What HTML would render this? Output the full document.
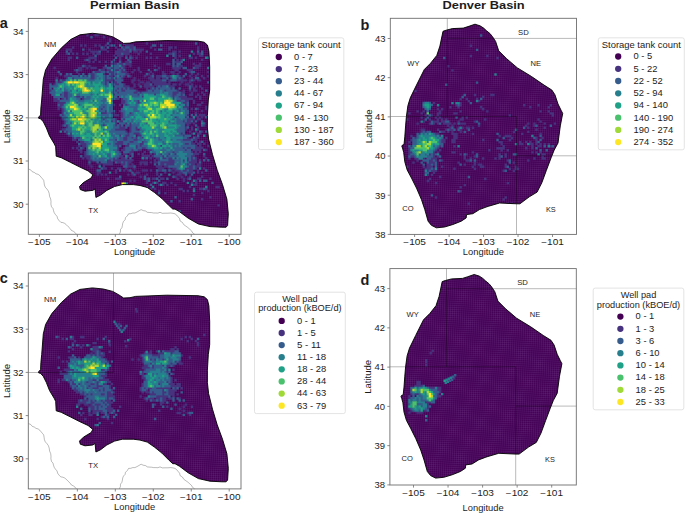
<!DOCTYPE html>
<html><head><meta charset="utf-8"><style>
html,body{margin:0;padding:0;background:#fff;width:685px;height:513px;overflow:hidden}
svg{display:block}
text{font-family:"Liberation Sans",sans-serif}
</style></head><body>
<svg width="685" height="513" viewBox="0 0 685 513">
<defs><pattern id="tex" patternUnits="userSpaceOnUse" width="2.05" height="2.05" patternTransform="rotate(2.5)"><path d="M0 0.2H2.05M0.2 0V2.05" stroke="#7a4a92" stroke-width="0.45" stroke-opacity="0.4" fill="none"/></pattern><filter id="soft" x="-5%" y="-5%" width="110%" height="110%"><feGaussianBlur stdDeviation="0.35"/></filter><clipPath id="clipa"><polygon points="41.7,100.0 43.3,79.3 45.6,69.9 51.8,59.0 61.2,48.1 70.6,39.5 80.0,34.8 92.4,33.3 103.3,34.4 112.7,36.8 118.9,40.3 123.6,43.4 130.0,43.1 135.6,41.8 166.8,40.6 198.0,41.1 204.2,42.2 207.4,45.0 208.9,51.2 209.7,66.8 209.7,90.0 208.3,100.0 207.4,115.6 207.4,128.0 208.6,139.0 212.5,154.6 217.2,170.2 222.5,184.6 226.9,199.2 228.3,213.8 227.6,225.5 226.1,227.2 221.8,227.2 210.0,226.6 198.4,224.0 188.2,218.2 179.4,211.6 175.0,209.1 172.8,209.1 169.2,205.8 161.9,198.5 154.6,192.6 147.3,187.5 140.0,185.5 133.3,184.6 122.4,184.6 114.6,186.5 106.8,190.4 100.6,195.1 95.9,197.4 95.1,188.9 92.8,190.4 85.0,191.2 80.3,189.6 79.5,186.5 83.4,182.6 91.2,177.9 92.8,174.8 88.1,170.9 79.9,167.1 70.6,162.4 61.2,157.7 56.2,156.2 55.7,146.8 54.2,143.7 49.5,135.9 46.4,128.0 43.3,121.8 40.6,118.8 38.6,118.2 38.6,117.2 40.6,115.0 40.9,108.0"/></clipPath><clipPath id="clipc"><polygon points="41.7,354.6 43.3,333.9 45.6,324.5 51.8,313.6 61.2,302.7 70.6,294.1 80.0,289.4 92.4,287.9 103.3,289.0 112.7,291.4 118.9,294.9 123.6,298.0 130.0,297.7 135.6,296.4 166.8,295.2 198.0,295.7 204.2,296.8 207.4,299.6 208.9,305.8 209.7,321.4 209.7,344.6 208.3,354.6 207.4,370.2 207.4,382.6 208.6,393.6 212.5,409.2 217.2,424.8 222.5,439.2 226.9,453.8 228.3,468.4 227.6,480.1 226.1,481.8 221.8,481.8 210.0,481.2 198.4,478.6 188.2,472.8 179.4,466.2 175.0,463.7 172.8,463.7 169.2,460.4 161.9,453.1 154.6,447.2 147.3,442.1 140.0,440.1 133.3,439.2 122.4,439.2 114.6,441.1 106.8,445.0 100.6,449.7 95.9,452.0 95.1,443.5 92.8,445.0 85.0,445.8 80.3,444.2 79.5,441.1 83.4,437.2 91.2,432.5 92.8,429.4 88.1,425.5 79.9,421.7 70.6,417.0 61.2,412.3 56.2,410.8 55.7,401.4 54.2,398.3 49.5,390.5 46.4,382.6 43.3,376.4 40.6,373.4 38.6,372.8 38.6,371.8 40.6,369.6 40.9,362.6"/></clipPath><clipPath id="clipb"><polygon points="443.0,31.3 446.2,30.2 452.4,28.6 463.3,28.1 468.0,26.6 475.0,24.2 480.0,25.8 483.6,28.1 486.2,30.5 490.0,33.6 492.5,36.7 495.6,41.4 498.7,50.8 506.5,58.6 517.4,67.9 531.5,76.5 544.0,85.1 551.8,90.0 554.9,94.7 558.0,104.0 561.1,110.3 562.7,113.4 560.3,125.9 558.0,143.0 554.2,150.0 551.1,157.8 546.4,170.3 541.8,182.8 537.1,192.1 529.3,196.8 519.9,203.8 516.8,203.8 499.6,203.0 488.7,206.2 486.0,207.1 479.4,209.6 472.8,213.7 466.5,214.6 466.2,217.9 461.2,221.2 452.9,224.5 444.6,227.0 436.4,227.8 431.4,225.3 428.1,221.2 424.8,209.6 421.5,199.7 416.5,188.1 411.5,178.1 407.2,170.0 404.8,161.8 403.7,152.4 402.5,148.0 401.8,146.2 402.5,145.0 404.0,144.6 404.8,136.8 405.6,125.9 406.4,116.5 407.9,105.6 410.3,97.8 416.5,85.1 424.3,69.5 430.6,63.2 436.8,55.4 439.9,46.1"/></clipPath><clipPath id="clipd"><polygon points="442.2,281.6 445.4,280.5 451.6,278.9 462.5,278.4 467.2,276.9 474.2,274.5 479.2,276.1 482.8,278.4 485.4,280.8 489.2,283.9 491.7,287.0 494.8,291.7 497.9,301.1 505.7,308.9 516.6,318.2 530.7,326.8 543.2,335.4 551.0,340.3 554.1,345.0 557.2,354.3 560.3,360.6 561.9,363.7 559.5,376.2 557.2,393.3 553.4,400.3 550.3,408.1 545.6,420.6 541.0,433.1 536.3,442.4 528.5,447.1 519.1,454.1 516.0,454.1 498.8,453.3 487.9,456.5 485.2,457.4 478.6,459.9 472.0,464.0 465.7,464.9 465.4,468.2 460.4,471.5 452.1,474.8 443.8,477.3 435.6,478.1 430.6,475.6 427.3,471.5 424.0,459.9 420.7,450.0 415.7,438.4 410.7,428.4 406.4,420.3 404.0,412.1 402.9,402.7 401.7,398.3 401.0,396.5 401.7,395.3 403.2,394.9 404.0,387.1 404.8,376.2 405.6,366.8 407.1,355.9 409.5,348.1 415.7,335.4 423.5,319.8 429.8,313.5 436.0,305.7 439.1,296.4"/></clipPath></defs>
<polygon points="41.7,100.0 43.3,79.3 45.6,69.9 51.8,59.0 61.2,48.1 70.6,39.5 80.0,34.8 92.4,33.3 103.3,34.4 112.7,36.8 118.9,40.3 123.6,43.4 130.0,43.1 135.6,41.8 166.8,40.6 198.0,41.1 204.2,42.2 207.4,45.0 208.9,51.2 209.7,66.8 209.7,90.0 208.3,100.0 207.4,115.6 207.4,128.0 208.6,139.0 212.5,154.6 217.2,170.2 222.5,184.6 226.9,199.2 228.3,213.8 227.6,225.5 226.1,227.2 221.8,227.2 210.0,226.6 198.4,224.0 188.2,218.2 179.4,211.6 175.0,209.1 172.8,209.1 169.2,205.8 161.9,198.5 154.6,192.6 147.3,187.5 140.0,185.5 133.3,184.6 122.4,184.6 114.6,186.5 106.8,190.4 100.6,195.1 95.9,197.4 95.1,188.9 92.8,190.4 85.0,191.2 80.3,189.6 79.5,186.5 83.4,182.6 91.2,177.9 92.8,174.8 88.1,170.9 79.9,167.1 70.6,162.4 61.2,157.7 56.2,156.2 55.7,146.8 54.2,143.7 49.5,135.9 46.4,128.0 43.3,121.8 40.6,118.8 38.6,118.2 38.6,117.2 40.6,115.0 40.9,108.0" fill="#450257"/>
<polygon points="41.7,100.0 43.3,79.3 45.6,69.9 51.8,59.0 61.2,48.1 70.6,39.5 80.0,34.8 92.4,33.3 103.3,34.4 112.7,36.8 118.9,40.3 123.6,43.4 130.0,43.1 135.6,41.8 166.8,40.6 198.0,41.1 204.2,42.2 207.4,45.0 208.9,51.2 209.7,66.8 209.7,90.0 208.3,100.0 207.4,115.6 207.4,128.0 208.6,139.0 212.5,154.6 217.2,170.2 222.5,184.6 226.9,199.2 228.3,213.8 227.6,225.5 226.1,227.2 221.8,227.2 210.0,226.6 198.4,224.0 188.2,218.2 179.4,211.6 175.0,209.1 172.8,209.1 169.2,205.8 161.9,198.5 154.6,192.6 147.3,187.5 140.0,185.5 133.3,184.6 122.4,184.6 114.6,186.5 106.8,190.4 100.6,195.1 95.9,197.4 95.1,188.9 92.8,190.4 85.0,191.2 80.3,189.6 79.5,186.5 83.4,182.6 91.2,177.9 92.8,174.8 88.1,170.9 79.9,167.1 70.6,162.4 61.2,157.7 56.2,156.2 55.7,146.8 54.2,143.7 49.5,135.9 46.4,128.0 43.3,121.8 40.6,118.8 38.6,118.2 38.6,117.2 40.6,115.0 40.9,108.0" fill="url(#tex)"/>
<g clip-path="url(#clipa)"><g filter="url(#soft)"><path fill="#46327e" d="M98.50 32.00h2.4v2.4h-2.4zM106.70 32.00h2.4v2.4h-2.4zM86.20 34.05h2.4v2.4h-2.4zM94.40 34.05h2.4v2.4h-2.4zM96.45 34.05h2.4v2.4h-2.4zM102.60 36.10h2.4v2.4h-2.4zM108.75 38.15h2.4v2.4h-2.4zM108.75 40.20h2.4v2.4h-2.4zM145.65 42.25h2.4v2.4h-2.4zM80.05 44.30h2.4v2.4h-2.4zM84.15 44.30h2.4v2.4h-2.4zM94.40 44.30h2.4v2.4h-2.4zM98.50 44.30h2.4v2.4h-2.4zM104.65 44.30h2.4v2.4h-2.4zM108.75 44.30h2.4v2.4h-2.4zM125.15 44.30h2.4v2.4h-2.4zM127.20 44.30h2.4v2.4h-2.4zM129.25 44.30h2.4v2.4h-2.4zM131.30 44.30h2.4v2.4h-2.4zM71.85 46.35h2.4v2.4h-2.4zM102.60 46.35h2.4v2.4h-2.4zM114.90 46.35h2.4v2.4h-2.4zM123.10 46.35h2.4v2.4h-2.4zM129.25 46.35h2.4v2.4h-2.4zM131.30 46.35h2.4v2.4h-2.4zM149.75 46.35h2.4v2.4h-2.4zM168.20 46.35h2.4v2.4h-2.4zM170.25 46.35h2.4v2.4h-2.4zM174.35 46.35h2.4v2.4h-2.4zM196.90 46.35h2.4v2.4h-2.4zM65.70 48.40h2.4v2.4h-2.4zM67.75 48.40h2.4v2.4h-2.4zM69.80 48.40h2.4v2.4h-2.4zM88.25 48.40h2.4v2.4h-2.4zM100.55 48.40h2.4v2.4h-2.4zM102.60 48.40h2.4v2.4h-2.4zM104.65 48.40h2.4v2.4h-2.4zM116.95 48.40h2.4v2.4h-2.4zM119.00 48.40h2.4v2.4h-2.4zM121.05 48.40h2.4v2.4h-2.4zM125.15 48.40h2.4v2.4h-2.4zM127.20 48.40h2.4v2.4h-2.4zM131.30 48.40h2.4v2.4h-2.4zM135.40 48.40h2.4v2.4h-2.4zM137.45 48.40h2.4v2.4h-2.4zM139.50 48.40h2.4v2.4h-2.4zM141.55 48.40h2.4v2.4h-2.4zM153.85 48.40h2.4v2.4h-2.4zM168.20 48.40h2.4v2.4h-2.4zM196.90 48.40h2.4v2.4h-2.4zM69.80 50.45h2.4v2.4h-2.4zM90.30 50.45h2.4v2.4h-2.4zM92.35 50.45h2.4v2.4h-2.4zM94.40 50.45h2.4v2.4h-2.4zM96.45 50.45h2.4v2.4h-2.4zM106.70 50.45h2.4v2.4h-2.4zM114.90 50.45h2.4v2.4h-2.4zM116.95 50.45h2.4v2.4h-2.4zM119.00 50.45h2.4v2.4h-2.4zM121.05 50.45h2.4v2.4h-2.4zM123.10 50.45h2.4v2.4h-2.4zM125.15 50.45h2.4v2.4h-2.4zM127.20 50.45h2.4v2.4h-2.4zM133.35 50.45h2.4v2.4h-2.4zM135.40 50.45h2.4v2.4h-2.4zM139.50 50.45h2.4v2.4h-2.4zM172.30 50.45h2.4v2.4h-2.4zM174.35 50.45h2.4v2.4h-2.4zM178.45 50.45h2.4v2.4h-2.4zM65.70 52.50h2.4v2.4h-2.4zM71.85 52.50h2.4v2.4h-2.4zM75.95 52.50h2.4v2.4h-2.4zM82.10 52.50h2.4v2.4h-2.4zM86.20 52.50h2.4v2.4h-2.4zM92.35 52.50h2.4v2.4h-2.4zM96.45 52.50h2.4v2.4h-2.4zM98.50 52.50h2.4v2.4h-2.4zM114.90 52.50h2.4v2.4h-2.4zM116.95 52.50h2.4v2.4h-2.4zM119.00 52.50h2.4v2.4h-2.4zM123.10 52.50h2.4v2.4h-2.4zM125.15 52.50h2.4v2.4h-2.4zM127.20 52.50h2.4v2.4h-2.4zM137.45 52.50h2.4v2.4h-2.4zM149.75 52.50h2.4v2.4h-2.4zM168.20 52.50h2.4v2.4h-2.4zM170.25 52.50h2.4v2.4h-2.4zM174.35 52.50h2.4v2.4h-2.4zM192.80 52.50h2.4v2.4h-2.4zM196.90 52.50h2.4v2.4h-2.4zM198.95 52.50h2.4v2.4h-2.4zM112.85 54.55h2.4v2.4h-2.4zM116.95 54.55h2.4v2.4h-2.4zM119.00 54.55h2.4v2.4h-2.4zM121.05 54.55h2.4v2.4h-2.4zM125.15 54.55h2.4v2.4h-2.4zM129.25 54.55h2.4v2.4h-2.4zM174.35 54.55h2.4v2.4h-2.4zM178.45 54.55h2.4v2.4h-2.4zM198.95 54.55h2.4v2.4h-2.4zM201.00 54.55h2.4v2.4h-2.4zM67.75 56.60h2.4v2.4h-2.4zM69.80 56.60h2.4v2.4h-2.4zM88.25 56.60h2.4v2.4h-2.4zM90.30 56.60h2.4v2.4h-2.4zM92.35 56.60h2.4v2.4h-2.4zM94.40 56.60h2.4v2.4h-2.4zM119.00 56.60h2.4v2.4h-2.4zM131.30 56.60h2.4v2.4h-2.4zM135.40 56.60h2.4v2.4h-2.4zM145.65 56.60h2.4v2.4h-2.4zM149.75 56.60h2.4v2.4h-2.4zM155.90 56.60h2.4v2.4h-2.4zM174.35 56.60h2.4v2.4h-2.4zM188.70 56.60h2.4v2.4h-2.4zM190.75 56.60h2.4v2.4h-2.4zM194.85 56.60h2.4v2.4h-2.4zM213.30 56.60h2.4v2.4h-2.4zM67.75 58.65h2.4v2.4h-2.4zM84.15 58.65h2.4v2.4h-2.4zM88.25 58.65h2.4v2.4h-2.4zM94.40 58.65h2.4v2.4h-2.4zM119.00 58.65h2.4v2.4h-2.4zM129.25 58.65h2.4v2.4h-2.4zM176.40 58.65h2.4v2.4h-2.4zM180.50 58.65h2.4v2.4h-2.4zM201.00 58.65h2.4v2.4h-2.4zM88.25 60.70h2.4v2.4h-2.4zM92.35 60.70h2.4v2.4h-2.4zM98.50 60.70h2.4v2.4h-2.4zM104.65 60.70h2.4v2.4h-2.4zM112.85 60.70h2.4v2.4h-2.4zM125.15 60.70h2.4v2.4h-2.4zM127.20 60.70h2.4v2.4h-2.4zM174.35 60.70h2.4v2.4h-2.4zM176.40 60.70h2.4v2.4h-2.4zM178.45 60.70h2.4v2.4h-2.4zM110.80 62.75h2.4v2.4h-2.4zM112.85 62.75h2.4v2.4h-2.4zM114.90 62.75h2.4v2.4h-2.4zM119.00 62.75h2.4v2.4h-2.4zM121.05 62.75h2.4v2.4h-2.4zM125.15 62.75h2.4v2.4h-2.4zM127.20 62.75h2.4v2.4h-2.4zM129.25 62.75h2.4v2.4h-2.4zM166.15 62.75h2.4v2.4h-2.4zM168.20 62.75h2.4v2.4h-2.4zM192.80 62.75h2.4v2.4h-2.4zM198.95 62.75h2.4v2.4h-2.4zM84.15 64.80h2.4v2.4h-2.4zM88.25 64.80h2.4v2.4h-2.4zM121.05 64.80h2.4v2.4h-2.4zM123.10 64.80h2.4v2.4h-2.4zM129.25 64.80h2.4v2.4h-2.4zM153.85 64.80h2.4v2.4h-2.4zM174.35 64.80h2.4v2.4h-2.4zM178.45 64.80h2.4v2.4h-2.4zM180.50 64.80h2.4v2.4h-2.4zM194.85 64.80h2.4v2.4h-2.4zM196.90 64.80h2.4v2.4h-2.4zM198.95 64.80h2.4v2.4h-2.4zM53.40 66.85h2.4v2.4h-2.4zM78.00 66.85h2.4v2.4h-2.4zM80.05 66.85h2.4v2.4h-2.4zM86.20 66.85h2.4v2.4h-2.4zM90.30 66.85h2.4v2.4h-2.4zM92.35 66.85h2.4v2.4h-2.4zM94.40 66.85h2.4v2.4h-2.4zM102.60 66.85h2.4v2.4h-2.4zM104.65 66.85h2.4v2.4h-2.4zM110.80 66.85h2.4v2.4h-2.4zM119.00 66.85h2.4v2.4h-2.4zM123.10 66.85h2.4v2.4h-2.4zM137.45 66.85h2.4v2.4h-2.4zM157.95 66.85h2.4v2.4h-2.4zM172.30 66.85h2.4v2.4h-2.4zM174.35 66.85h2.4v2.4h-2.4zM176.40 66.85h2.4v2.4h-2.4zM178.45 66.85h2.4v2.4h-2.4zM194.85 66.85h2.4v2.4h-2.4zM196.90 66.85h2.4v2.4h-2.4zM73.90 68.90h2.4v2.4h-2.4zM78.00 68.90h2.4v2.4h-2.4zM80.05 68.90h2.4v2.4h-2.4zM100.55 68.90h2.4v2.4h-2.4zM102.60 68.90h2.4v2.4h-2.4zM106.70 68.90h2.4v2.4h-2.4zM108.75 68.90h2.4v2.4h-2.4zM114.90 68.90h2.4v2.4h-2.4zM116.95 68.90h2.4v2.4h-2.4zM121.05 68.90h2.4v2.4h-2.4zM133.35 68.90h2.4v2.4h-2.4zM137.45 68.90h2.4v2.4h-2.4zM155.90 68.90h2.4v2.4h-2.4zM174.35 68.90h2.4v2.4h-2.4zM176.40 68.90h2.4v2.4h-2.4zM186.65 68.90h2.4v2.4h-2.4zM188.70 68.90h2.4v2.4h-2.4zM190.75 68.90h2.4v2.4h-2.4zM209.20 68.90h2.4v2.4h-2.4zM75.95 70.95h2.4v2.4h-2.4zM94.40 70.95h2.4v2.4h-2.4zM96.45 70.95h2.4v2.4h-2.4zM98.50 70.95h2.4v2.4h-2.4zM104.65 70.95h2.4v2.4h-2.4zM108.75 70.95h2.4v2.4h-2.4zM110.80 70.95h2.4v2.4h-2.4zM121.05 70.95h2.4v2.4h-2.4zM123.10 70.95h2.4v2.4h-2.4zM125.15 70.95h2.4v2.4h-2.4zM131.30 70.95h2.4v2.4h-2.4zM139.50 70.95h2.4v2.4h-2.4zM149.75 70.95h2.4v2.4h-2.4zM162.05 70.95h2.4v2.4h-2.4zM170.25 70.95h2.4v2.4h-2.4zM172.30 70.95h2.4v2.4h-2.4zM178.45 70.95h2.4v2.4h-2.4zM188.70 70.95h2.4v2.4h-2.4zM207.15 70.95h2.4v2.4h-2.4zM209.20 70.95h2.4v2.4h-2.4zM67.75 73.00h2.4v2.4h-2.4zM78.00 73.00h2.4v2.4h-2.4zM90.30 73.00h2.4v2.4h-2.4zM92.35 73.00h2.4v2.4h-2.4zM102.60 73.00h2.4v2.4h-2.4zM110.80 73.00h2.4v2.4h-2.4zM114.90 73.00h2.4v2.4h-2.4zM125.15 73.00h2.4v2.4h-2.4zM127.20 73.00h2.4v2.4h-2.4zM147.70 73.00h2.4v2.4h-2.4zM151.80 73.00h2.4v2.4h-2.4zM162.05 73.00h2.4v2.4h-2.4zM164.10 73.00h2.4v2.4h-2.4zM172.30 73.00h2.4v2.4h-2.4zM176.40 73.00h2.4v2.4h-2.4zM190.75 73.00h2.4v2.4h-2.4zM196.90 73.00h2.4v2.4h-2.4zM63.65 75.05h2.4v2.4h-2.4zM65.70 75.05h2.4v2.4h-2.4zM67.75 75.05h2.4v2.4h-2.4zM69.80 75.05h2.4v2.4h-2.4zM78.00 75.05h2.4v2.4h-2.4zM82.10 75.05h2.4v2.4h-2.4zM86.20 75.05h2.4v2.4h-2.4zM90.30 75.05h2.4v2.4h-2.4zM92.35 75.05h2.4v2.4h-2.4zM104.65 75.05h2.4v2.4h-2.4zM108.75 75.05h2.4v2.4h-2.4zM110.80 75.05h2.4v2.4h-2.4zM112.85 75.05h2.4v2.4h-2.4zM119.00 75.05h2.4v2.4h-2.4zM123.10 75.05h2.4v2.4h-2.4zM129.25 75.05h2.4v2.4h-2.4zM143.60 75.05h2.4v2.4h-2.4zM149.75 75.05h2.4v2.4h-2.4zM155.90 75.05h2.4v2.4h-2.4zM157.95 75.05h2.4v2.4h-2.4zM160.00 75.05h2.4v2.4h-2.4zM166.15 75.05h2.4v2.4h-2.4zM168.20 75.05h2.4v2.4h-2.4zM178.45 75.05h2.4v2.4h-2.4zM188.70 75.05h2.4v2.4h-2.4zM194.85 75.05h2.4v2.4h-2.4zM201.00 75.05h2.4v2.4h-2.4zM207.15 75.05h2.4v2.4h-2.4zM55.45 77.10h2.4v2.4h-2.4zM65.70 77.10h2.4v2.4h-2.4zM71.85 77.10h2.4v2.4h-2.4zM90.30 77.10h2.4v2.4h-2.4zM92.35 77.10h2.4v2.4h-2.4zM104.65 77.10h2.4v2.4h-2.4zM110.80 77.10h2.4v2.4h-2.4zM114.90 77.10h2.4v2.4h-2.4zM121.05 77.10h2.4v2.4h-2.4zM133.35 77.10h2.4v2.4h-2.4zM147.70 77.10h2.4v2.4h-2.4zM149.75 77.10h2.4v2.4h-2.4zM151.80 77.10h2.4v2.4h-2.4zM155.90 77.10h2.4v2.4h-2.4zM157.95 77.10h2.4v2.4h-2.4zM162.05 77.10h2.4v2.4h-2.4zM164.10 77.10h2.4v2.4h-2.4zM170.25 77.10h2.4v2.4h-2.4zM176.40 77.10h2.4v2.4h-2.4zM180.50 77.10h2.4v2.4h-2.4zM190.75 77.10h2.4v2.4h-2.4zM203.05 77.10h2.4v2.4h-2.4zM61.60 79.15h2.4v2.4h-2.4zM63.65 79.15h2.4v2.4h-2.4zM104.65 79.15h2.4v2.4h-2.4zM106.70 79.15h2.4v2.4h-2.4zM108.75 79.15h2.4v2.4h-2.4zM110.80 79.15h2.4v2.4h-2.4zM112.85 79.15h2.4v2.4h-2.4zM131.30 79.15h2.4v2.4h-2.4zM133.35 79.15h2.4v2.4h-2.4zM137.45 79.15h2.4v2.4h-2.4zM149.75 79.15h2.4v2.4h-2.4zM151.80 79.15h2.4v2.4h-2.4zM153.85 79.15h2.4v2.4h-2.4zM155.90 79.15h2.4v2.4h-2.4zM157.95 79.15h2.4v2.4h-2.4zM160.00 79.15h2.4v2.4h-2.4zM168.20 79.15h2.4v2.4h-2.4zM176.40 79.15h2.4v2.4h-2.4zM178.45 79.15h2.4v2.4h-2.4zM180.50 79.15h2.4v2.4h-2.4zM182.55 79.15h2.4v2.4h-2.4zM184.60 79.15h2.4v2.4h-2.4zM188.70 79.15h2.4v2.4h-2.4zM192.80 79.15h2.4v2.4h-2.4zM196.90 79.15h2.4v2.4h-2.4zM198.95 79.15h2.4v2.4h-2.4zM57.50 81.20h2.4v2.4h-2.4zM59.55 81.20h2.4v2.4h-2.4zM104.65 81.20h2.4v2.4h-2.4zM112.85 81.20h2.4v2.4h-2.4zM114.90 81.20h2.4v2.4h-2.4zM131.30 81.20h2.4v2.4h-2.4zM139.50 81.20h2.4v2.4h-2.4zM141.55 81.20h2.4v2.4h-2.4zM145.65 81.20h2.4v2.4h-2.4zM147.70 81.20h2.4v2.4h-2.4zM151.80 81.20h2.4v2.4h-2.4zM153.85 81.20h2.4v2.4h-2.4zM155.90 81.20h2.4v2.4h-2.4zM157.95 81.20h2.4v2.4h-2.4zM160.00 81.20h2.4v2.4h-2.4zM162.05 81.20h2.4v2.4h-2.4zM164.10 81.20h2.4v2.4h-2.4zM168.20 81.20h2.4v2.4h-2.4zM180.50 81.20h2.4v2.4h-2.4zM188.70 81.20h2.4v2.4h-2.4zM209.20 81.20h2.4v2.4h-2.4zM53.40 83.25h2.4v2.4h-2.4zM104.65 83.25h2.4v2.4h-2.4zM114.90 83.25h2.4v2.4h-2.4zM116.95 83.25h2.4v2.4h-2.4zM123.10 83.25h2.4v2.4h-2.4zM133.35 83.25h2.4v2.4h-2.4zM137.45 83.25h2.4v2.4h-2.4zM143.60 83.25h2.4v2.4h-2.4zM145.65 83.25h2.4v2.4h-2.4zM147.70 83.25h2.4v2.4h-2.4zM153.85 83.25h2.4v2.4h-2.4zM155.90 83.25h2.4v2.4h-2.4zM157.95 83.25h2.4v2.4h-2.4zM160.00 83.25h2.4v2.4h-2.4zM162.05 83.25h2.4v2.4h-2.4zM164.10 83.25h2.4v2.4h-2.4zM166.15 83.25h2.4v2.4h-2.4zM168.20 83.25h2.4v2.4h-2.4zM172.30 83.25h2.4v2.4h-2.4zM174.35 83.25h2.4v2.4h-2.4zM178.45 83.25h2.4v2.4h-2.4zM184.60 83.25h2.4v2.4h-2.4zM186.65 83.25h2.4v2.4h-2.4zM190.75 83.25h2.4v2.4h-2.4zM112.85 85.30h2.4v2.4h-2.4zM123.10 85.30h2.4v2.4h-2.4zM125.15 85.30h2.4v2.4h-2.4zM127.20 85.30h2.4v2.4h-2.4zM133.35 85.30h2.4v2.4h-2.4zM143.60 85.30h2.4v2.4h-2.4zM145.65 85.30h2.4v2.4h-2.4zM147.70 85.30h2.4v2.4h-2.4zM149.75 85.30h2.4v2.4h-2.4zM151.80 85.30h2.4v2.4h-2.4zM155.90 85.30h2.4v2.4h-2.4zM160.00 85.30h2.4v2.4h-2.4zM168.20 85.30h2.4v2.4h-2.4zM170.25 85.30h2.4v2.4h-2.4zM172.30 85.30h2.4v2.4h-2.4zM190.75 85.30h2.4v2.4h-2.4zM194.85 85.30h2.4v2.4h-2.4zM198.95 85.30h2.4v2.4h-2.4zM116.95 87.35h2.4v2.4h-2.4zM121.05 87.35h2.4v2.4h-2.4zM125.15 87.35h2.4v2.4h-2.4zM129.25 87.35h2.4v2.4h-2.4zM131.30 87.35h2.4v2.4h-2.4zM145.65 87.35h2.4v2.4h-2.4zM149.75 87.35h2.4v2.4h-2.4zM153.85 87.35h2.4v2.4h-2.4zM157.95 87.35h2.4v2.4h-2.4zM170.25 87.35h2.4v2.4h-2.4zM192.80 87.35h2.4v2.4h-2.4zM201.00 87.35h2.4v2.4h-2.4zM49.30 89.40h2.4v2.4h-2.4zM114.90 89.40h2.4v2.4h-2.4zM121.05 89.40h2.4v2.4h-2.4zM123.10 89.40h2.4v2.4h-2.4zM135.40 89.40h2.4v2.4h-2.4zM145.65 89.40h2.4v2.4h-2.4zM151.80 89.40h2.4v2.4h-2.4zM164.10 89.40h2.4v2.4h-2.4zM176.40 89.40h2.4v2.4h-2.4zM182.55 89.40h2.4v2.4h-2.4zM188.70 89.40h2.4v2.4h-2.4zM192.80 89.40h2.4v2.4h-2.4zM194.85 89.40h2.4v2.4h-2.4zM209.20 89.40h2.4v2.4h-2.4zM63.65 91.45h2.4v2.4h-2.4zM65.70 91.45h2.4v2.4h-2.4zM116.95 91.45h2.4v2.4h-2.4zM133.35 91.45h2.4v2.4h-2.4zM135.40 91.45h2.4v2.4h-2.4zM139.50 91.45h2.4v2.4h-2.4zM172.30 91.45h2.4v2.4h-2.4zM174.35 91.45h2.4v2.4h-2.4zM176.40 91.45h2.4v2.4h-2.4zM180.50 91.45h2.4v2.4h-2.4zM182.55 91.45h2.4v2.4h-2.4zM190.75 91.45h2.4v2.4h-2.4zM201.00 91.45h2.4v2.4h-2.4zM59.55 93.50h2.4v2.4h-2.4zM63.65 93.50h2.4v2.4h-2.4zM65.70 93.50h2.4v2.4h-2.4zM112.85 93.50h2.4v2.4h-2.4zM137.45 93.50h2.4v2.4h-2.4zM153.85 93.50h2.4v2.4h-2.4zM172.30 93.50h2.4v2.4h-2.4zM174.35 93.50h2.4v2.4h-2.4zM180.50 93.50h2.4v2.4h-2.4zM188.70 93.50h2.4v2.4h-2.4zM190.75 93.50h2.4v2.4h-2.4zM196.90 93.50h2.4v2.4h-2.4zM203.05 93.50h2.4v2.4h-2.4zM63.65 95.55h2.4v2.4h-2.4zM65.70 95.55h2.4v2.4h-2.4zM75.95 95.55h2.4v2.4h-2.4zM78.00 95.55h2.4v2.4h-2.4zM82.10 95.55h2.4v2.4h-2.4zM141.55 95.55h2.4v2.4h-2.4zM172.30 95.55h2.4v2.4h-2.4zM178.45 95.55h2.4v2.4h-2.4zM180.50 95.55h2.4v2.4h-2.4zM182.55 95.55h2.4v2.4h-2.4zM184.60 95.55h2.4v2.4h-2.4zM194.85 95.55h2.4v2.4h-2.4zM198.95 95.55h2.4v2.4h-2.4zM37.00 97.60h2.4v2.4h-2.4zM53.40 97.60h2.4v2.4h-2.4zM55.45 97.60h2.4v2.4h-2.4zM61.60 97.60h2.4v2.4h-2.4zM65.70 97.60h2.4v2.4h-2.4zM82.10 97.60h2.4v2.4h-2.4zM114.90 97.60h2.4v2.4h-2.4zM116.95 97.60h2.4v2.4h-2.4zM121.05 97.60h2.4v2.4h-2.4zM172.30 97.60h2.4v2.4h-2.4zM180.50 97.60h2.4v2.4h-2.4zM182.55 97.60h2.4v2.4h-2.4zM184.60 97.60h2.4v2.4h-2.4zM186.65 97.60h2.4v2.4h-2.4zM188.70 97.60h2.4v2.4h-2.4zM190.75 97.60h2.4v2.4h-2.4zM198.95 97.60h2.4v2.4h-2.4zM209.20 97.60h2.4v2.4h-2.4zM53.40 99.65h2.4v2.4h-2.4zM55.45 99.65h2.4v2.4h-2.4zM57.50 99.65h2.4v2.4h-2.4zM121.05 99.65h2.4v2.4h-2.4zM123.10 99.65h2.4v2.4h-2.4zM137.45 99.65h2.4v2.4h-2.4zM176.40 99.65h2.4v2.4h-2.4zM178.45 99.65h2.4v2.4h-2.4zM184.60 99.65h2.4v2.4h-2.4zM186.65 99.65h2.4v2.4h-2.4zM192.80 99.65h2.4v2.4h-2.4zM57.50 101.70h2.4v2.4h-2.4zM59.55 101.70h2.4v2.4h-2.4zM61.60 101.70h2.4v2.4h-2.4zM63.65 101.70h2.4v2.4h-2.4zM121.05 101.70h2.4v2.4h-2.4zM123.10 101.70h2.4v2.4h-2.4zM137.45 101.70h2.4v2.4h-2.4zM182.55 101.70h2.4v2.4h-2.4zM184.60 101.70h2.4v2.4h-2.4zM192.80 101.70h2.4v2.4h-2.4zM201.00 101.70h2.4v2.4h-2.4zM59.55 103.75h2.4v2.4h-2.4zM61.60 103.75h2.4v2.4h-2.4zM112.85 103.75h2.4v2.4h-2.4zM119.00 103.75h2.4v2.4h-2.4zM125.15 103.75h2.4v2.4h-2.4zM184.60 103.75h2.4v2.4h-2.4zM196.90 103.75h2.4v2.4h-2.4zM198.95 103.75h2.4v2.4h-2.4zM57.50 105.80h2.4v2.4h-2.4zM59.55 105.80h2.4v2.4h-2.4zM102.60 105.80h2.4v2.4h-2.4zM182.55 105.80h2.4v2.4h-2.4zM184.60 105.80h2.4v2.4h-2.4zM186.65 105.80h2.4v2.4h-2.4zM205.10 105.80h2.4v2.4h-2.4zM57.50 107.85h2.4v2.4h-2.4zM61.60 107.85h2.4v2.4h-2.4zM100.55 107.85h2.4v2.4h-2.4zM186.65 107.85h2.4v2.4h-2.4zM190.75 107.85h2.4v2.4h-2.4zM196.90 107.85h2.4v2.4h-2.4zM205.10 107.85h2.4v2.4h-2.4zM61.60 109.90h2.4v2.4h-2.4zM104.65 109.90h2.4v2.4h-2.4zM119.00 109.90h2.4v2.4h-2.4zM201.00 109.90h2.4v2.4h-2.4zM61.60 111.95h2.4v2.4h-2.4zM100.55 111.95h2.4v2.4h-2.4zM102.60 111.95h2.4v2.4h-2.4zM104.65 111.95h2.4v2.4h-2.4zM110.80 111.95h2.4v2.4h-2.4zM112.85 111.95h2.4v2.4h-2.4zM121.05 111.95h2.4v2.4h-2.4zM129.25 111.95h2.4v2.4h-2.4zM194.85 111.95h2.4v2.4h-2.4zM61.60 114.00h2.4v2.4h-2.4zM112.85 114.00h2.4v2.4h-2.4zM114.90 114.00h2.4v2.4h-2.4zM116.95 114.00h2.4v2.4h-2.4zM121.05 114.00h2.4v2.4h-2.4zM186.65 114.00h2.4v2.4h-2.4zM198.95 114.00h2.4v2.4h-2.4zM201.00 114.00h2.4v2.4h-2.4zM203.05 114.00h2.4v2.4h-2.4zM121.05 116.05h2.4v2.4h-2.4zM174.35 116.05h2.4v2.4h-2.4zM184.60 116.05h2.4v2.4h-2.4zM196.90 116.05h2.4v2.4h-2.4zM201.00 116.05h2.4v2.4h-2.4zM61.60 118.10h2.4v2.4h-2.4zM102.60 118.10h2.4v2.4h-2.4zM114.90 118.10h2.4v2.4h-2.4zM123.10 118.10h2.4v2.4h-2.4zM186.65 118.10h2.4v2.4h-2.4zM188.70 118.10h2.4v2.4h-2.4zM190.75 118.10h2.4v2.4h-2.4zM192.80 118.10h2.4v2.4h-2.4zM196.90 118.10h2.4v2.4h-2.4zM198.95 118.10h2.4v2.4h-2.4zM207.15 118.10h2.4v2.4h-2.4zM63.65 120.15h2.4v2.4h-2.4zM110.80 120.15h2.4v2.4h-2.4zM114.90 120.15h2.4v2.4h-2.4zM119.00 120.15h2.4v2.4h-2.4zM121.05 120.15h2.4v2.4h-2.4zM182.55 120.15h2.4v2.4h-2.4zM186.65 120.15h2.4v2.4h-2.4zM188.70 120.15h2.4v2.4h-2.4zM63.65 122.20h2.4v2.4h-2.4zM114.90 122.20h2.4v2.4h-2.4zM125.15 122.20h2.4v2.4h-2.4zM129.25 122.20h2.4v2.4h-2.4zM184.60 122.20h2.4v2.4h-2.4zM186.65 122.20h2.4v2.4h-2.4zM188.70 122.20h2.4v2.4h-2.4zM192.80 122.20h2.4v2.4h-2.4zM61.60 124.25h2.4v2.4h-2.4zM65.70 124.25h2.4v2.4h-2.4zM102.60 124.25h2.4v2.4h-2.4zM114.90 124.25h2.4v2.4h-2.4zM119.00 124.25h2.4v2.4h-2.4zM129.25 124.25h2.4v2.4h-2.4zM186.65 124.25h2.4v2.4h-2.4zM203.05 124.25h2.4v2.4h-2.4zM65.70 126.30h2.4v2.4h-2.4zM119.00 126.30h2.4v2.4h-2.4zM121.05 126.30h2.4v2.4h-2.4zM123.10 126.30h2.4v2.4h-2.4zM129.25 126.30h2.4v2.4h-2.4zM135.40 126.30h2.4v2.4h-2.4zM184.60 126.30h2.4v2.4h-2.4zM190.75 126.30h2.4v2.4h-2.4zM196.90 126.30h2.4v2.4h-2.4zM61.60 128.35h2.4v2.4h-2.4zM63.65 128.35h2.4v2.4h-2.4zM114.90 128.35h2.4v2.4h-2.4zM116.95 128.35h2.4v2.4h-2.4zM119.00 128.35h2.4v2.4h-2.4zM121.05 128.35h2.4v2.4h-2.4zM123.10 128.35h2.4v2.4h-2.4zM129.25 128.35h2.4v2.4h-2.4zM135.40 128.35h2.4v2.4h-2.4zM184.60 128.35h2.4v2.4h-2.4zM190.75 128.35h2.4v2.4h-2.4zM196.90 128.35h2.4v2.4h-2.4zM65.70 130.40h2.4v2.4h-2.4zM125.15 130.40h2.4v2.4h-2.4zM129.25 130.40h2.4v2.4h-2.4zM188.70 130.40h2.4v2.4h-2.4zM194.85 130.40h2.4v2.4h-2.4zM201.00 130.40h2.4v2.4h-2.4zM65.70 132.45h2.4v2.4h-2.4zM69.80 132.45h2.4v2.4h-2.4zM127.20 132.45h2.4v2.4h-2.4zM133.35 132.45h2.4v2.4h-2.4zM135.40 132.45h2.4v2.4h-2.4zM137.45 132.45h2.4v2.4h-2.4zM180.50 132.45h2.4v2.4h-2.4zM190.75 132.45h2.4v2.4h-2.4zM196.90 132.45h2.4v2.4h-2.4zM198.95 132.45h2.4v2.4h-2.4zM67.75 134.50h2.4v2.4h-2.4zM69.80 134.50h2.4v2.4h-2.4zM119.00 134.50h2.4v2.4h-2.4zM125.15 134.50h2.4v2.4h-2.4zM127.20 134.50h2.4v2.4h-2.4zM137.45 134.50h2.4v2.4h-2.4zM139.50 134.50h2.4v2.4h-2.4zM182.55 134.50h2.4v2.4h-2.4zM71.85 136.55h2.4v2.4h-2.4zM75.95 136.55h2.4v2.4h-2.4zM78.00 136.55h2.4v2.4h-2.4zM123.10 136.55h2.4v2.4h-2.4zM125.15 136.55h2.4v2.4h-2.4zM131.30 136.55h2.4v2.4h-2.4zM135.40 136.55h2.4v2.4h-2.4zM141.55 136.55h2.4v2.4h-2.4zM186.65 136.55h2.4v2.4h-2.4zM194.85 136.55h2.4v2.4h-2.4zM196.90 136.55h2.4v2.4h-2.4zM209.20 136.55h2.4v2.4h-2.4zM71.85 138.60h2.4v2.4h-2.4zM73.90 138.60h2.4v2.4h-2.4zM114.90 138.60h2.4v2.4h-2.4zM123.10 138.60h2.4v2.4h-2.4zM125.15 138.60h2.4v2.4h-2.4zM133.35 138.60h2.4v2.4h-2.4zM135.40 138.60h2.4v2.4h-2.4zM182.55 138.60h2.4v2.4h-2.4zM184.60 138.60h2.4v2.4h-2.4zM186.65 138.60h2.4v2.4h-2.4zM188.70 138.60h2.4v2.4h-2.4zM192.80 138.60h2.4v2.4h-2.4zM194.85 138.60h2.4v2.4h-2.4zM75.95 140.65h2.4v2.4h-2.4zM80.05 140.65h2.4v2.4h-2.4zM82.10 140.65h2.4v2.4h-2.4zM116.95 140.65h2.4v2.4h-2.4zM119.00 140.65h2.4v2.4h-2.4zM121.05 140.65h2.4v2.4h-2.4zM129.25 140.65h2.4v2.4h-2.4zM131.30 140.65h2.4v2.4h-2.4zM141.55 140.65h2.4v2.4h-2.4zM190.75 140.65h2.4v2.4h-2.4zM194.85 140.65h2.4v2.4h-2.4zM198.95 140.65h2.4v2.4h-2.4zM80.05 142.70h2.4v2.4h-2.4zM82.10 142.70h2.4v2.4h-2.4zM84.15 142.70h2.4v2.4h-2.4zM114.90 142.70h2.4v2.4h-2.4zM116.95 142.70h2.4v2.4h-2.4zM119.00 142.70h2.4v2.4h-2.4zM121.05 142.70h2.4v2.4h-2.4zM127.20 142.70h2.4v2.4h-2.4zM139.50 142.70h2.4v2.4h-2.4zM141.55 142.70h2.4v2.4h-2.4zM184.60 142.70h2.4v2.4h-2.4zM186.65 142.70h2.4v2.4h-2.4zM190.75 142.70h2.4v2.4h-2.4zM192.80 142.70h2.4v2.4h-2.4zM196.90 142.70h2.4v2.4h-2.4zM198.95 142.70h2.4v2.4h-2.4zM203.05 142.70h2.4v2.4h-2.4zM211.25 142.70h2.4v2.4h-2.4zM78.00 144.75h2.4v2.4h-2.4zM82.10 144.75h2.4v2.4h-2.4zM84.15 144.75h2.4v2.4h-2.4zM116.95 144.75h2.4v2.4h-2.4zM125.15 144.75h2.4v2.4h-2.4zM127.20 144.75h2.4v2.4h-2.4zM135.40 144.75h2.4v2.4h-2.4zM139.50 144.75h2.4v2.4h-2.4zM160.00 144.75h2.4v2.4h-2.4zM194.85 144.75h2.4v2.4h-2.4zM198.95 144.75h2.4v2.4h-2.4zM207.15 144.75h2.4v2.4h-2.4zM71.85 146.80h2.4v2.4h-2.4zM75.95 146.80h2.4v2.4h-2.4zM82.10 146.80h2.4v2.4h-2.4zM116.95 146.80h2.4v2.4h-2.4zM123.10 146.80h2.4v2.4h-2.4zM135.40 146.80h2.4v2.4h-2.4zM141.55 146.80h2.4v2.4h-2.4zM143.60 146.80h2.4v2.4h-2.4zM182.55 146.80h2.4v2.4h-2.4zM186.65 146.80h2.4v2.4h-2.4zM188.70 146.80h2.4v2.4h-2.4zM194.85 146.80h2.4v2.4h-2.4zM196.90 146.80h2.4v2.4h-2.4zM198.95 146.80h2.4v2.4h-2.4zM201.00 146.80h2.4v2.4h-2.4zM78.00 148.85h2.4v2.4h-2.4zM80.05 148.85h2.4v2.4h-2.4zM116.95 148.85h2.4v2.4h-2.4zM121.05 148.85h2.4v2.4h-2.4zM123.10 148.85h2.4v2.4h-2.4zM131.30 148.85h2.4v2.4h-2.4zM137.45 148.85h2.4v2.4h-2.4zM139.50 148.85h2.4v2.4h-2.4zM147.70 148.85h2.4v2.4h-2.4zM149.75 148.85h2.4v2.4h-2.4zM184.60 148.85h2.4v2.4h-2.4zM192.80 148.85h2.4v2.4h-2.4zM194.85 148.85h2.4v2.4h-2.4zM196.90 148.85h2.4v2.4h-2.4zM198.95 148.85h2.4v2.4h-2.4zM205.10 148.85h2.4v2.4h-2.4zM80.05 150.90h2.4v2.4h-2.4zM84.15 150.90h2.4v2.4h-2.4zM119.00 150.90h2.4v2.4h-2.4zM129.25 150.90h2.4v2.4h-2.4zM131.30 150.90h2.4v2.4h-2.4zM143.60 150.90h2.4v2.4h-2.4zM172.30 150.90h2.4v2.4h-2.4zM190.75 150.90h2.4v2.4h-2.4zM194.85 150.90h2.4v2.4h-2.4zM198.95 150.90h2.4v2.4h-2.4zM84.15 152.95h2.4v2.4h-2.4zM123.10 152.95h2.4v2.4h-2.4zM125.15 152.95h2.4v2.4h-2.4zM129.25 152.95h2.4v2.4h-2.4zM137.45 152.95h2.4v2.4h-2.4zM141.55 152.95h2.4v2.4h-2.4zM149.75 152.95h2.4v2.4h-2.4zM153.85 152.95h2.4v2.4h-2.4zM160.00 152.95h2.4v2.4h-2.4zM168.20 152.95h2.4v2.4h-2.4zM174.35 152.95h2.4v2.4h-2.4zM192.80 152.95h2.4v2.4h-2.4zM194.85 152.95h2.4v2.4h-2.4zM196.90 152.95h2.4v2.4h-2.4zM84.15 155.00h2.4v2.4h-2.4zM86.20 155.00h2.4v2.4h-2.4zM88.25 155.00h2.4v2.4h-2.4zM119.00 155.00h2.4v2.4h-2.4zM121.05 155.00h2.4v2.4h-2.4zM127.20 155.00h2.4v2.4h-2.4zM141.55 155.00h2.4v2.4h-2.4zM143.60 155.00h2.4v2.4h-2.4zM145.65 155.00h2.4v2.4h-2.4zM147.70 155.00h2.4v2.4h-2.4zM151.80 155.00h2.4v2.4h-2.4zM162.05 155.00h2.4v2.4h-2.4zM166.15 155.00h2.4v2.4h-2.4zM190.75 155.00h2.4v2.4h-2.4zM192.80 155.00h2.4v2.4h-2.4zM203.05 155.00h2.4v2.4h-2.4zM82.10 157.05h2.4v2.4h-2.4zM86.20 157.05h2.4v2.4h-2.4zM88.25 157.05h2.4v2.4h-2.4zM112.85 157.05h2.4v2.4h-2.4zM116.95 157.05h2.4v2.4h-2.4zM121.05 157.05h2.4v2.4h-2.4zM123.10 157.05h2.4v2.4h-2.4zM143.60 157.05h2.4v2.4h-2.4zM149.75 157.05h2.4v2.4h-2.4zM155.90 157.05h2.4v2.4h-2.4zM157.95 157.05h2.4v2.4h-2.4zM162.05 157.05h2.4v2.4h-2.4zM164.10 157.05h2.4v2.4h-2.4zM168.20 157.05h2.4v2.4h-2.4zM170.25 157.05h2.4v2.4h-2.4zM174.35 157.05h2.4v2.4h-2.4zM186.65 157.05h2.4v2.4h-2.4zM190.75 157.05h2.4v2.4h-2.4zM194.85 157.05h2.4v2.4h-2.4zM205.10 157.05h2.4v2.4h-2.4zM88.25 159.10h2.4v2.4h-2.4zM90.30 159.10h2.4v2.4h-2.4zM106.70 159.10h2.4v2.4h-2.4zM108.75 159.10h2.4v2.4h-2.4zM112.85 159.10h2.4v2.4h-2.4zM114.90 159.10h2.4v2.4h-2.4zM116.95 159.10h2.4v2.4h-2.4zM119.00 159.10h2.4v2.4h-2.4zM121.05 159.10h2.4v2.4h-2.4zM123.10 159.10h2.4v2.4h-2.4zM125.15 159.10h2.4v2.4h-2.4zM127.20 159.10h2.4v2.4h-2.4zM129.25 159.10h2.4v2.4h-2.4zM131.30 159.10h2.4v2.4h-2.4zM153.85 159.10h2.4v2.4h-2.4zM157.95 159.10h2.4v2.4h-2.4zM168.20 159.10h2.4v2.4h-2.4zM170.25 159.10h2.4v2.4h-2.4zM172.30 159.10h2.4v2.4h-2.4zM182.55 159.10h2.4v2.4h-2.4zM186.65 159.10h2.4v2.4h-2.4zM190.75 159.10h2.4v2.4h-2.4zM192.80 159.10h2.4v2.4h-2.4zM194.85 159.10h2.4v2.4h-2.4zM198.95 159.10h2.4v2.4h-2.4zM106.70 161.15h2.4v2.4h-2.4zM108.75 161.15h2.4v2.4h-2.4zM110.80 161.15h2.4v2.4h-2.4zM116.95 161.15h2.4v2.4h-2.4zM119.00 161.15h2.4v2.4h-2.4zM123.10 161.15h2.4v2.4h-2.4zM127.20 161.15h2.4v2.4h-2.4zM129.25 161.15h2.4v2.4h-2.4zM139.50 161.15h2.4v2.4h-2.4zM141.55 161.15h2.4v2.4h-2.4zM143.60 161.15h2.4v2.4h-2.4zM145.65 161.15h2.4v2.4h-2.4zM149.75 161.15h2.4v2.4h-2.4zM153.85 161.15h2.4v2.4h-2.4zM155.90 161.15h2.4v2.4h-2.4zM160.00 161.15h2.4v2.4h-2.4zM162.05 161.15h2.4v2.4h-2.4zM164.10 161.15h2.4v2.4h-2.4zM166.15 161.15h2.4v2.4h-2.4zM168.20 161.15h2.4v2.4h-2.4zM170.25 161.15h2.4v2.4h-2.4zM172.30 161.15h2.4v2.4h-2.4zM188.70 161.15h2.4v2.4h-2.4zM190.75 161.15h2.4v2.4h-2.4zM192.80 161.15h2.4v2.4h-2.4zM194.85 161.15h2.4v2.4h-2.4zM88.25 163.20h2.4v2.4h-2.4zM98.50 163.20h2.4v2.4h-2.4zM102.60 163.20h2.4v2.4h-2.4zM104.65 163.20h2.4v2.4h-2.4zM106.70 163.20h2.4v2.4h-2.4zM108.75 163.20h2.4v2.4h-2.4zM110.80 163.20h2.4v2.4h-2.4zM121.05 163.20h2.4v2.4h-2.4zM123.10 163.20h2.4v2.4h-2.4zM127.20 163.20h2.4v2.4h-2.4zM131.30 163.20h2.4v2.4h-2.4zM139.50 163.20h2.4v2.4h-2.4zM143.60 163.20h2.4v2.4h-2.4zM145.65 163.20h2.4v2.4h-2.4zM160.00 163.20h2.4v2.4h-2.4zM162.05 163.20h2.4v2.4h-2.4zM166.15 163.20h2.4v2.4h-2.4zM168.20 163.20h2.4v2.4h-2.4zM170.25 163.20h2.4v2.4h-2.4zM172.30 163.20h2.4v2.4h-2.4zM186.65 163.20h2.4v2.4h-2.4zM190.75 163.20h2.4v2.4h-2.4zM192.80 163.20h2.4v2.4h-2.4zM196.90 163.20h2.4v2.4h-2.4zM198.95 163.20h2.4v2.4h-2.4zM90.30 165.25h2.4v2.4h-2.4zM102.60 165.25h2.4v2.4h-2.4zM127.20 165.25h2.4v2.4h-2.4zM129.25 165.25h2.4v2.4h-2.4zM131.30 165.25h2.4v2.4h-2.4zM155.90 165.25h2.4v2.4h-2.4zM157.95 165.25h2.4v2.4h-2.4zM160.00 165.25h2.4v2.4h-2.4zM164.10 165.25h2.4v2.4h-2.4zM166.15 165.25h2.4v2.4h-2.4zM188.70 165.25h2.4v2.4h-2.4zM190.75 165.25h2.4v2.4h-2.4zM194.85 165.25h2.4v2.4h-2.4zM196.90 165.25h2.4v2.4h-2.4zM198.95 165.25h2.4v2.4h-2.4zM102.60 167.30h2.4v2.4h-2.4zM104.65 167.30h2.4v2.4h-2.4zM110.80 167.30h2.4v2.4h-2.4zM116.95 167.30h2.4v2.4h-2.4zM119.00 167.30h2.4v2.4h-2.4zM125.15 167.30h2.4v2.4h-2.4zM133.35 167.30h2.4v2.4h-2.4zM157.95 167.30h2.4v2.4h-2.4zM160.00 167.30h2.4v2.4h-2.4zM162.05 167.30h2.4v2.4h-2.4zM168.20 167.30h2.4v2.4h-2.4zM172.30 167.30h2.4v2.4h-2.4zM174.35 167.30h2.4v2.4h-2.4zM184.60 167.30h2.4v2.4h-2.4zM186.65 167.30h2.4v2.4h-2.4zM188.70 167.30h2.4v2.4h-2.4zM190.75 167.30h2.4v2.4h-2.4zM194.85 167.30h2.4v2.4h-2.4zM203.05 167.30h2.4v2.4h-2.4zM114.90 169.35h2.4v2.4h-2.4zM123.10 169.35h2.4v2.4h-2.4zM127.20 169.35h2.4v2.4h-2.4zM141.55 169.35h2.4v2.4h-2.4zM143.60 169.35h2.4v2.4h-2.4zM145.65 169.35h2.4v2.4h-2.4zM149.75 169.35h2.4v2.4h-2.4zM157.95 169.35h2.4v2.4h-2.4zM160.00 169.35h2.4v2.4h-2.4zM170.25 169.35h2.4v2.4h-2.4zM174.35 169.35h2.4v2.4h-2.4zM176.40 169.35h2.4v2.4h-2.4zM178.45 169.35h2.4v2.4h-2.4zM182.55 169.35h2.4v2.4h-2.4zM184.60 169.35h2.4v2.4h-2.4zM188.70 169.35h2.4v2.4h-2.4zM190.75 169.35h2.4v2.4h-2.4zM196.90 169.35h2.4v2.4h-2.4zM96.45 171.40h2.4v2.4h-2.4zM98.50 171.40h2.4v2.4h-2.4zM114.90 171.40h2.4v2.4h-2.4zM135.40 171.40h2.4v2.4h-2.4zM137.45 171.40h2.4v2.4h-2.4zM155.90 171.40h2.4v2.4h-2.4zM164.10 171.40h2.4v2.4h-2.4zM172.30 171.40h2.4v2.4h-2.4zM178.45 171.40h2.4v2.4h-2.4zM180.50 171.40h2.4v2.4h-2.4zM186.65 171.40h2.4v2.4h-2.4zM188.70 171.40h2.4v2.4h-2.4zM190.75 171.40h2.4v2.4h-2.4zM196.90 171.40h2.4v2.4h-2.4zM201.00 171.40h2.4v2.4h-2.4zM96.45 173.45h2.4v2.4h-2.4zM100.55 173.45h2.4v2.4h-2.4zM104.65 173.45h2.4v2.4h-2.4zM127.20 173.45h2.4v2.4h-2.4zM131.30 173.45h2.4v2.4h-2.4zM145.65 173.45h2.4v2.4h-2.4zM155.90 173.45h2.4v2.4h-2.4zM176.40 173.45h2.4v2.4h-2.4zM178.45 173.45h2.4v2.4h-2.4zM139.50 175.50h2.4v2.4h-2.4zM157.95 175.50h2.4v2.4h-2.4zM174.35 175.50h2.4v2.4h-2.4zM180.50 175.50h2.4v2.4h-2.4zM188.70 175.50h2.4v2.4h-2.4zM201.00 175.50h2.4v2.4h-2.4zM106.70 177.55h2.4v2.4h-2.4zM114.90 177.55h2.4v2.4h-2.4zM116.95 177.55h2.4v2.4h-2.4zM119.00 177.55h2.4v2.4h-2.4zM145.65 177.55h2.4v2.4h-2.4zM151.80 177.55h2.4v2.4h-2.4zM153.85 177.55h2.4v2.4h-2.4zM160.00 177.55h2.4v2.4h-2.4zM162.05 177.55h2.4v2.4h-2.4zM176.40 177.55h2.4v2.4h-2.4zM182.55 177.55h2.4v2.4h-2.4zM186.65 177.55h2.4v2.4h-2.4zM196.90 177.55h2.4v2.4h-2.4zM198.95 177.55h2.4v2.4h-2.4zM209.20 177.55h2.4v2.4h-2.4zM129.25 179.60h2.4v2.4h-2.4zM133.35 179.60h2.4v2.4h-2.4zM145.65 179.60h2.4v2.4h-2.4zM182.55 179.60h2.4v2.4h-2.4zM194.85 179.60h2.4v2.4h-2.4zM116.95 181.65h2.4v2.4h-2.4zM123.10 181.65h2.4v2.4h-2.4zM145.65 181.65h2.4v2.4h-2.4zM151.80 181.65h2.4v2.4h-2.4zM155.90 181.65h2.4v2.4h-2.4zM162.05 181.65h2.4v2.4h-2.4zM164.10 181.65h2.4v2.4h-2.4zM170.25 181.65h2.4v2.4h-2.4zM190.75 181.65h2.4v2.4h-2.4zM194.85 181.65h2.4v2.4h-2.4zM157.95 183.70h2.4v2.4h-2.4zM162.05 183.70h2.4v2.4h-2.4zM166.15 183.70h2.4v2.4h-2.4zM174.35 183.70h2.4v2.4h-2.4zM192.80 183.70h2.4v2.4h-2.4zM194.85 183.70h2.4v2.4h-2.4zM125.15 185.75h2.4v2.4h-2.4zM145.65 185.75h2.4v2.4h-2.4zM188.70 185.75h2.4v2.4h-2.4zM215.35 185.75h2.4v2.4h-2.4zM217.40 185.75h2.4v2.4h-2.4zM145.65 187.80h2.4v2.4h-2.4zM149.75 187.80h2.4v2.4h-2.4zM153.85 187.80h2.4v2.4h-2.4zM178.45 187.80h2.4v2.4h-2.4zM180.50 187.80h2.4v2.4h-2.4zM198.95 187.80h2.4v2.4h-2.4zM201.00 187.80h2.4v2.4h-2.4zM205.10 187.80h2.4v2.4h-2.4zM143.60 189.85h2.4v2.4h-2.4zM157.95 189.85h2.4v2.4h-2.4zM182.55 189.85h2.4v2.4h-2.4zM186.65 189.85h2.4v2.4h-2.4zM207.15 189.85h2.4v2.4h-2.4zM143.60 191.90h2.4v2.4h-2.4zM164.10 191.90h2.4v2.4h-2.4zM201.00 191.90h2.4v2.4h-2.4zM155.90 193.95h2.4v2.4h-2.4zM192.80 193.95h2.4v2.4h-2.4zM209.20 196.00h2.4v2.4h-2.4zM201.00 198.05h2.4v2.4h-2.4zM178.45 200.10h2.4v2.4h-2.4zM217.40 204.20h2.4v2.4h-2.4z"/><path fill="#365c8d" d="M90.30 36.10h2.4v2.4h-2.4zM106.70 42.25h2.4v2.4h-2.4zM123.10 42.25h2.4v2.4h-2.4zM194.85 42.25h2.4v2.4h-2.4zM110.80 44.30h2.4v2.4h-2.4zM112.85 44.30h2.4v2.4h-2.4zM151.80 44.30h2.4v2.4h-2.4zM153.85 44.30h2.4v2.4h-2.4zM160.00 44.30h2.4v2.4h-2.4zM100.55 46.35h2.4v2.4h-2.4zM106.70 46.35h2.4v2.4h-2.4zM121.05 46.35h2.4v2.4h-2.4zM125.15 46.35h2.4v2.4h-2.4zM127.20 46.35h2.4v2.4h-2.4zM133.35 46.35h2.4v2.4h-2.4zM82.10 48.40h2.4v2.4h-2.4zM123.10 48.40h2.4v2.4h-2.4zM129.25 48.40h2.4v2.4h-2.4zM133.35 48.40h2.4v2.4h-2.4zM157.95 48.40h2.4v2.4h-2.4zM160.00 48.40h2.4v2.4h-2.4zM65.70 50.45h2.4v2.4h-2.4zM98.50 50.45h2.4v2.4h-2.4zM129.25 50.45h2.4v2.4h-2.4zM145.65 50.45h2.4v2.4h-2.4zM196.90 50.45h2.4v2.4h-2.4zM201.00 50.45h2.4v2.4h-2.4zM67.75 52.50h2.4v2.4h-2.4zM121.05 52.50h2.4v2.4h-2.4zM172.30 52.50h2.4v2.4h-2.4zM201.00 52.50h2.4v2.4h-2.4zM94.40 54.55h2.4v2.4h-2.4zM172.30 54.55h2.4v2.4h-2.4zM75.95 56.60h2.4v2.4h-2.4zM114.90 56.60h2.4v2.4h-2.4zM125.15 56.60h2.4v2.4h-2.4zM129.25 56.60h2.4v2.4h-2.4zM207.15 56.60h2.4v2.4h-2.4zM86.20 58.65h2.4v2.4h-2.4zM112.85 58.65h2.4v2.4h-2.4zM127.20 58.65h2.4v2.4h-2.4zM172.30 58.65h2.4v2.4h-2.4zM110.80 60.70h2.4v2.4h-2.4zM119.00 60.70h2.4v2.4h-2.4zM129.25 60.70h2.4v2.4h-2.4zM172.30 60.70h2.4v2.4h-2.4zM180.50 60.70h2.4v2.4h-2.4zM116.95 62.75h2.4v2.4h-2.4zM123.10 62.75h2.4v2.4h-2.4zM172.30 62.75h2.4v2.4h-2.4zM176.40 62.75h2.4v2.4h-2.4zM178.45 62.75h2.4v2.4h-2.4zM82.10 64.80h2.4v2.4h-2.4zM104.65 64.80h2.4v2.4h-2.4zM112.85 64.80h2.4v2.4h-2.4zM114.90 64.80h2.4v2.4h-2.4zM116.95 64.80h2.4v2.4h-2.4zM172.30 64.80h2.4v2.4h-2.4zM176.40 64.80h2.4v2.4h-2.4zM106.70 66.85h2.4v2.4h-2.4zM108.75 66.85h2.4v2.4h-2.4zM112.85 66.85h2.4v2.4h-2.4zM114.90 66.85h2.4v2.4h-2.4zM116.95 66.85h2.4v2.4h-2.4zM121.05 66.85h2.4v2.4h-2.4zM182.55 66.85h2.4v2.4h-2.4zM184.60 66.85h2.4v2.4h-2.4zM192.80 66.85h2.4v2.4h-2.4zM75.95 68.90h2.4v2.4h-2.4zM98.50 68.90h2.4v2.4h-2.4zM112.85 68.90h2.4v2.4h-2.4zM119.00 68.90h2.4v2.4h-2.4zM123.10 68.90h2.4v2.4h-2.4zM147.70 68.90h2.4v2.4h-2.4zM153.85 68.90h2.4v2.4h-2.4zM57.50 70.95h2.4v2.4h-2.4zM92.35 70.95h2.4v2.4h-2.4zM100.55 70.95h2.4v2.4h-2.4zM102.60 70.95h2.4v2.4h-2.4zM106.70 70.95h2.4v2.4h-2.4zM112.85 70.95h2.4v2.4h-2.4zM114.90 70.95h2.4v2.4h-2.4zM119.00 70.95h2.4v2.4h-2.4zM190.75 70.95h2.4v2.4h-2.4zM192.80 70.95h2.4v2.4h-2.4zM59.55 73.00h2.4v2.4h-2.4zM65.70 73.00h2.4v2.4h-2.4zM69.80 73.00h2.4v2.4h-2.4zM82.10 73.00h2.4v2.4h-2.4zM88.25 73.00h2.4v2.4h-2.4zM94.40 73.00h2.4v2.4h-2.4zM108.75 73.00h2.4v2.4h-2.4zM112.85 73.00h2.4v2.4h-2.4zM116.95 73.00h2.4v2.4h-2.4zM119.00 73.00h2.4v2.4h-2.4zM121.05 73.00h2.4v2.4h-2.4zM123.10 73.00h2.4v2.4h-2.4zM145.65 73.00h2.4v2.4h-2.4zM184.60 73.00h2.4v2.4h-2.4zM71.85 75.05h2.4v2.4h-2.4zM73.90 75.05h2.4v2.4h-2.4zM75.95 75.05h2.4v2.4h-2.4zM84.15 75.05h2.4v2.4h-2.4zM94.40 75.05h2.4v2.4h-2.4zM96.45 75.05h2.4v2.4h-2.4zM102.60 75.05h2.4v2.4h-2.4zM106.70 75.05h2.4v2.4h-2.4zM114.90 75.05h2.4v2.4h-2.4zM121.05 75.05h2.4v2.4h-2.4zM127.20 75.05h2.4v2.4h-2.4zM151.80 75.05h2.4v2.4h-2.4zM162.05 75.05h2.4v2.4h-2.4zM164.10 75.05h2.4v2.4h-2.4zM170.25 75.05h2.4v2.4h-2.4zM176.40 75.05h2.4v2.4h-2.4zM182.55 75.05h2.4v2.4h-2.4zM73.90 77.10h2.4v2.4h-2.4zM75.95 77.10h2.4v2.4h-2.4zM78.00 77.10h2.4v2.4h-2.4zM80.05 77.10h2.4v2.4h-2.4zM82.10 77.10h2.4v2.4h-2.4zM84.15 77.10h2.4v2.4h-2.4zM86.20 77.10h2.4v2.4h-2.4zM88.25 77.10h2.4v2.4h-2.4zM94.40 77.10h2.4v2.4h-2.4zM98.50 77.10h2.4v2.4h-2.4zM102.60 77.10h2.4v2.4h-2.4zM106.70 77.10h2.4v2.4h-2.4zM108.75 77.10h2.4v2.4h-2.4zM116.95 77.10h2.4v2.4h-2.4zM119.00 77.10h2.4v2.4h-2.4zM166.15 77.10h2.4v2.4h-2.4zM178.45 77.10h2.4v2.4h-2.4zM194.85 77.10h2.4v2.4h-2.4zM196.90 77.10h2.4v2.4h-2.4zM59.55 79.15h2.4v2.4h-2.4zM88.25 79.15h2.4v2.4h-2.4zM90.30 79.15h2.4v2.4h-2.4zM92.35 79.15h2.4v2.4h-2.4zM102.60 79.15h2.4v2.4h-2.4zM114.90 79.15h2.4v2.4h-2.4zM116.95 79.15h2.4v2.4h-2.4zM119.00 79.15h2.4v2.4h-2.4zM121.05 79.15h2.4v2.4h-2.4zM162.05 79.15h2.4v2.4h-2.4zM164.10 79.15h2.4v2.4h-2.4zM170.25 79.15h2.4v2.4h-2.4zM172.30 79.15h2.4v2.4h-2.4zM174.35 79.15h2.4v2.4h-2.4zM190.75 79.15h2.4v2.4h-2.4zM55.45 81.20h2.4v2.4h-2.4zM61.60 81.20h2.4v2.4h-2.4zM90.30 81.20h2.4v2.4h-2.4zM100.55 81.20h2.4v2.4h-2.4zM102.60 81.20h2.4v2.4h-2.4zM106.70 81.20h2.4v2.4h-2.4zM110.80 81.20h2.4v2.4h-2.4zM116.95 81.20h2.4v2.4h-2.4zM119.00 81.20h2.4v2.4h-2.4zM207.15 81.20h2.4v2.4h-2.4zM49.30 83.25h2.4v2.4h-2.4zM55.45 83.25h2.4v2.4h-2.4zM102.60 83.25h2.4v2.4h-2.4zM106.70 83.25h2.4v2.4h-2.4zM110.80 83.25h2.4v2.4h-2.4zM112.85 83.25h2.4v2.4h-2.4zM119.00 83.25h2.4v2.4h-2.4zM121.05 83.25h2.4v2.4h-2.4zM149.75 83.25h2.4v2.4h-2.4zM49.30 85.30h2.4v2.4h-2.4zM51.35 85.30h2.4v2.4h-2.4zM53.40 85.30h2.4v2.4h-2.4zM55.45 85.30h2.4v2.4h-2.4zM104.65 85.30h2.4v2.4h-2.4zM106.70 85.30h2.4v2.4h-2.4zM114.90 85.30h2.4v2.4h-2.4zM116.95 85.30h2.4v2.4h-2.4zM119.00 85.30h2.4v2.4h-2.4zM121.05 85.30h2.4v2.4h-2.4zM139.50 85.30h2.4v2.4h-2.4zM157.95 85.30h2.4v2.4h-2.4zM162.05 85.30h2.4v2.4h-2.4zM164.10 85.30h2.4v2.4h-2.4zM188.70 85.30h2.4v2.4h-2.4zM49.30 87.35h2.4v2.4h-2.4zM59.55 87.35h2.4v2.4h-2.4zM63.65 87.35h2.4v2.4h-2.4zM112.85 87.35h2.4v2.4h-2.4zM114.90 87.35h2.4v2.4h-2.4zM119.00 87.35h2.4v2.4h-2.4zM123.10 87.35h2.4v2.4h-2.4zM127.20 87.35h2.4v2.4h-2.4zM151.80 87.35h2.4v2.4h-2.4zM155.90 87.35h2.4v2.4h-2.4zM160.00 87.35h2.4v2.4h-2.4zM162.05 87.35h2.4v2.4h-2.4zM164.10 87.35h2.4v2.4h-2.4zM166.15 87.35h2.4v2.4h-2.4zM168.20 87.35h2.4v2.4h-2.4zM172.30 87.35h2.4v2.4h-2.4zM178.45 87.35h2.4v2.4h-2.4zM188.70 87.35h2.4v2.4h-2.4zM51.35 89.40h2.4v2.4h-2.4zM53.40 89.40h2.4v2.4h-2.4zM63.65 89.40h2.4v2.4h-2.4zM65.70 89.40h2.4v2.4h-2.4zM69.80 89.40h2.4v2.4h-2.4zM75.95 89.40h2.4v2.4h-2.4zM112.85 89.40h2.4v2.4h-2.4zM116.95 89.40h2.4v2.4h-2.4zM119.00 89.40h2.4v2.4h-2.4zM125.15 89.40h2.4v2.4h-2.4zM127.20 89.40h2.4v2.4h-2.4zM129.25 89.40h2.4v2.4h-2.4zM131.30 89.40h2.4v2.4h-2.4zM133.35 89.40h2.4v2.4h-2.4zM147.70 89.40h2.4v2.4h-2.4zM149.75 89.40h2.4v2.4h-2.4zM153.85 89.40h2.4v2.4h-2.4zM155.90 89.40h2.4v2.4h-2.4zM157.95 89.40h2.4v2.4h-2.4zM162.05 89.40h2.4v2.4h-2.4zM166.15 89.40h2.4v2.4h-2.4zM168.20 89.40h2.4v2.4h-2.4zM170.25 89.40h2.4v2.4h-2.4zM172.30 89.40h2.4v2.4h-2.4zM174.35 89.40h2.4v2.4h-2.4zM205.10 89.40h2.4v2.4h-2.4zM49.30 91.45h2.4v2.4h-2.4zM51.35 91.45h2.4v2.4h-2.4zM53.40 91.45h2.4v2.4h-2.4zM61.60 91.45h2.4v2.4h-2.4zM67.75 91.45h2.4v2.4h-2.4zM110.80 91.45h2.4v2.4h-2.4zM112.85 91.45h2.4v2.4h-2.4zM114.90 91.45h2.4v2.4h-2.4zM119.00 91.45h2.4v2.4h-2.4zM121.05 91.45h2.4v2.4h-2.4zM123.10 91.45h2.4v2.4h-2.4zM125.15 91.45h2.4v2.4h-2.4zM127.20 91.45h2.4v2.4h-2.4zM129.25 91.45h2.4v2.4h-2.4zM131.30 91.45h2.4v2.4h-2.4zM137.45 91.45h2.4v2.4h-2.4zM141.55 91.45h2.4v2.4h-2.4zM143.60 91.45h2.4v2.4h-2.4zM145.65 91.45h2.4v2.4h-2.4zM147.70 91.45h2.4v2.4h-2.4zM149.75 91.45h2.4v2.4h-2.4zM151.80 91.45h2.4v2.4h-2.4zM153.85 91.45h2.4v2.4h-2.4zM155.90 91.45h2.4v2.4h-2.4zM157.95 91.45h2.4v2.4h-2.4zM162.05 91.45h2.4v2.4h-2.4zM168.20 91.45h2.4v2.4h-2.4zM170.25 91.45h2.4v2.4h-2.4zM178.45 91.45h2.4v2.4h-2.4zM51.35 93.50h2.4v2.4h-2.4zM53.40 93.50h2.4v2.4h-2.4zM61.60 93.50h2.4v2.4h-2.4zM67.75 93.50h2.4v2.4h-2.4zM69.80 93.50h2.4v2.4h-2.4zM75.95 93.50h2.4v2.4h-2.4zM78.00 93.50h2.4v2.4h-2.4zM90.30 93.50h2.4v2.4h-2.4zM96.45 93.50h2.4v2.4h-2.4zM114.90 93.50h2.4v2.4h-2.4zM116.95 93.50h2.4v2.4h-2.4zM119.00 93.50h2.4v2.4h-2.4zM121.05 93.50h2.4v2.4h-2.4zM123.10 93.50h2.4v2.4h-2.4zM125.15 93.50h2.4v2.4h-2.4zM129.25 93.50h2.4v2.4h-2.4zM131.30 93.50h2.4v2.4h-2.4zM133.35 93.50h2.4v2.4h-2.4zM135.40 93.50h2.4v2.4h-2.4zM141.55 93.50h2.4v2.4h-2.4zM168.20 93.50h2.4v2.4h-2.4zM170.25 93.50h2.4v2.4h-2.4zM176.40 93.50h2.4v2.4h-2.4zM178.45 93.50h2.4v2.4h-2.4zM182.55 93.50h2.4v2.4h-2.4zM39.05 95.55h2.4v2.4h-2.4zM53.40 95.55h2.4v2.4h-2.4zM55.45 95.55h2.4v2.4h-2.4zM57.50 95.55h2.4v2.4h-2.4zM59.55 95.55h2.4v2.4h-2.4zM61.60 95.55h2.4v2.4h-2.4zM67.75 95.55h2.4v2.4h-2.4zM69.80 95.55h2.4v2.4h-2.4zM73.90 95.55h2.4v2.4h-2.4zM80.05 95.55h2.4v2.4h-2.4zM86.20 95.55h2.4v2.4h-2.4zM88.25 95.55h2.4v2.4h-2.4zM112.85 95.55h2.4v2.4h-2.4zM114.90 95.55h2.4v2.4h-2.4zM119.00 95.55h2.4v2.4h-2.4zM123.10 95.55h2.4v2.4h-2.4zM131.30 95.55h2.4v2.4h-2.4zM133.35 95.55h2.4v2.4h-2.4zM135.40 95.55h2.4v2.4h-2.4zM137.45 95.55h2.4v2.4h-2.4zM170.25 95.55h2.4v2.4h-2.4zM174.35 95.55h2.4v2.4h-2.4zM176.40 95.55h2.4v2.4h-2.4zM57.50 97.60h2.4v2.4h-2.4zM63.65 97.60h2.4v2.4h-2.4zM67.75 97.60h2.4v2.4h-2.4zM75.95 97.60h2.4v2.4h-2.4zM78.00 97.60h2.4v2.4h-2.4zM84.15 97.60h2.4v2.4h-2.4zM86.20 97.60h2.4v2.4h-2.4zM88.25 97.60h2.4v2.4h-2.4zM102.60 97.60h2.4v2.4h-2.4zM104.65 97.60h2.4v2.4h-2.4zM112.85 97.60h2.4v2.4h-2.4zM123.10 97.60h2.4v2.4h-2.4zM125.15 97.60h2.4v2.4h-2.4zM176.40 97.60h2.4v2.4h-2.4zM178.45 97.60h2.4v2.4h-2.4zM59.55 99.65h2.4v2.4h-2.4zM61.60 99.65h2.4v2.4h-2.4zM63.65 99.65h2.4v2.4h-2.4zM65.70 99.65h2.4v2.4h-2.4zM67.75 99.65h2.4v2.4h-2.4zM78.00 99.65h2.4v2.4h-2.4zM80.05 99.65h2.4v2.4h-2.4zM82.10 99.65h2.4v2.4h-2.4zM92.35 99.65h2.4v2.4h-2.4zM100.55 99.65h2.4v2.4h-2.4zM102.60 99.65h2.4v2.4h-2.4zM104.65 99.65h2.4v2.4h-2.4zM110.80 99.65h2.4v2.4h-2.4zM125.15 99.65h2.4v2.4h-2.4zM129.25 99.65h2.4v2.4h-2.4zM133.35 99.65h2.4v2.4h-2.4zM135.40 99.65h2.4v2.4h-2.4zM141.55 99.65h2.4v2.4h-2.4zM180.50 99.65h2.4v2.4h-2.4zM182.55 99.65h2.4v2.4h-2.4zM75.95 101.70h2.4v2.4h-2.4zM102.60 101.70h2.4v2.4h-2.4zM125.15 101.70h2.4v2.4h-2.4zM135.40 101.70h2.4v2.4h-2.4zM139.50 101.70h2.4v2.4h-2.4zM180.50 101.70h2.4v2.4h-2.4zM186.65 101.70h2.4v2.4h-2.4zM57.50 103.75h2.4v2.4h-2.4zM78.00 103.75h2.4v2.4h-2.4zM100.55 103.75h2.4v2.4h-2.4zM102.60 103.75h2.4v2.4h-2.4zM104.65 103.75h2.4v2.4h-2.4zM110.80 103.75h2.4v2.4h-2.4zM123.10 103.75h2.4v2.4h-2.4zM127.20 103.75h2.4v2.4h-2.4zM135.40 103.75h2.4v2.4h-2.4zM178.45 103.75h2.4v2.4h-2.4zM186.65 103.75h2.4v2.4h-2.4zM61.60 105.80h2.4v2.4h-2.4zM82.10 105.80h2.4v2.4h-2.4zM98.50 105.80h2.4v2.4h-2.4zM100.55 105.80h2.4v2.4h-2.4zM104.65 105.80h2.4v2.4h-2.4zM108.75 105.80h2.4v2.4h-2.4zM110.80 105.80h2.4v2.4h-2.4zM129.25 105.80h2.4v2.4h-2.4zM131.30 105.80h2.4v2.4h-2.4zM133.35 105.80h2.4v2.4h-2.4zM135.40 105.80h2.4v2.4h-2.4zM176.40 105.80h2.4v2.4h-2.4zM63.65 107.85h2.4v2.4h-2.4zM98.50 107.85h2.4v2.4h-2.4zM102.60 107.85h2.4v2.4h-2.4zM104.65 107.85h2.4v2.4h-2.4zM108.75 107.85h2.4v2.4h-2.4zM110.80 107.85h2.4v2.4h-2.4zM121.05 107.85h2.4v2.4h-2.4zM133.35 107.85h2.4v2.4h-2.4zM135.40 107.85h2.4v2.4h-2.4zM178.45 107.85h2.4v2.4h-2.4zM182.55 107.85h2.4v2.4h-2.4zM184.60 107.85h2.4v2.4h-2.4zM194.85 107.85h2.4v2.4h-2.4zM63.65 109.90h2.4v2.4h-2.4zM69.80 109.90h2.4v2.4h-2.4zM98.50 109.90h2.4v2.4h-2.4zM100.55 109.90h2.4v2.4h-2.4zM102.60 109.90h2.4v2.4h-2.4zM108.75 109.90h2.4v2.4h-2.4zM110.80 109.90h2.4v2.4h-2.4zM112.85 109.90h2.4v2.4h-2.4zM121.05 109.90h2.4v2.4h-2.4zM123.10 109.90h2.4v2.4h-2.4zM133.35 109.90h2.4v2.4h-2.4zM135.40 109.90h2.4v2.4h-2.4zM137.45 109.90h2.4v2.4h-2.4zM160.00 109.90h2.4v2.4h-2.4zM172.30 109.90h2.4v2.4h-2.4zM178.45 109.90h2.4v2.4h-2.4zM184.60 109.90h2.4v2.4h-2.4zM186.65 109.90h2.4v2.4h-2.4zM65.70 111.95h2.4v2.4h-2.4zM106.70 111.95h2.4v2.4h-2.4zM108.75 111.95h2.4v2.4h-2.4zM123.10 111.95h2.4v2.4h-2.4zM131.30 111.95h2.4v2.4h-2.4zM172.30 111.95h2.4v2.4h-2.4zM176.40 111.95h2.4v2.4h-2.4zM184.60 111.95h2.4v2.4h-2.4zM186.65 111.95h2.4v2.4h-2.4zM59.55 114.00h2.4v2.4h-2.4zM63.65 114.00h2.4v2.4h-2.4zM100.55 114.00h2.4v2.4h-2.4zM102.60 114.00h2.4v2.4h-2.4zM104.65 114.00h2.4v2.4h-2.4zM106.70 114.00h2.4v2.4h-2.4zM110.80 114.00h2.4v2.4h-2.4zM123.10 114.00h2.4v2.4h-2.4zM127.20 114.00h2.4v2.4h-2.4zM129.25 114.00h2.4v2.4h-2.4zM131.30 114.00h2.4v2.4h-2.4zM170.25 114.00h2.4v2.4h-2.4zM184.60 114.00h2.4v2.4h-2.4zM190.75 114.00h2.4v2.4h-2.4zM194.85 114.00h2.4v2.4h-2.4zM61.60 116.05h2.4v2.4h-2.4zM63.65 116.05h2.4v2.4h-2.4zM65.70 116.05h2.4v2.4h-2.4zM100.55 116.05h2.4v2.4h-2.4zM104.65 116.05h2.4v2.4h-2.4zM106.70 116.05h2.4v2.4h-2.4zM110.80 116.05h2.4v2.4h-2.4zM123.10 116.05h2.4v2.4h-2.4zM125.15 116.05h2.4v2.4h-2.4zM127.20 116.05h2.4v2.4h-2.4zM133.35 116.05h2.4v2.4h-2.4zM143.60 116.05h2.4v2.4h-2.4zM176.40 116.05h2.4v2.4h-2.4zM186.65 116.05h2.4v2.4h-2.4zM205.10 116.05h2.4v2.4h-2.4zM63.65 118.10h2.4v2.4h-2.4zM100.55 118.10h2.4v2.4h-2.4zM104.65 118.10h2.4v2.4h-2.4zM110.80 118.10h2.4v2.4h-2.4zM112.85 118.10h2.4v2.4h-2.4zM121.05 118.10h2.4v2.4h-2.4zM131.30 118.10h2.4v2.4h-2.4zM172.30 118.10h2.4v2.4h-2.4zM176.40 118.10h2.4v2.4h-2.4zM178.45 118.10h2.4v2.4h-2.4zM182.55 118.10h2.4v2.4h-2.4zM184.60 118.10h2.4v2.4h-2.4zM65.70 120.15h2.4v2.4h-2.4zM100.55 120.15h2.4v2.4h-2.4zM104.65 120.15h2.4v2.4h-2.4zM106.70 120.15h2.4v2.4h-2.4zM112.85 120.15h2.4v2.4h-2.4zM127.20 120.15h2.4v2.4h-2.4zM131.30 120.15h2.4v2.4h-2.4zM168.20 120.15h2.4v2.4h-2.4zM176.40 120.15h2.4v2.4h-2.4zM178.45 120.15h2.4v2.4h-2.4zM180.50 120.15h2.4v2.4h-2.4zM184.60 120.15h2.4v2.4h-2.4zM190.75 120.15h2.4v2.4h-2.4zM194.85 120.15h2.4v2.4h-2.4zM201.00 120.15h2.4v2.4h-2.4zM69.80 122.20h2.4v2.4h-2.4zM102.60 122.20h2.4v2.4h-2.4zM119.00 122.20h2.4v2.4h-2.4zM121.05 122.20h2.4v2.4h-2.4zM123.10 122.20h2.4v2.4h-2.4zM133.35 122.20h2.4v2.4h-2.4zM137.45 122.20h2.4v2.4h-2.4zM145.65 122.20h2.4v2.4h-2.4zM172.30 122.20h2.4v2.4h-2.4zM176.40 122.20h2.4v2.4h-2.4zM178.45 122.20h2.4v2.4h-2.4zM180.50 122.20h2.4v2.4h-2.4zM182.55 122.20h2.4v2.4h-2.4zM203.05 122.20h2.4v2.4h-2.4zM63.65 124.25h2.4v2.4h-2.4zM67.75 124.25h2.4v2.4h-2.4zM100.55 124.25h2.4v2.4h-2.4zM104.65 124.25h2.4v2.4h-2.4zM112.85 124.25h2.4v2.4h-2.4zM116.95 124.25h2.4v2.4h-2.4zM121.05 124.25h2.4v2.4h-2.4zM125.15 124.25h2.4v2.4h-2.4zM127.20 124.25h2.4v2.4h-2.4zM131.30 124.25h2.4v2.4h-2.4zM133.35 124.25h2.4v2.4h-2.4zM135.40 124.25h2.4v2.4h-2.4zM137.45 124.25h2.4v2.4h-2.4zM180.50 124.25h2.4v2.4h-2.4zM182.55 124.25h2.4v2.4h-2.4zM194.85 124.25h2.4v2.4h-2.4zM201.00 124.25h2.4v2.4h-2.4zM67.75 126.30h2.4v2.4h-2.4zM69.80 126.30h2.4v2.4h-2.4zM112.85 126.30h2.4v2.4h-2.4zM114.90 126.30h2.4v2.4h-2.4zM116.95 126.30h2.4v2.4h-2.4zM125.15 126.30h2.4v2.4h-2.4zM131.30 126.30h2.4v2.4h-2.4zM133.35 126.30h2.4v2.4h-2.4zM139.50 126.30h2.4v2.4h-2.4zM178.45 126.30h2.4v2.4h-2.4zM180.50 126.30h2.4v2.4h-2.4zM182.55 126.30h2.4v2.4h-2.4zM186.65 126.30h2.4v2.4h-2.4zM65.70 128.35h2.4v2.4h-2.4zM67.75 128.35h2.4v2.4h-2.4zM69.80 128.35h2.4v2.4h-2.4zM102.60 128.35h2.4v2.4h-2.4zM110.80 128.35h2.4v2.4h-2.4zM112.85 128.35h2.4v2.4h-2.4zM131.30 128.35h2.4v2.4h-2.4zM133.35 128.35h2.4v2.4h-2.4zM139.50 128.35h2.4v2.4h-2.4zM176.40 128.35h2.4v2.4h-2.4zM178.45 128.35h2.4v2.4h-2.4zM180.50 128.35h2.4v2.4h-2.4zM182.55 128.35h2.4v2.4h-2.4zM63.65 130.40h2.4v2.4h-2.4zM67.75 130.40h2.4v2.4h-2.4zM69.80 130.40h2.4v2.4h-2.4zM108.75 130.40h2.4v2.4h-2.4zM110.80 130.40h2.4v2.4h-2.4zM112.85 130.40h2.4v2.4h-2.4zM114.90 130.40h2.4v2.4h-2.4zM116.95 130.40h2.4v2.4h-2.4zM119.00 130.40h2.4v2.4h-2.4zM121.05 130.40h2.4v2.4h-2.4zM123.10 130.40h2.4v2.4h-2.4zM131.30 130.40h2.4v2.4h-2.4zM133.35 130.40h2.4v2.4h-2.4zM135.40 130.40h2.4v2.4h-2.4zM137.45 130.40h2.4v2.4h-2.4zM141.55 130.40h2.4v2.4h-2.4zM176.40 130.40h2.4v2.4h-2.4zM178.45 130.40h2.4v2.4h-2.4zM180.50 130.40h2.4v2.4h-2.4zM182.55 130.40h2.4v2.4h-2.4zM198.95 130.40h2.4v2.4h-2.4zM205.10 130.40h2.4v2.4h-2.4zM110.80 132.45h2.4v2.4h-2.4zM114.90 132.45h2.4v2.4h-2.4zM116.95 132.45h2.4v2.4h-2.4zM119.00 132.45h2.4v2.4h-2.4zM121.05 132.45h2.4v2.4h-2.4zM123.10 132.45h2.4v2.4h-2.4zM125.15 132.45h2.4v2.4h-2.4zM129.25 132.45h2.4v2.4h-2.4zM131.30 132.45h2.4v2.4h-2.4zM139.50 132.45h2.4v2.4h-2.4zM178.45 132.45h2.4v2.4h-2.4zM182.55 132.45h2.4v2.4h-2.4zM71.85 134.50h2.4v2.4h-2.4zM100.55 134.50h2.4v2.4h-2.4zM110.80 134.50h2.4v2.4h-2.4zM112.85 134.50h2.4v2.4h-2.4zM123.10 134.50h2.4v2.4h-2.4zM129.25 134.50h2.4v2.4h-2.4zM131.30 134.50h2.4v2.4h-2.4zM174.35 134.50h2.4v2.4h-2.4zM176.40 134.50h2.4v2.4h-2.4zM178.45 134.50h2.4v2.4h-2.4zM180.50 134.50h2.4v2.4h-2.4zM184.60 134.50h2.4v2.4h-2.4zM186.65 134.50h2.4v2.4h-2.4zM188.70 134.50h2.4v2.4h-2.4zM196.90 134.50h2.4v2.4h-2.4zM73.90 136.55h2.4v2.4h-2.4zM80.05 136.55h2.4v2.4h-2.4zM112.85 136.55h2.4v2.4h-2.4zM114.90 136.55h2.4v2.4h-2.4zM119.00 136.55h2.4v2.4h-2.4zM121.05 136.55h2.4v2.4h-2.4zM127.20 136.55h2.4v2.4h-2.4zM129.25 136.55h2.4v2.4h-2.4zM133.35 136.55h2.4v2.4h-2.4zM139.50 136.55h2.4v2.4h-2.4zM153.85 136.55h2.4v2.4h-2.4zM157.95 136.55h2.4v2.4h-2.4zM164.10 136.55h2.4v2.4h-2.4zM182.55 136.55h2.4v2.4h-2.4zM184.60 136.55h2.4v2.4h-2.4zM192.80 136.55h2.4v2.4h-2.4zM78.00 138.60h2.4v2.4h-2.4zM80.05 138.60h2.4v2.4h-2.4zM90.30 138.60h2.4v2.4h-2.4zM108.75 138.60h2.4v2.4h-2.4zM110.80 138.60h2.4v2.4h-2.4zM112.85 138.60h2.4v2.4h-2.4zM119.00 138.60h2.4v2.4h-2.4zM121.05 138.60h2.4v2.4h-2.4zM127.20 138.60h2.4v2.4h-2.4zM129.25 138.60h2.4v2.4h-2.4zM131.30 138.60h2.4v2.4h-2.4zM137.45 138.60h2.4v2.4h-2.4zM139.50 138.60h2.4v2.4h-2.4zM143.60 138.60h2.4v2.4h-2.4zM157.95 138.60h2.4v2.4h-2.4zM160.00 138.60h2.4v2.4h-2.4zM170.25 138.60h2.4v2.4h-2.4zM176.40 138.60h2.4v2.4h-2.4zM178.45 138.60h2.4v2.4h-2.4zM180.50 138.60h2.4v2.4h-2.4zM190.75 138.60h2.4v2.4h-2.4zM84.15 140.65h2.4v2.4h-2.4zM86.20 140.65h2.4v2.4h-2.4zM112.85 140.65h2.4v2.4h-2.4zM114.90 140.65h2.4v2.4h-2.4zM123.10 140.65h2.4v2.4h-2.4zM125.15 140.65h2.4v2.4h-2.4zM127.20 140.65h2.4v2.4h-2.4zM133.35 140.65h2.4v2.4h-2.4zM135.40 140.65h2.4v2.4h-2.4zM143.60 140.65h2.4v2.4h-2.4zM145.65 140.65h2.4v2.4h-2.4zM162.05 140.65h2.4v2.4h-2.4zM180.50 140.65h2.4v2.4h-2.4zM182.55 140.65h2.4v2.4h-2.4zM184.60 140.65h2.4v2.4h-2.4zM186.65 140.65h2.4v2.4h-2.4zM188.70 140.65h2.4v2.4h-2.4zM201.00 140.65h2.4v2.4h-2.4zM78.00 142.70h2.4v2.4h-2.4zM86.20 142.70h2.4v2.4h-2.4zM88.25 142.70h2.4v2.4h-2.4zM106.70 142.70h2.4v2.4h-2.4zM108.75 142.70h2.4v2.4h-2.4zM112.85 142.70h2.4v2.4h-2.4zM123.10 142.70h2.4v2.4h-2.4zM125.15 142.70h2.4v2.4h-2.4zM129.25 142.70h2.4v2.4h-2.4zM131.30 142.70h2.4v2.4h-2.4zM133.35 142.70h2.4v2.4h-2.4zM135.40 142.70h2.4v2.4h-2.4zM137.45 142.70h2.4v2.4h-2.4zM162.05 142.70h2.4v2.4h-2.4zM164.10 142.70h2.4v2.4h-2.4zM168.20 142.70h2.4v2.4h-2.4zM172.30 142.70h2.4v2.4h-2.4zM174.35 142.70h2.4v2.4h-2.4zM176.40 142.70h2.4v2.4h-2.4zM182.55 142.70h2.4v2.4h-2.4zM188.70 142.70h2.4v2.4h-2.4zM86.20 144.75h2.4v2.4h-2.4zM112.85 144.75h2.4v2.4h-2.4zM114.90 144.75h2.4v2.4h-2.4zM119.00 144.75h2.4v2.4h-2.4zM137.45 144.75h2.4v2.4h-2.4zM141.55 144.75h2.4v2.4h-2.4zM143.60 144.75h2.4v2.4h-2.4zM145.65 144.75h2.4v2.4h-2.4zM172.30 144.75h2.4v2.4h-2.4zM176.40 144.75h2.4v2.4h-2.4zM180.50 144.75h2.4v2.4h-2.4zM182.55 144.75h2.4v2.4h-2.4zM184.60 144.75h2.4v2.4h-2.4zM186.65 144.75h2.4v2.4h-2.4zM188.70 144.75h2.4v2.4h-2.4zM190.75 144.75h2.4v2.4h-2.4zM192.80 144.75h2.4v2.4h-2.4zM80.05 146.80h2.4v2.4h-2.4zM86.20 146.80h2.4v2.4h-2.4zM125.15 146.80h2.4v2.4h-2.4zM127.20 146.80h2.4v2.4h-2.4zM129.25 146.80h2.4v2.4h-2.4zM131.30 146.80h2.4v2.4h-2.4zM137.45 146.80h2.4v2.4h-2.4zM139.50 146.80h2.4v2.4h-2.4zM145.65 146.80h2.4v2.4h-2.4zM162.05 146.80h2.4v2.4h-2.4zM166.15 146.80h2.4v2.4h-2.4zM168.20 146.80h2.4v2.4h-2.4zM172.30 146.80h2.4v2.4h-2.4zM174.35 146.80h2.4v2.4h-2.4zM176.40 146.80h2.4v2.4h-2.4zM178.45 146.80h2.4v2.4h-2.4zM180.50 146.80h2.4v2.4h-2.4zM184.60 146.80h2.4v2.4h-2.4zM190.75 146.80h2.4v2.4h-2.4zM192.80 146.80h2.4v2.4h-2.4zM86.20 148.85h2.4v2.4h-2.4zM112.85 148.85h2.4v2.4h-2.4zM114.90 148.85h2.4v2.4h-2.4zM125.15 148.85h2.4v2.4h-2.4zM127.20 148.85h2.4v2.4h-2.4zM129.25 148.85h2.4v2.4h-2.4zM133.35 148.85h2.4v2.4h-2.4zM135.40 148.85h2.4v2.4h-2.4zM151.80 148.85h2.4v2.4h-2.4zM160.00 148.85h2.4v2.4h-2.4zM162.05 148.85h2.4v2.4h-2.4zM164.10 148.85h2.4v2.4h-2.4zM170.25 148.85h2.4v2.4h-2.4zM174.35 148.85h2.4v2.4h-2.4zM176.40 148.85h2.4v2.4h-2.4zM178.45 148.85h2.4v2.4h-2.4zM180.50 148.85h2.4v2.4h-2.4zM182.55 148.85h2.4v2.4h-2.4zM186.65 148.85h2.4v2.4h-2.4zM188.70 148.85h2.4v2.4h-2.4zM203.05 148.85h2.4v2.4h-2.4zM86.20 150.90h2.4v2.4h-2.4zM114.90 150.90h2.4v2.4h-2.4zM116.95 150.90h2.4v2.4h-2.4zM123.10 150.90h2.4v2.4h-2.4zM125.15 150.90h2.4v2.4h-2.4zM127.20 150.90h2.4v2.4h-2.4zM151.80 150.90h2.4v2.4h-2.4zM153.85 150.90h2.4v2.4h-2.4zM162.05 150.90h2.4v2.4h-2.4zM166.15 150.90h2.4v2.4h-2.4zM168.20 150.90h2.4v2.4h-2.4zM170.25 150.90h2.4v2.4h-2.4zM174.35 150.90h2.4v2.4h-2.4zM176.40 150.90h2.4v2.4h-2.4zM182.55 150.90h2.4v2.4h-2.4zM184.60 150.90h2.4v2.4h-2.4zM186.65 150.90h2.4v2.4h-2.4zM188.70 150.90h2.4v2.4h-2.4zM86.20 152.95h2.4v2.4h-2.4zM106.70 152.95h2.4v2.4h-2.4zM108.75 152.95h2.4v2.4h-2.4zM116.95 152.95h2.4v2.4h-2.4zM119.00 152.95h2.4v2.4h-2.4zM131.30 152.95h2.4v2.4h-2.4zM157.95 152.95h2.4v2.4h-2.4zM164.10 152.95h2.4v2.4h-2.4zM166.15 152.95h2.4v2.4h-2.4zM172.30 152.95h2.4v2.4h-2.4zM186.65 152.95h2.4v2.4h-2.4zM188.70 152.95h2.4v2.4h-2.4zM190.75 152.95h2.4v2.4h-2.4zM203.05 152.95h2.4v2.4h-2.4zM213.30 152.95h2.4v2.4h-2.4zM80.05 155.00h2.4v2.4h-2.4zM90.30 155.00h2.4v2.4h-2.4zM96.45 155.00h2.4v2.4h-2.4zM106.70 155.00h2.4v2.4h-2.4zM108.75 155.00h2.4v2.4h-2.4zM114.90 155.00h2.4v2.4h-2.4zM116.95 155.00h2.4v2.4h-2.4zM131.30 155.00h2.4v2.4h-2.4zM153.85 155.00h2.4v2.4h-2.4zM155.90 155.00h2.4v2.4h-2.4zM157.95 155.00h2.4v2.4h-2.4zM160.00 155.00h2.4v2.4h-2.4zM168.20 155.00h2.4v2.4h-2.4zM170.25 155.00h2.4v2.4h-2.4zM172.30 155.00h2.4v2.4h-2.4zM174.35 155.00h2.4v2.4h-2.4zM176.40 155.00h2.4v2.4h-2.4zM184.60 155.00h2.4v2.4h-2.4zM186.65 155.00h2.4v2.4h-2.4zM188.70 155.00h2.4v2.4h-2.4zM90.30 157.05h2.4v2.4h-2.4zM94.40 157.05h2.4v2.4h-2.4zM98.50 157.05h2.4v2.4h-2.4zM100.55 157.05h2.4v2.4h-2.4zM102.60 157.05h2.4v2.4h-2.4zM104.65 157.05h2.4v2.4h-2.4zM108.75 157.05h2.4v2.4h-2.4zM110.80 157.05h2.4v2.4h-2.4zM114.90 157.05h2.4v2.4h-2.4zM125.15 157.05h2.4v2.4h-2.4zM129.25 157.05h2.4v2.4h-2.4zM145.65 157.05h2.4v2.4h-2.4zM166.15 157.05h2.4v2.4h-2.4zM178.45 157.05h2.4v2.4h-2.4zM188.70 157.05h2.4v2.4h-2.4zM192.80 157.05h2.4v2.4h-2.4zM92.35 159.10h2.4v2.4h-2.4zM94.40 159.10h2.4v2.4h-2.4zM96.45 159.10h2.4v2.4h-2.4zM98.50 159.10h2.4v2.4h-2.4zM100.55 159.10h2.4v2.4h-2.4zM102.60 159.10h2.4v2.4h-2.4zM110.80 159.10h2.4v2.4h-2.4zM160.00 159.10h2.4v2.4h-2.4zM162.05 159.10h2.4v2.4h-2.4zM164.10 159.10h2.4v2.4h-2.4zM166.15 159.10h2.4v2.4h-2.4zM174.35 159.10h2.4v2.4h-2.4zM176.40 159.10h2.4v2.4h-2.4zM178.45 159.10h2.4v2.4h-2.4zM188.70 159.10h2.4v2.4h-2.4zM203.05 159.10h2.4v2.4h-2.4zM207.15 159.10h2.4v2.4h-2.4zM88.25 161.15h2.4v2.4h-2.4zM96.45 161.15h2.4v2.4h-2.4zM100.55 161.15h2.4v2.4h-2.4zM102.60 161.15h2.4v2.4h-2.4zM104.65 161.15h2.4v2.4h-2.4zM114.90 161.15h2.4v2.4h-2.4zM121.05 161.15h2.4v2.4h-2.4zM125.15 161.15h2.4v2.4h-2.4zM157.95 161.15h2.4v2.4h-2.4zM174.35 161.15h2.4v2.4h-2.4zM178.45 161.15h2.4v2.4h-2.4zM182.55 161.15h2.4v2.4h-2.4zM186.65 161.15h2.4v2.4h-2.4zM198.95 161.15h2.4v2.4h-2.4zM125.15 163.20h2.4v2.4h-2.4zM153.85 163.20h2.4v2.4h-2.4zM157.95 163.20h2.4v2.4h-2.4zM164.10 163.20h2.4v2.4h-2.4zM176.40 163.20h2.4v2.4h-2.4zM178.45 163.20h2.4v2.4h-2.4zM184.60 163.20h2.4v2.4h-2.4zM188.70 163.20h2.4v2.4h-2.4zM123.10 165.25h2.4v2.4h-2.4zM125.15 165.25h2.4v2.4h-2.4zM133.35 165.25h2.4v2.4h-2.4zM168.20 165.25h2.4v2.4h-2.4zM170.25 165.25h2.4v2.4h-2.4zM172.30 165.25h2.4v2.4h-2.4zM174.35 165.25h2.4v2.4h-2.4zM176.40 165.25h2.4v2.4h-2.4zM178.45 165.25h2.4v2.4h-2.4zM186.65 165.25h2.4v2.4h-2.4zM192.80 165.25h2.4v2.4h-2.4zM100.55 167.30h2.4v2.4h-2.4zM176.40 167.30h2.4v2.4h-2.4zM192.80 167.30h2.4v2.4h-2.4zM96.45 169.35h2.4v2.4h-2.4zM98.50 169.35h2.4v2.4h-2.4zM119.00 169.35h2.4v2.4h-2.4zM129.25 169.35h2.4v2.4h-2.4zM155.90 169.35h2.4v2.4h-2.4zM162.05 169.35h2.4v2.4h-2.4zM164.10 169.35h2.4v2.4h-2.4zM168.20 169.35h2.4v2.4h-2.4zM180.50 169.35h2.4v2.4h-2.4zM186.65 169.35h2.4v2.4h-2.4zM205.10 169.35h2.4v2.4h-2.4zM131.30 171.40h2.4v2.4h-2.4zM182.55 171.40h2.4v2.4h-2.4zM184.60 171.40h2.4v2.4h-2.4zM192.80 171.40h2.4v2.4h-2.4zM133.35 173.45h2.4v2.4h-2.4zM160.00 173.45h2.4v2.4h-2.4zM184.60 173.45h2.4v2.4h-2.4zM190.75 173.45h2.4v2.4h-2.4zM119.00 175.50h2.4v2.4h-2.4zM143.60 175.50h2.4v2.4h-2.4zM172.30 175.50h2.4v2.4h-2.4zM143.60 177.55h2.4v2.4h-2.4zM147.70 177.55h2.4v2.4h-2.4zM155.90 177.55h2.4v2.4h-2.4zM166.15 177.55h2.4v2.4h-2.4zM188.70 177.55h2.4v2.4h-2.4zM147.70 179.60h2.4v2.4h-2.4zM157.95 179.60h2.4v2.4h-2.4zM198.95 179.60h2.4v2.4h-2.4zM203.05 179.60h2.4v2.4h-2.4zM205.10 179.60h2.4v2.4h-2.4zM211.25 181.65h2.4v2.4h-2.4zM149.75 183.70h2.4v2.4h-2.4zM192.80 187.80h2.4v2.4h-2.4zM203.05 187.80h2.4v2.4h-2.4zM157.95 191.90h2.4v2.4h-2.4zM174.35 196.00h2.4v2.4h-2.4zM190.75 198.05h2.4v2.4h-2.4zM170.25 200.10h2.4v2.4h-2.4zM178.45 210.35h2.4v2.4h-2.4z"/><path fill="#277f8e" d="M119.00 44.30h2.4v2.4h-2.4zM190.75 50.45h2.4v2.4h-2.4zM166.15 54.55h2.4v2.4h-2.4zM188.70 54.55h2.4v2.4h-2.4zM205.10 56.60h2.4v2.4h-2.4zM182.55 58.65h2.4v2.4h-2.4zM110.80 64.80h2.4v2.4h-2.4zM119.00 64.80h2.4v2.4h-2.4zM207.15 66.85h2.4v2.4h-2.4zM110.80 68.90h2.4v2.4h-2.4zM116.95 70.95h2.4v2.4h-2.4zM96.45 73.00h2.4v2.4h-2.4zM98.50 73.00h2.4v2.4h-2.4zM100.55 73.00h2.4v2.4h-2.4zM80.05 75.05h2.4v2.4h-2.4zM88.25 75.05h2.4v2.4h-2.4zM98.50 75.05h2.4v2.4h-2.4zM100.55 75.05h2.4v2.4h-2.4zM116.95 75.05h2.4v2.4h-2.4zM174.35 75.05h2.4v2.4h-2.4zM67.75 77.10h2.4v2.4h-2.4zM69.80 77.10h2.4v2.4h-2.4zM96.45 77.10h2.4v2.4h-2.4zM100.55 77.10h2.4v2.4h-2.4zM112.85 77.10h2.4v2.4h-2.4zM172.30 77.10h2.4v2.4h-2.4zM174.35 77.10h2.4v2.4h-2.4zM55.45 79.15h2.4v2.4h-2.4zM65.70 79.15h2.4v2.4h-2.4zM67.75 79.15h2.4v2.4h-2.4zM71.85 79.15h2.4v2.4h-2.4zM75.95 79.15h2.4v2.4h-2.4zM86.20 79.15h2.4v2.4h-2.4zM94.40 79.15h2.4v2.4h-2.4zM96.45 79.15h2.4v2.4h-2.4zM98.50 79.15h2.4v2.4h-2.4zM94.40 81.20h2.4v2.4h-2.4zM96.45 81.20h2.4v2.4h-2.4zM57.50 83.25h2.4v2.4h-2.4zM59.55 83.25h2.4v2.4h-2.4zM63.65 83.25h2.4v2.4h-2.4zM69.80 83.25h2.4v2.4h-2.4zM86.20 83.25h2.4v2.4h-2.4zM90.30 83.25h2.4v2.4h-2.4zM100.55 83.25h2.4v2.4h-2.4zM57.50 85.30h2.4v2.4h-2.4zM63.65 85.30h2.4v2.4h-2.4zM65.70 85.30h2.4v2.4h-2.4zM69.80 85.30h2.4v2.4h-2.4zM71.85 85.30h2.4v2.4h-2.4zM86.20 85.30h2.4v2.4h-2.4zM88.25 85.30h2.4v2.4h-2.4zM90.30 85.30h2.4v2.4h-2.4zM92.35 85.30h2.4v2.4h-2.4zM98.50 85.30h2.4v2.4h-2.4zM102.60 85.30h2.4v2.4h-2.4zM110.80 85.30h2.4v2.4h-2.4zM166.15 85.30h2.4v2.4h-2.4zM53.40 87.35h2.4v2.4h-2.4zM55.45 87.35h2.4v2.4h-2.4zM65.70 87.35h2.4v2.4h-2.4zM67.75 87.35h2.4v2.4h-2.4zM71.85 87.35h2.4v2.4h-2.4zM104.65 87.35h2.4v2.4h-2.4zM57.50 89.40h2.4v2.4h-2.4zM59.55 89.40h2.4v2.4h-2.4zM67.75 89.40h2.4v2.4h-2.4zM104.65 89.40h2.4v2.4h-2.4zM106.70 89.40h2.4v2.4h-2.4zM110.80 89.40h2.4v2.4h-2.4zM160.00 89.40h2.4v2.4h-2.4zM55.45 91.45h2.4v2.4h-2.4zM57.50 91.45h2.4v2.4h-2.4zM59.55 91.45h2.4v2.4h-2.4zM69.80 91.45h2.4v2.4h-2.4zM78.00 91.45h2.4v2.4h-2.4zM80.05 91.45h2.4v2.4h-2.4zM90.30 91.45h2.4v2.4h-2.4zM98.50 91.45h2.4v2.4h-2.4zM104.65 91.45h2.4v2.4h-2.4zM106.70 91.45h2.4v2.4h-2.4zM160.00 91.45h2.4v2.4h-2.4zM164.10 91.45h2.4v2.4h-2.4zM166.15 91.45h2.4v2.4h-2.4zM39.05 93.50h2.4v2.4h-2.4zM71.85 93.50h2.4v2.4h-2.4zM80.05 93.50h2.4v2.4h-2.4zM82.10 93.50h2.4v2.4h-2.4zM84.15 93.50h2.4v2.4h-2.4zM86.20 93.50h2.4v2.4h-2.4zM88.25 93.50h2.4v2.4h-2.4zM92.35 93.50h2.4v2.4h-2.4zM127.20 93.50h2.4v2.4h-2.4zM139.50 93.50h2.4v2.4h-2.4zM147.70 93.50h2.4v2.4h-2.4zM149.75 93.50h2.4v2.4h-2.4zM151.80 93.50h2.4v2.4h-2.4zM155.90 93.50h2.4v2.4h-2.4zM157.95 93.50h2.4v2.4h-2.4zM164.10 93.50h2.4v2.4h-2.4zM166.15 93.50h2.4v2.4h-2.4zM71.85 95.55h2.4v2.4h-2.4zM84.15 95.55h2.4v2.4h-2.4zM90.30 95.55h2.4v2.4h-2.4zM94.40 95.55h2.4v2.4h-2.4zM98.50 95.55h2.4v2.4h-2.4zM100.55 95.55h2.4v2.4h-2.4zM102.60 95.55h2.4v2.4h-2.4zM121.05 95.55h2.4v2.4h-2.4zM125.15 95.55h2.4v2.4h-2.4zM127.20 95.55h2.4v2.4h-2.4zM139.50 95.55h2.4v2.4h-2.4zM155.90 95.55h2.4v2.4h-2.4zM157.95 95.55h2.4v2.4h-2.4zM160.00 95.55h2.4v2.4h-2.4zM166.15 95.55h2.4v2.4h-2.4zM168.20 95.55h2.4v2.4h-2.4zM71.85 97.60h2.4v2.4h-2.4zM73.90 97.60h2.4v2.4h-2.4zM90.30 97.60h2.4v2.4h-2.4zM92.35 97.60h2.4v2.4h-2.4zM96.45 97.60h2.4v2.4h-2.4zM98.50 97.60h2.4v2.4h-2.4zM100.55 97.60h2.4v2.4h-2.4zM110.80 97.60h2.4v2.4h-2.4zM127.20 97.60h2.4v2.4h-2.4zM133.35 97.60h2.4v2.4h-2.4zM135.40 97.60h2.4v2.4h-2.4zM137.45 97.60h2.4v2.4h-2.4zM139.50 97.60h2.4v2.4h-2.4zM141.55 97.60h2.4v2.4h-2.4zM153.85 97.60h2.4v2.4h-2.4zM155.90 97.60h2.4v2.4h-2.4zM174.35 97.60h2.4v2.4h-2.4zM73.90 99.65h2.4v2.4h-2.4zM75.95 99.65h2.4v2.4h-2.4zM84.15 99.65h2.4v2.4h-2.4zM86.20 99.65h2.4v2.4h-2.4zM88.25 99.65h2.4v2.4h-2.4zM96.45 99.65h2.4v2.4h-2.4zM98.50 99.65h2.4v2.4h-2.4zM127.20 99.65h2.4v2.4h-2.4zM145.65 99.65h2.4v2.4h-2.4zM155.90 99.65h2.4v2.4h-2.4zM174.35 99.65h2.4v2.4h-2.4zM65.70 101.70h2.4v2.4h-2.4zM67.75 101.70h2.4v2.4h-2.4zM78.00 101.70h2.4v2.4h-2.4zM80.05 101.70h2.4v2.4h-2.4zM82.10 101.70h2.4v2.4h-2.4zM88.25 101.70h2.4v2.4h-2.4zM90.30 101.70h2.4v2.4h-2.4zM94.40 101.70h2.4v2.4h-2.4zM98.50 101.70h2.4v2.4h-2.4zM100.55 101.70h2.4v2.4h-2.4zM104.65 101.70h2.4v2.4h-2.4zM106.70 101.70h2.4v2.4h-2.4zM110.80 101.70h2.4v2.4h-2.4zM127.20 101.70h2.4v2.4h-2.4zM131.30 101.70h2.4v2.4h-2.4zM143.60 101.70h2.4v2.4h-2.4zM63.65 103.75h2.4v2.4h-2.4zM80.05 103.75h2.4v2.4h-2.4zM92.35 103.75h2.4v2.4h-2.4zM96.45 103.75h2.4v2.4h-2.4zM98.50 103.75h2.4v2.4h-2.4zM106.70 103.75h2.4v2.4h-2.4zM108.75 103.75h2.4v2.4h-2.4zM129.25 103.75h2.4v2.4h-2.4zM131.30 103.75h2.4v2.4h-2.4zM133.35 103.75h2.4v2.4h-2.4zM137.45 103.75h2.4v2.4h-2.4zM180.50 103.75h2.4v2.4h-2.4zM182.55 103.75h2.4v2.4h-2.4zM63.65 105.80h2.4v2.4h-2.4zM88.25 105.80h2.4v2.4h-2.4zM106.70 105.80h2.4v2.4h-2.4zM123.10 105.80h2.4v2.4h-2.4zM125.15 105.80h2.4v2.4h-2.4zM127.20 105.80h2.4v2.4h-2.4zM137.45 105.80h2.4v2.4h-2.4zM141.55 105.80h2.4v2.4h-2.4zM143.60 105.80h2.4v2.4h-2.4zM151.80 105.80h2.4v2.4h-2.4zM155.90 105.80h2.4v2.4h-2.4zM180.50 105.80h2.4v2.4h-2.4zM86.20 107.85h2.4v2.4h-2.4zM96.45 107.85h2.4v2.4h-2.4zM106.70 107.85h2.4v2.4h-2.4zM123.10 107.85h2.4v2.4h-2.4zM127.20 107.85h2.4v2.4h-2.4zM129.25 107.85h2.4v2.4h-2.4zM131.30 107.85h2.4v2.4h-2.4zM164.10 107.85h2.4v2.4h-2.4zM166.15 107.85h2.4v2.4h-2.4zM176.40 107.85h2.4v2.4h-2.4zM180.50 107.85h2.4v2.4h-2.4zM65.70 109.90h2.4v2.4h-2.4zM82.10 109.90h2.4v2.4h-2.4zM106.70 109.90h2.4v2.4h-2.4zM125.15 109.90h2.4v2.4h-2.4zM127.20 109.90h2.4v2.4h-2.4zM129.25 109.90h2.4v2.4h-2.4zM131.30 109.90h2.4v2.4h-2.4zM141.55 109.90h2.4v2.4h-2.4zM164.10 109.90h2.4v2.4h-2.4zM174.35 109.90h2.4v2.4h-2.4zM180.50 109.90h2.4v2.4h-2.4zM182.55 109.90h2.4v2.4h-2.4zM63.65 111.95h2.4v2.4h-2.4zM67.75 111.95h2.4v2.4h-2.4zM84.15 111.95h2.4v2.4h-2.4zM86.20 111.95h2.4v2.4h-2.4zM96.45 111.95h2.4v2.4h-2.4zM125.15 111.95h2.4v2.4h-2.4zM127.20 111.95h2.4v2.4h-2.4zM133.35 111.95h2.4v2.4h-2.4zM137.45 111.95h2.4v2.4h-2.4zM139.50 111.95h2.4v2.4h-2.4zM141.55 111.95h2.4v2.4h-2.4zM160.00 111.95h2.4v2.4h-2.4zM166.15 111.95h2.4v2.4h-2.4zM174.35 111.95h2.4v2.4h-2.4zM178.45 111.95h2.4v2.4h-2.4zM182.55 111.95h2.4v2.4h-2.4zM65.70 114.00h2.4v2.4h-2.4zM67.75 114.00h2.4v2.4h-2.4zM71.85 114.00h2.4v2.4h-2.4zM86.20 114.00h2.4v2.4h-2.4zM96.45 114.00h2.4v2.4h-2.4zM98.50 114.00h2.4v2.4h-2.4zM108.75 114.00h2.4v2.4h-2.4zM125.15 114.00h2.4v2.4h-2.4zM133.35 114.00h2.4v2.4h-2.4zM135.40 114.00h2.4v2.4h-2.4zM139.50 114.00h2.4v2.4h-2.4zM141.55 114.00h2.4v2.4h-2.4zM143.60 114.00h2.4v2.4h-2.4zM164.10 114.00h2.4v2.4h-2.4zM172.30 114.00h2.4v2.4h-2.4zM174.35 114.00h2.4v2.4h-2.4zM176.40 114.00h2.4v2.4h-2.4zM178.45 114.00h2.4v2.4h-2.4zM180.50 114.00h2.4v2.4h-2.4zM182.55 114.00h2.4v2.4h-2.4zM102.60 116.05h2.4v2.4h-2.4zM108.75 116.05h2.4v2.4h-2.4zM129.25 116.05h2.4v2.4h-2.4zM141.55 116.05h2.4v2.4h-2.4zM145.65 116.05h2.4v2.4h-2.4zM164.10 116.05h2.4v2.4h-2.4zM168.20 116.05h2.4v2.4h-2.4zM172.30 116.05h2.4v2.4h-2.4zM178.45 116.05h2.4v2.4h-2.4zM180.50 116.05h2.4v2.4h-2.4zM182.55 116.05h2.4v2.4h-2.4zM192.80 116.05h2.4v2.4h-2.4zM65.70 118.10h2.4v2.4h-2.4zM67.75 118.10h2.4v2.4h-2.4zM90.30 118.10h2.4v2.4h-2.4zM94.40 118.10h2.4v2.4h-2.4zM96.45 118.10h2.4v2.4h-2.4zM106.70 118.10h2.4v2.4h-2.4zM108.75 118.10h2.4v2.4h-2.4zM125.15 118.10h2.4v2.4h-2.4zM127.20 118.10h2.4v2.4h-2.4zM129.25 118.10h2.4v2.4h-2.4zM133.35 118.10h2.4v2.4h-2.4zM137.45 118.10h2.4v2.4h-2.4zM147.70 118.10h2.4v2.4h-2.4zM155.90 118.10h2.4v2.4h-2.4zM170.25 118.10h2.4v2.4h-2.4zM174.35 118.10h2.4v2.4h-2.4zM180.50 118.10h2.4v2.4h-2.4zM67.75 120.15h2.4v2.4h-2.4zM69.80 120.15h2.4v2.4h-2.4zM94.40 120.15h2.4v2.4h-2.4zM98.50 120.15h2.4v2.4h-2.4zM102.60 120.15h2.4v2.4h-2.4zM108.75 120.15h2.4v2.4h-2.4zM116.95 120.15h2.4v2.4h-2.4zM123.10 120.15h2.4v2.4h-2.4zM125.15 120.15h2.4v2.4h-2.4zM129.25 120.15h2.4v2.4h-2.4zM135.40 120.15h2.4v2.4h-2.4zM137.45 120.15h2.4v2.4h-2.4zM139.50 120.15h2.4v2.4h-2.4zM157.95 120.15h2.4v2.4h-2.4zM174.35 120.15h2.4v2.4h-2.4zM65.70 122.20h2.4v2.4h-2.4zM67.75 122.20h2.4v2.4h-2.4zM92.35 122.20h2.4v2.4h-2.4zM94.40 122.20h2.4v2.4h-2.4zM98.50 122.20h2.4v2.4h-2.4zM100.55 122.20h2.4v2.4h-2.4zM104.65 122.20h2.4v2.4h-2.4zM106.70 122.20h2.4v2.4h-2.4zM108.75 122.20h2.4v2.4h-2.4zM110.80 122.20h2.4v2.4h-2.4zM112.85 122.20h2.4v2.4h-2.4zM127.20 122.20h2.4v2.4h-2.4zM131.30 122.20h2.4v2.4h-2.4zM135.40 122.20h2.4v2.4h-2.4zM143.60 122.20h2.4v2.4h-2.4zM153.85 122.20h2.4v2.4h-2.4zM168.20 122.20h2.4v2.4h-2.4zM170.25 122.20h2.4v2.4h-2.4zM174.35 122.20h2.4v2.4h-2.4zM201.00 122.20h2.4v2.4h-2.4zM84.15 124.25h2.4v2.4h-2.4zM108.75 124.25h2.4v2.4h-2.4zM110.80 124.25h2.4v2.4h-2.4zM141.55 124.25h2.4v2.4h-2.4zM147.70 124.25h2.4v2.4h-2.4zM157.95 124.25h2.4v2.4h-2.4zM166.15 124.25h2.4v2.4h-2.4zM176.40 124.25h2.4v2.4h-2.4zM178.45 124.25h2.4v2.4h-2.4zM100.55 126.30h2.4v2.4h-2.4zM106.70 126.30h2.4v2.4h-2.4zM108.75 126.30h2.4v2.4h-2.4zM110.80 126.30h2.4v2.4h-2.4zM137.45 126.30h2.4v2.4h-2.4zM155.90 126.30h2.4v2.4h-2.4zM157.95 126.30h2.4v2.4h-2.4zM166.15 126.30h2.4v2.4h-2.4zM168.20 126.30h2.4v2.4h-2.4zM170.25 126.30h2.4v2.4h-2.4zM172.30 126.30h2.4v2.4h-2.4zM176.40 126.30h2.4v2.4h-2.4zM96.45 128.35h2.4v2.4h-2.4zM104.65 128.35h2.4v2.4h-2.4zM106.70 128.35h2.4v2.4h-2.4zM108.75 128.35h2.4v2.4h-2.4zM141.55 128.35h2.4v2.4h-2.4zM143.60 128.35h2.4v2.4h-2.4zM151.80 128.35h2.4v2.4h-2.4zM153.85 128.35h2.4v2.4h-2.4zM157.95 128.35h2.4v2.4h-2.4zM160.00 128.35h2.4v2.4h-2.4zM162.05 128.35h2.4v2.4h-2.4zM174.35 128.35h2.4v2.4h-2.4zM194.85 128.35h2.4v2.4h-2.4zM59.55 130.40h2.4v2.4h-2.4zM71.85 130.40h2.4v2.4h-2.4zM73.90 130.40h2.4v2.4h-2.4zM75.95 130.40h2.4v2.4h-2.4zM78.00 130.40h2.4v2.4h-2.4zM86.20 130.40h2.4v2.4h-2.4zM88.25 130.40h2.4v2.4h-2.4zM139.50 130.40h2.4v2.4h-2.4zM147.70 130.40h2.4v2.4h-2.4zM151.80 130.40h2.4v2.4h-2.4zM157.95 130.40h2.4v2.4h-2.4zM160.00 130.40h2.4v2.4h-2.4zM170.25 130.40h2.4v2.4h-2.4zM67.75 132.45h2.4v2.4h-2.4zM73.90 132.45h2.4v2.4h-2.4zM78.00 132.45h2.4v2.4h-2.4zM84.15 132.45h2.4v2.4h-2.4zM90.30 132.45h2.4v2.4h-2.4zM102.60 132.45h2.4v2.4h-2.4zM104.65 132.45h2.4v2.4h-2.4zM108.75 132.45h2.4v2.4h-2.4zM112.85 132.45h2.4v2.4h-2.4zM153.85 132.45h2.4v2.4h-2.4zM157.95 132.45h2.4v2.4h-2.4zM160.00 132.45h2.4v2.4h-2.4zM162.05 132.45h2.4v2.4h-2.4zM166.15 132.45h2.4v2.4h-2.4zM172.30 132.45h2.4v2.4h-2.4zM174.35 132.45h2.4v2.4h-2.4zM192.80 132.45h2.4v2.4h-2.4zM73.90 134.50h2.4v2.4h-2.4zM75.95 134.50h2.4v2.4h-2.4zM78.00 134.50h2.4v2.4h-2.4zM92.35 134.50h2.4v2.4h-2.4zM114.90 134.50h2.4v2.4h-2.4zM116.95 134.50h2.4v2.4h-2.4zM121.05 134.50h2.4v2.4h-2.4zM133.35 134.50h2.4v2.4h-2.4zM141.55 134.50h2.4v2.4h-2.4zM143.60 134.50h2.4v2.4h-2.4zM149.75 134.50h2.4v2.4h-2.4zM153.85 134.50h2.4v2.4h-2.4zM157.95 134.50h2.4v2.4h-2.4zM160.00 134.50h2.4v2.4h-2.4zM162.05 134.50h2.4v2.4h-2.4zM168.20 134.50h2.4v2.4h-2.4zM170.25 134.50h2.4v2.4h-2.4zM203.05 134.50h2.4v2.4h-2.4zM86.20 136.55h2.4v2.4h-2.4zM90.30 136.55h2.4v2.4h-2.4zM94.40 136.55h2.4v2.4h-2.4zM108.75 136.55h2.4v2.4h-2.4zM110.80 136.55h2.4v2.4h-2.4zM116.95 136.55h2.4v2.4h-2.4zM137.45 136.55h2.4v2.4h-2.4zM149.75 136.55h2.4v2.4h-2.4zM151.80 136.55h2.4v2.4h-2.4zM155.90 136.55h2.4v2.4h-2.4zM160.00 136.55h2.4v2.4h-2.4zM162.05 136.55h2.4v2.4h-2.4zM170.25 136.55h2.4v2.4h-2.4zM172.30 136.55h2.4v2.4h-2.4zM174.35 136.55h2.4v2.4h-2.4zM176.40 136.55h2.4v2.4h-2.4zM178.45 136.55h2.4v2.4h-2.4zM180.50 136.55h2.4v2.4h-2.4zM82.10 138.60h2.4v2.4h-2.4zM102.60 138.60h2.4v2.4h-2.4zM116.95 138.60h2.4v2.4h-2.4zM141.55 138.60h2.4v2.4h-2.4zM145.65 138.60h2.4v2.4h-2.4zM147.70 138.60h2.4v2.4h-2.4zM153.85 138.60h2.4v2.4h-2.4zM155.90 138.60h2.4v2.4h-2.4zM162.05 138.60h2.4v2.4h-2.4zM164.10 138.60h2.4v2.4h-2.4zM172.30 138.60h2.4v2.4h-2.4zM174.35 138.60h2.4v2.4h-2.4zM88.25 140.65h2.4v2.4h-2.4zM90.30 140.65h2.4v2.4h-2.4zM102.60 140.65h2.4v2.4h-2.4zM108.75 140.65h2.4v2.4h-2.4zM110.80 140.65h2.4v2.4h-2.4zM137.45 140.65h2.4v2.4h-2.4zM139.50 140.65h2.4v2.4h-2.4zM153.85 140.65h2.4v2.4h-2.4zM155.90 140.65h2.4v2.4h-2.4zM157.95 140.65h2.4v2.4h-2.4zM160.00 140.65h2.4v2.4h-2.4zM164.10 140.65h2.4v2.4h-2.4zM172.30 140.65h2.4v2.4h-2.4zM174.35 140.65h2.4v2.4h-2.4zM176.40 140.65h2.4v2.4h-2.4zM178.45 140.65h2.4v2.4h-2.4zM90.30 142.70h2.4v2.4h-2.4zM110.80 142.70h2.4v2.4h-2.4zM143.60 142.70h2.4v2.4h-2.4zM145.65 142.70h2.4v2.4h-2.4zM153.85 142.70h2.4v2.4h-2.4zM155.90 142.70h2.4v2.4h-2.4zM170.25 142.70h2.4v2.4h-2.4zM178.45 142.70h2.4v2.4h-2.4zM180.50 142.70h2.4v2.4h-2.4zM100.55 144.75h2.4v2.4h-2.4zM106.70 144.75h2.4v2.4h-2.4zM108.75 144.75h2.4v2.4h-2.4zM110.80 144.75h2.4v2.4h-2.4zM129.25 144.75h2.4v2.4h-2.4zM131.30 144.75h2.4v2.4h-2.4zM133.35 144.75h2.4v2.4h-2.4zM155.90 144.75h2.4v2.4h-2.4zM157.95 144.75h2.4v2.4h-2.4zM166.15 144.75h2.4v2.4h-2.4zM170.25 144.75h2.4v2.4h-2.4zM174.35 144.75h2.4v2.4h-2.4zM178.45 144.75h2.4v2.4h-2.4zM90.30 146.80h2.4v2.4h-2.4zM108.75 146.80h2.4v2.4h-2.4zM110.80 146.80h2.4v2.4h-2.4zM112.85 146.80h2.4v2.4h-2.4zM114.90 146.80h2.4v2.4h-2.4zM133.35 146.80h2.4v2.4h-2.4zM147.70 146.80h2.4v2.4h-2.4zM149.75 146.80h2.4v2.4h-2.4zM151.80 146.80h2.4v2.4h-2.4zM157.95 146.80h2.4v2.4h-2.4zM164.10 146.80h2.4v2.4h-2.4zM88.25 148.85h2.4v2.4h-2.4zM100.55 148.85h2.4v2.4h-2.4zM108.75 148.85h2.4v2.4h-2.4zM110.80 148.85h2.4v2.4h-2.4zM153.85 148.85h2.4v2.4h-2.4zM155.90 148.85h2.4v2.4h-2.4zM157.95 148.85h2.4v2.4h-2.4zM166.15 148.85h2.4v2.4h-2.4zM168.20 148.85h2.4v2.4h-2.4zM172.30 148.85h2.4v2.4h-2.4zM88.25 150.90h2.4v2.4h-2.4zM90.30 150.90h2.4v2.4h-2.4zM92.35 150.90h2.4v2.4h-2.4zM98.50 150.90h2.4v2.4h-2.4zM102.60 150.90h2.4v2.4h-2.4zM104.65 150.90h2.4v2.4h-2.4zM108.75 150.90h2.4v2.4h-2.4zM149.75 150.90h2.4v2.4h-2.4zM155.90 150.90h2.4v2.4h-2.4zM157.95 150.90h2.4v2.4h-2.4zM164.10 150.90h2.4v2.4h-2.4zM178.45 150.90h2.4v2.4h-2.4zM180.50 150.90h2.4v2.4h-2.4zM88.25 152.95h2.4v2.4h-2.4zM90.30 152.95h2.4v2.4h-2.4zM94.40 152.95h2.4v2.4h-2.4zM98.50 152.95h2.4v2.4h-2.4zM100.55 152.95h2.4v2.4h-2.4zM104.65 152.95h2.4v2.4h-2.4zM114.90 152.95h2.4v2.4h-2.4zM155.90 152.95h2.4v2.4h-2.4zM162.05 152.95h2.4v2.4h-2.4zM170.25 152.95h2.4v2.4h-2.4zM176.40 152.95h2.4v2.4h-2.4zM178.45 152.95h2.4v2.4h-2.4zM180.50 152.95h2.4v2.4h-2.4zM182.55 152.95h2.4v2.4h-2.4zM184.60 152.95h2.4v2.4h-2.4zM92.35 155.00h2.4v2.4h-2.4zM94.40 155.00h2.4v2.4h-2.4zM100.55 155.00h2.4v2.4h-2.4zM102.60 155.00h2.4v2.4h-2.4zM112.85 155.00h2.4v2.4h-2.4zM125.15 155.00h2.4v2.4h-2.4zM164.10 155.00h2.4v2.4h-2.4zM178.45 155.00h2.4v2.4h-2.4zM180.50 155.00h2.4v2.4h-2.4zM182.55 155.00h2.4v2.4h-2.4zM92.35 157.05h2.4v2.4h-2.4zM96.45 157.05h2.4v2.4h-2.4zM106.70 157.05h2.4v2.4h-2.4zM141.55 157.05h2.4v2.4h-2.4zM160.00 157.05h2.4v2.4h-2.4zM172.30 157.05h2.4v2.4h-2.4zM176.40 157.05h2.4v2.4h-2.4zM180.50 157.05h2.4v2.4h-2.4zM182.55 157.05h2.4v2.4h-2.4zM184.60 157.05h2.4v2.4h-2.4zM104.65 159.10h2.4v2.4h-2.4zM180.50 159.10h2.4v2.4h-2.4zM184.60 159.10h2.4v2.4h-2.4zM176.40 161.15h2.4v2.4h-2.4zM180.50 161.15h2.4v2.4h-2.4zM184.60 161.15h2.4v2.4h-2.4zM174.35 163.20h2.4v2.4h-2.4zM180.50 163.20h2.4v2.4h-2.4zM98.50 165.25h2.4v2.4h-2.4zM182.55 165.25h2.4v2.4h-2.4zM184.60 165.25h2.4v2.4h-2.4zM178.45 167.30h2.4v2.4h-2.4zM182.55 167.30h2.4v2.4h-2.4zM198.95 167.30h2.4v2.4h-2.4zM108.75 171.40h2.4v2.4h-2.4zM168.20 173.45h2.4v2.4h-2.4zM192.80 179.60h2.4v2.4h-2.4zM153.85 181.65h2.4v2.4h-2.4zM186.65 181.65h2.4v2.4h-2.4zM160.00 183.70h2.4v2.4h-2.4zM190.75 183.70h2.4v2.4h-2.4zM151.80 185.75h2.4v2.4h-2.4zM205.10 185.75h2.4v2.4h-2.4zM192.80 189.85h2.4v2.4h-2.4zM125.50 182.60h2.4v2.4h-2.4z"/><path fill="#1fa187" d="M172.30 75.05h2.4v2.4h-2.4zM82.10 79.15h2.4v2.4h-2.4zM100.55 79.15h2.4v2.4h-2.4zM63.65 81.20h2.4v2.4h-2.4zM86.20 81.20h2.4v2.4h-2.4zM88.25 81.20h2.4v2.4h-2.4zM92.35 81.20h2.4v2.4h-2.4zM98.50 81.20h2.4v2.4h-2.4zM61.60 83.25h2.4v2.4h-2.4zM65.70 83.25h2.4v2.4h-2.4zM73.90 83.25h2.4v2.4h-2.4zM84.15 83.25h2.4v2.4h-2.4zM88.25 83.25h2.4v2.4h-2.4zM92.35 83.25h2.4v2.4h-2.4zM94.40 83.25h2.4v2.4h-2.4zM96.45 83.25h2.4v2.4h-2.4zM98.50 83.25h2.4v2.4h-2.4zM108.75 83.25h2.4v2.4h-2.4zM61.60 85.30h2.4v2.4h-2.4zM67.75 85.30h2.4v2.4h-2.4zM73.90 85.30h2.4v2.4h-2.4zM84.15 85.30h2.4v2.4h-2.4zM94.40 85.30h2.4v2.4h-2.4zM96.45 85.30h2.4v2.4h-2.4zM100.55 85.30h2.4v2.4h-2.4zM108.75 85.30h2.4v2.4h-2.4zM57.50 87.35h2.4v2.4h-2.4zM61.60 87.35h2.4v2.4h-2.4zM69.80 87.35h2.4v2.4h-2.4zM75.95 87.35h2.4v2.4h-2.4zM78.00 87.35h2.4v2.4h-2.4zM88.25 87.35h2.4v2.4h-2.4zM92.35 87.35h2.4v2.4h-2.4zM94.40 87.35h2.4v2.4h-2.4zM96.45 87.35h2.4v2.4h-2.4zM98.50 87.35h2.4v2.4h-2.4zM102.60 87.35h2.4v2.4h-2.4zM106.70 87.35h2.4v2.4h-2.4zM108.75 87.35h2.4v2.4h-2.4zM110.80 87.35h2.4v2.4h-2.4zM55.45 89.40h2.4v2.4h-2.4zM61.60 89.40h2.4v2.4h-2.4zM71.85 89.40h2.4v2.4h-2.4zM73.90 89.40h2.4v2.4h-2.4zM78.00 89.40h2.4v2.4h-2.4zM80.05 89.40h2.4v2.4h-2.4zM90.30 89.40h2.4v2.4h-2.4zM94.40 89.40h2.4v2.4h-2.4zM96.45 89.40h2.4v2.4h-2.4zM98.50 89.40h2.4v2.4h-2.4zM102.60 89.40h2.4v2.4h-2.4zM108.75 89.40h2.4v2.4h-2.4zM71.85 91.45h2.4v2.4h-2.4zM73.90 91.45h2.4v2.4h-2.4zM75.95 91.45h2.4v2.4h-2.4zM88.25 91.45h2.4v2.4h-2.4zM92.35 91.45h2.4v2.4h-2.4zM94.40 91.45h2.4v2.4h-2.4zM96.45 91.45h2.4v2.4h-2.4zM100.55 91.45h2.4v2.4h-2.4zM102.60 91.45h2.4v2.4h-2.4zM55.45 93.50h2.4v2.4h-2.4zM57.50 93.50h2.4v2.4h-2.4zM94.40 93.50h2.4v2.4h-2.4zM98.50 93.50h2.4v2.4h-2.4zM102.60 93.50h2.4v2.4h-2.4zM110.80 93.50h2.4v2.4h-2.4zM143.60 93.50h2.4v2.4h-2.4zM145.65 93.50h2.4v2.4h-2.4zM160.00 93.50h2.4v2.4h-2.4zM162.05 93.50h2.4v2.4h-2.4zM92.35 95.55h2.4v2.4h-2.4zM96.45 95.55h2.4v2.4h-2.4zM104.65 95.55h2.4v2.4h-2.4zM106.70 95.55h2.4v2.4h-2.4zM143.60 95.55h2.4v2.4h-2.4zM145.65 95.55h2.4v2.4h-2.4zM147.70 95.55h2.4v2.4h-2.4zM149.75 95.55h2.4v2.4h-2.4zM151.80 95.55h2.4v2.4h-2.4zM153.85 95.55h2.4v2.4h-2.4zM164.10 95.55h2.4v2.4h-2.4zM69.80 97.60h2.4v2.4h-2.4zM94.40 97.60h2.4v2.4h-2.4zM131.30 97.60h2.4v2.4h-2.4zM143.60 97.60h2.4v2.4h-2.4zM145.65 97.60h2.4v2.4h-2.4zM147.70 97.60h2.4v2.4h-2.4zM157.95 97.60h2.4v2.4h-2.4zM160.00 97.60h2.4v2.4h-2.4zM162.05 97.60h2.4v2.4h-2.4zM164.10 97.60h2.4v2.4h-2.4zM166.15 97.60h2.4v2.4h-2.4zM170.25 97.60h2.4v2.4h-2.4zM69.80 99.65h2.4v2.4h-2.4zM71.85 99.65h2.4v2.4h-2.4zM90.30 99.65h2.4v2.4h-2.4zM131.30 99.65h2.4v2.4h-2.4zM139.50 99.65h2.4v2.4h-2.4zM147.70 99.65h2.4v2.4h-2.4zM149.75 99.65h2.4v2.4h-2.4zM151.80 99.65h2.4v2.4h-2.4zM153.85 99.65h2.4v2.4h-2.4zM157.95 99.65h2.4v2.4h-2.4zM160.00 99.65h2.4v2.4h-2.4zM162.05 99.65h2.4v2.4h-2.4zM172.30 99.65h2.4v2.4h-2.4zM73.90 101.70h2.4v2.4h-2.4zM84.15 101.70h2.4v2.4h-2.4zM86.20 101.70h2.4v2.4h-2.4zM92.35 101.70h2.4v2.4h-2.4zM96.45 101.70h2.4v2.4h-2.4zM129.25 101.70h2.4v2.4h-2.4zM133.35 101.70h2.4v2.4h-2.4zM141.55 101.70h2.4v2.4h-2.4zM145.65 101.70h2.4v2.4h-2.4zM147.70 101.70h2.4v2.4h-2.4zM157.95 101.70h2.4v2.4h-2.4zM162.05 101.70h2.4v2.4h-2.4zM172.30 101.70h2.4v2.4h-2.4zM174.35 101.70h2.4v2.4h-2.4zM176.40 101.70h2.4v2.4h-2.4zM178.45 101.70h2.4v2.4h-2.4zM65.70 103.75h2.4v2.4h-2.4zM82.10 103.75h2.4v2.4h-2.4zM94.40 103.75h2.4v2.4h-2.4zM141.55 103.75h2.4v2.4h-2.4zM147.70 103.75h2.4v2.4h-2.4zM151.80 103.75h2.4v2.4h-2.4zM157.95 103.75h2.4v2.4h-2.4zM174.35 103.75h2.4v2.4h-2.4zM176.40 103.75h2.4v2.4h-2.4zM67.75 105.80h2.4v2.4h-2.4zM78.00 105.80h2.4v2.4h-2.4zM80.05 105.80h2.4v2.4h-2.4zM86.20 105.80h2.4v2.4h-2.4zM90.30 105.80h2.4v2.4h-2.4zM94.40 105.80h2.4v2.4h-2.4zM96.45 105.80h2.4v2.4h-2.4zM139.50 105.80h2.4v2.4h-2.4zM149.75 105.80h2.4v2.4h-2.4zM153.85 105.80h2.4v2.4h-2.4zM157.95 105.80h2.4v2.4h-2.4zM178.45 105.80h2.4v2.4h-2.4zM65.70 107.85h2.4v2.4h-2.4zM67.75 107.85h2.4v2.4h-2.4zM80.05 107.85h2.4v2.4h-2.4zM82.10 107.85h2.4v2.4h-2.4zM84.15 107.85h2.4v2.4h-2.4zM125.15 107.85h2.4v2.4h-2.4zM137.45 107.85h2.4v2.4h-2.4zM139.50 107.85h2.4v2.4h-2.4zM141.55 107.85h2.4v2.4h-2.4zM143.60 107.85h2.4v2.4h-2.4zM145.65 107.85h2.4v2.4h-2.4zM151.80 107.85h2.4v2.4h-2.4zM153.85 107.85h2.4v2.4h-2.4zM162.05 107.85h2.4v2.4h-2.4zM172.30 107.85h2.4v2.4h-2.4zM174.35 107.85h2.4v2.4h-2.4zM84.15 109.90h2.4v2.4h-2.4zM94.40 109.90h2.4v2.4h-2.4zM96.45 109.90h2.4v2.4h-2.4zM139.50 109.90h2.4v2.4h-2.4zM147.70 109.90h2.4v2.4h-2.4zM149.75 109.90h2.4v2.4h-2.4zM153.85 109.90h2.4v2.4h-2.4zM157.95 109.90h2.4v2.4h-2.4zM162.05 109.90h2.4v2.4h-2.4zM166.15 109.90h2.4v2.4h-2.4zM168.20 109.90h2.4v2.4h-2.4zM170.25 109.90h2.4v2.4h-2.4zM176.40 109.90h2.4v2.4h-2.4zM69.80 111.95h2.4v2.4h-2.4zM71.85 111.95h2.4v2.4h-2.4zM82.10 111.95h2.4v2.4h-2.4zM98.50 111.95h2.4v2.4h-2.4zM135.40 111.95h2.4v2.4h-2.4zM143.60 111.95h2.4v2.4h-2.4zM145.65 111.95h2.4v2.4h-2.4zM147.70 111.95h2.4v2.4h-2.4zM153.85 111.95h2.4v2.4h-2.4zM157.95 111.95h2.4v2.4h-2.4zM162.05 111.95h2.4v2.4h-2.4zM164.10 111.95h2.4v2.4h-2.4zM168.20 111.95h2.4v2.4h-2.4zM170.25 111.95h2.4v2.4h-2.4zM73.90 114.00h2.4v2.4h-2.4zM137.45 114.00h2.4v2.4h-2.4zM145.65 114.00h2.4v2.4h-2.4zM149.75 114.00h2.4v2.4h-2.4zM155.90 114.00h2.4v2.4h-2.4zM160.00 114.00h2.4v2.4h-2.4zM162.05 114.00h2.4v2.4h-2.4zM166.15 114.00h2.4v2.4h-2.4zM168.20 114.00h2.4v2.4h-2.4zM67.75 116.05h2.4v2.4h-2.4zM69.80 116.05h2.4v2.4h-2.4zM73.90 116.05h2.4v2.4h-2.4zM86.20 116.05h2.4v2.4h-2.4zM96.45 116.05h2.4v2.4h-2.4zM98.50 116.05h2.4v2.4h-2.4zM131.30 116.05h2.4v2.4h-2.4zM135.40 116.05h2.4v2.4h-2.4zM137.45 116.05h2.4v2.4h-2.4zM139.50 116.05h2.4v2.4h-2.4zM147.70 116.05h2.4v2.4h-2.4zM160.00 116.05h2.4v2.4h-2.4zM162.05 116.05h2.4v2.4h-2.4zM166.15 116.05h2.4v2.4h-2.4zM170.25 116.05h2.4v2.4h-2.4zM92.35 118.10h2.4v2.4h-2.4zM98.50 118.10h2.4v2.4h-2.4zM135.40 118.10h2.4v2.4h-2.4zM139.50 118.10h2.4v2.4h-2.4zM141.55 118.10h2.4v2.4h-2.4zM143.60 118.10h2.4v2.4h-2.4zM151.80 118.10h2.4v2.4h-2.4zM153.85 118.10h2.4v2.4h-2.4zM157.95 118.10h2.4v2.4h-2.4zM160.00 118.10h2.4v2.4h-2.4zM162.05 118.10h2.4v2.4h-2.4zM166.15 118.10h2.4v2.4h-2.4zM168.20 118.10h2.4v2.4h-2.4zM71.85 120.15h2.4v2.4h-2.4zM84.15 120.15h2.4v2.4h-2.4zM88.25 120.15h2.4v2.4h-2.4zM92.35 120.15h2.4v2.4h-2.4zM96.45 120.15h2.4v2.4h-2.4zM133.35 120.15h2.4v2.4h-2.4zM151.80 120.15h2.4v2.4h-2.4zM153.85 120.15h2.4v2.4h-2.4zM155.90 120.15h2.4v2.4h-2.4zM160.00 120.15h2.4v2.4h-2.4zM162.05 120.15h2.4v2.4h-2.4zM164.10 120.15h2.4v2.4h-2.4zM166.15 120.15h2.4v2.4h-2.4zM170.25 120.15h2.4v2.4h-2.4zM172.30 120.15h2.4v2.4h-2.4zM71.85 122.20h2.4v2.4h-2.4zM75.95 122.20h2.4v2.4h-2.4zM84.15 122.20h2.4v2.4h-2.4zM86.20 122.20h2.4v2.4h-2.4zM96.45 122.20h2.4v2.4h-2.4zM139.50 122.20h2.4v2.4h-2.4zM141.55 122.20h2.4v2.4h-2.4zM155.90 122.20h2.4v2.4h-2.4zM157.95 122.20h2.4v2.4h-2.4zM160.00 122.20h2.4v2.4h-2.4zM164.10 122.20h2.4v2.4h-2.4zM166.15 122.20h2.4v2.4h-2.4zM69.80 124.25h2.4v2.4h-2.4zM73.90 124.25h2.4v2.4h-2.4zM75.95 124.25h2.4v2.4h-2.4zM78.00 124.25h2.4v2.4h-2.4zM80.05 124.25h2.4v2.4h-2.4zM86.20 124.25h2.4v2.4h-2.4zM92.35 124.25h2.4v2.4h-2.4zM98.50 124.25h2.4v2.4h-2.4zM106.70 124.25h2.4v2.4h-2.4zM139.50 124.25h2.4v2.4h-2.4zM143.60 124.25h2.4v2.4h-2.4zM145.65 124.25h2.4v2.4h-2.4zM155.90 124.25h2.4v2.4h-2.4zM164.10 124.25h2.4v2.4h-2.4zM168.20 124.25h2.4v2.4h-2.4zM170.25 124.25h2.4v2.4h-2.4zM172.30 124.25h2.4v2.4h-2.4zM174.35 124.25h2.4v2.4h-2.4zM71.85 126.30h2.4v2.4h-2.4zM73.90 126.30h2.4v2.4h-2.4zM75.95 126.30h2.4v2.4h-2.4zM82.10 126.30h2.4v2.4h-2.4zM86.20 126.30h2.4v2.4h-2.4zM88.25 126.30h2.4v2.4h-2.4zM102.60 126.30h2.4v2.4h-2.4zM141.55 126.30h2.4v2.4h-2.4zM143.60 126.30h2.4v2.4h-2.4zM145.65 126.30h2.4v2.4h-2.4zM147.70 126.30h2.4v2.4h-2.4zM149.75 126.30h2.4v2.4h-2.4zM153.85 126.30h2.4v2.4h-2.4zM160.00 126.30h2.4v2.4h-2.4zM174.35 126.30h2.4v2.4h-2.4zM71.85 128.35h2.4v2.4h-2.4zM73.90 128.35h2.4v2.4h-2.4zM80.05 128.35h2.4v2.4h-2.4zM84.15 128.35h2.4v2.4h-2.4zM86.20 128.35h2.4v2.4h-2.4zM88.25 128.35h2.4v2.4h-2.4zM100.55 128.35h2.4v2.4h-2.4zM145.65 128.35h2.4v2.4h-2.4zM147.70 128.35h2.4v2.4h-2.4zM149.75 128.35h2.4v2.4h-2.4zM155.90 128.35h2.4v2.4h-2.4zM164.10 128.35h2.4v2.4h-2.4zM166.15 128.35h2.4v2.4h-2.4zM168.20 128.35h2.4v2.4h-2.4zM170.25 128.35h2.4v2.4h-2.4zM172.30 128.35h2.4v2.4h-2.4zM84.15 130.40h2.4v2.4h-2.4zM90.30 130.40h2.4v2.4h-2.4zM98.50 130.40h2.4v2.4h-2.4zM100.55 130.40h2.4v2.4h-2.4zM102.60 130.40h2.4v2.4h-2.4zM106.70 130.40h2.4v2.4h-2.4zM143.60 130.40h2.4v2.4h-2.4zM145.65 130.40h2.4v2.4h-2.4zM155.90 130.40h2.4v2.4h-2.4zM164.10 130.40h2.4v2.4h-2.4zM166.15 130.40h2.4v2.4h-2.4zM168.20 130.40h2.4v2.4h-2.4zM172.30 130.40h2.4v2.4h-2.4zM174.35 130.40h2.4v2.4h-2.4zM71.85 132.45h2.4v2.4h-2.4zM75.95 132.45h2.4v2.4h-2.4zM82.10 132.45h2.4v2.4h-2.4zM86.20 132.45h2.4v2.4h-2.4zM88.25 132.45h2.4v2.4h-2.4zM92.35 132.45h2.4v2.4h-2.4zM96.45 132.45h2.4v2.4h-2.4zM98.50 132.45h2.4v2.4h-2.4zM141.55 132.45h2.4v2.4h-2.4zM145.65 132.45h2.4v2.4h-2.4zM147.70 132.45h2.4v2.4h-2.4zM151.80 132.45h2.4v2.4h-2.4zM155.90 132.45h2.4v2.4h-2.4zM164.10 132.45h2.4v2.4h-2.4zM168.20 132.45h2.4v2.4h-2.4zM170.25 132.45h2.4v2.4h-2.4zM176.40 132.45h2.4v2.4h-2.4zM80.05 134.50h2.4v2.4h-2.4zM82.10 134.50h2.4v2.4h-2.4zM84.15 134.50h2.4v2.4h-2.4zM86.20 134.50h2.4v2.4h-2.4zM88.25 134.50h2.4v2.4h-2.4zM90.30 134.50h2.4v2.4h-2.4zM96.45 134.50h2.4v2.4h-2.4zM104.65 134.50h2.4v2.4h-2.4zM108.75 134.50h2.4v2.4h-2.4zM145.65 134.50h2.4v2.4h-2.4zM147.70 134.50h2.4v2.4h-2.4zM151.80 134.50h2.4v2.4h-2.4zM164.10 134.50h2.4v2.4h-2.4zM166.15 134.50h2.4v2.4h-2.4zM172.30 134.50h2.4v2.4h-2.4zM84.15 136.55h2.4v2.4h-2.4zM88.25 136.55h2.4v2.4h-2.4zM98.50 136.55h2.4v2.4h-2.4zM100.55 136.55h2.4v2.4h-2.4zM102.60 136.55h2.4v2.4h-2.4zM104.65 136.55h2.4v2.4h-2.4zM106.70 136.55h2.4v2.4h-2.4zM143.60 136.55h2.4v2.4h-2.4zM147.70 136.55h2.4v2.4h-2.4zM166.15 136.55h2.4v2.4h-2.4zM168.20 136.55h2.4v2.4h-2.4zM84.15 138.60h2.4v2.4h-2.4zM86.20 138.60h2.4v2.4h-2.4zM88.25 138.60h2.4v2.4h-2.4zM92.35 138.60h2.4v2.4h-2.4zM100.55 138.60h2.4v2.4h-2.4zM106.70 138.60h2.4v2.4h-2.4zM151.80 138.60h2.4v2.4h-2.4zM166.15 138.60h2.4v2.4h-2.4zM168.20 138.60h2.4v2.4h-2.4zM104.65 140.65h2.4v2.4h-2.4zM106.70 140.65h2.4v2.4h-2.4zM147.70 140.65h2.4v2.4h-2.4zM151.80 140.65h2.4v2.4h-2.4zM168.20 140.65h2.4v2.4h-2.4zM170.25 140.65h2.4v2.4h-2.4zM102.60 142.70h2.4v2.4h-2.4zM104.65 142.70h2.4v2.4h-2.4zM151.80 142.70h2.4v2.4h-2.4zM157.95 142.70h2.4v2.4h-2.4zM160.00 142.70h2.4v2.4h-2.4zM166.15 142.70h2.4v2.4h-2.4zM88.25 144.75h2.4v2.4h-2.4zM102.60 144.75h2.4v2.4h-2.4zM104.65 144.75h2.4v2.4h-2.4zM147.70 144.75h2.4v2.4h-2.4zM149.75 144.75h2.4v2.4h-2.4zM162.05 144.75h2.4v2.4h-2.4zM164.10 144.75h2.4v2.4h-2.4zM168.20 144.75h2.4v2.4h-2.4zM96.45 146.80h2.4v2.4h-2.4zM100.55 146.80h2.4v2.4h-2.4zM102.60 146.80h2.4v2.4h-2.4zM104.65 146.80h2.4v2.4h-2.4zM106.70 146.80h2.4v2.4h-2.4zM153.85 146.80h2.4v2.4h-2.4zM155.90 146.80h2.4v2.4h-2.4zM160.00 146.80h2.4v2.4h-2.4zM170.25 146.80h2.4v2.4h-2.4zM90.30 148.85h2.4v2.4h-2.4zM94.40 148.85h2.4v2.4h-2.4zM102.60 148.85h2.4v2.4h-2.4zM94.40 150.90h2.4v2.4h-2.4zM100.55 150.90h2.4v2.4h-2.4zM106.70 150.90h2.4v2.4h-2.4zM110.80 150.90h2.4v2.4h-2.4zM112.85 150.90h2.4v2.4h-2.4zM92.35 152.95h2.4v2.4h-2.4zM96.45 152.95h2.4v2.4h-2.4zM102.60 152.95h2.4v2.4h-2.4zM110.80 152.95h2.4v2.4h-2.4zM104.65 155.00h2.4v2.4h-2.4zM110.80 155.00h2.4v2.4h-2.4zM182.55 163.20h2.4v2.4h-2.4zM180.50 167.30h2.4v2.4h-2.4z"/><path fill="#4ac16d" d="M69.80 79.15h2.4v2.4h-2.4zM73.90 79.15h2.4v2.4h-2.4zM78.00 79.15h2.4v2.4h-2.4zM80.05 79.15h2.4v2.4h-2.4zM84.15 79.15h2.4v2.4h-2.4zM65.70 81.20h2.4v2.4h-2.4zM84.15 81.20h2.4v2.4h-2.4zM67.75 83.25h2.4v2.4h-2.4zM71.85 83.25h2.4v2.4h-2.4zM75.95 83.25h2.4v2.4h-2.4zM78.00 83.25h2.4v2.4h-2.4zM59.55 85.30h2.4v2.4h-2.4zM75.95 85.30h2.4v2.4h-2.4zM73.90 87.35h2.4v2.4h-2.4zM80.05 87.35h2.4v2.4h-2.4zM86.20 87.35h2.4v2.4h-2.4zM90.30 87.35h2.4v2.4h-2.4zM100.55 87.35h2.4v2.4h-2.4zM92.35 89.40h2.4v2.4h-2.4zM82.10 91.45h2.4v2.4h-2.4zM84.15 91.45h2.4v2.4h-2.4zM86.20 91.45h2.4v2.4h-2.4zM108.75 91.45h2.4v2.4h-2.4zM73.90 93.50h2.4v2.4h-2.4zM100.55 93.50h2.4v2.4h-2.4zM104.65 93.50h2.4v2.4h-2.4zM106.70 93.50h2.4v2.4h-2.4zM110.80 95.55h2.4v2.4h-2.4zM129.25 95.55h2.4v2.4h-2.4zM162.05 95.55h2.4v2.4h-2.4zM129.25 97.60h2.4v2.4h-2.4zM149.75 97.60h2.4v2.4h-2.4zM151.80 97.60h2.4v2.4h-2.4zM168.20 97.60h2.4v2.4h-2.4zM94.40 99.65h2.4v2.4h-2.4zM106.70 99.65h2.4v2.4h-2.4zM69.80 101.70h2.4v2.4h-2.4zM149.75 101.70h2.4v2.4h-2.4zM151.80 101.70h2.4v2.4h-2.4zM155.90 101.70h2.4v2.4h-2.4zM160.00 101.70h2.4v2.4h-2.4zM170.25 101.70h2.4v2.4h-2.4zM67.75 103.75h2.4v2.4h-2.4zM69.80 103.75h2.4v2.4h-2.4zM71.85 103.75h2.4v2.4h-2.4zM75.95 103.75h2.4v2.4h-2.4zM84.15 103.75h2.4v2.4h-2.4zM86.20 103.75h2.4v2.4h-2.4zM88.25 103.75h2.4v2.4h-2.4zM90.30 103.75h2.4v2.4h-2.4zM139.50 103.75h2.4v2.4h-2.4zM149.75 103.75h2.4v2.4h-2.4zM153.85 103.75h2.4v2.4h-2.4zM155.90 103.75h2.4v2.4h-2.4zM65.70 105.80h2.4v2.4h-2.4zM75.95 105.80h2.4v2.4h-2.4zM84.15 105.80h2.4v2.4h-2.4zM92.35 105.80h2.4v2.4h-2.4zM145.65 105.80h2.4v2.4h-2.4zM147.70 105.80h2.4v2.4h-2.4zM166.15 105.80h2.4v2.4h-2.4zM174.35 105.80h2.4v2.4h-2.4zM69.80 107.85h2.4v2.4h-2.4zM71.85 107.85h2.4v2.4h-2.4zM78.00 107.85h2.4v2.4h-2.4zM88.25 107.85h2.4v2.4h-2.4zM155.90 107.85h2.4v2.4h-2.4zM157.95 107.85h2.4v2.4h-2.4zM160.00 107.85h2.4v2.4h-2.4zM168.20 107.85h2.4v2.4h-2.4zM170.25 107.85h2.4v2.4h-2.4zM67.75 109.90h2.4v2.4h-2.4zM71.85 109.90h2.4v2.4h-2.4zM73.90 109.90h2.4v2.4h-2.4zM75.95 109.90h2.4v2.4h-2.4zM78.00 109.90h2.4v2.4h-2.4zM80.05 109.90h2.4v2.4h-2.4zM86.20 109.90h2.4v2.4h-2.4zM88.25 109.90h2.4v2.4h-2.4zM143.60 109.90h2.4v2.4h-2.4zM145.65 109.90h2.4v2.4h-2.4zM151.80 109.90h2.4v2.4h-2.4zM155.90 109.90h2.4v2.4h-2.4zM73.90 111.95h2.4v2.4h-2.4zM75.95 111.95h2.4v2.4h-2.4zM78.00 111.95h2.4v2.4h-2.4zM88.25 111.95h2.4v2.4h-2.4zM149.75 111.95h2.4v2.4h-2.4zM151.80 111.95h2.4v2.4h-2.4zM155.90 111.95h2.4v2.4h-2.4zM180.50 111.95h2.4v2.4h-2.4zM75.95 114.00h2.4v2.4h-2.4zM78.00 114.00h2.4v2.4h-2.4zM80.05 114.00h2.4v2.4h-2.4zM84.15 114.00h2.4v2.4h-2.4zM88.25 114.00h2.4v2.4h-2.4zM94.40 114.00h2.4v2.4h-2.4zM153.85 114.00h2.4v2.4h-2.4zM157.95 114.00h2.4v2.4h-2.4zM71.85 116.05h2.4v2.4h-2.4zM78.00 116.05h2.4v2.4h-2.4zM84.15 116.05h2.4v2.4h-2.4zM88.25 116.05h2.4v2.4h-2.4zM94.40 116.05h2.4v2.4h-2.4zM155.90 116.05h2.4v2.4h-2.4zM157.95 116.05h2.4v2.4h-2.4zM69.80 118.10h2.4v2.4h-2.4zM75.95 118.10h2.4v2.4h-2.4zM86.20 118.10h2.4v2.4h-2.4zM88.25 118.10h2.4v2.4h-2.4zM149.75 118.10h2.4v2.4h-2.4zM164.10 118.10h2.4v2.4h-2.4zM73.90 120.15h2.4v2.4h-2.4zM75.95 120.15h2.4v2.4h-2.4zM78.00 120.15h2.4v2.4h-2.4zM86.20 120.15h2.4v2.4h-2.4zM90.30 120.15h2.4v2.4h-2.4zM141.55 120.15h2.4v2.4h-2.4zM143.60 120.15h2.4v2.4h-2.4zM145.65 120.15h2.4v2.4h-2.4zM147.70 120.15h2.4v2.4h-2.4zM149.75 120.15h2.4v2.4h-2.4zM78.00 122.20h2.4v2.4h-2.4zM88.25 122.20h2.4v2.4h-2.4zM90.30 122.20h2.4v2.4h-2.4zM147.70 122.20h2.4v2.4h-2.4zM149.75 122.20h2.4v2.4h-2.4zM151.80 122.20h2.4v2.4h-2.4zM162.05 122.20h2.4v2.4h-2.4zM71.85 124.25h2.4v2.4h-2.4zM82.10 124.25h2.4v2.4h-2.4zM88.25 124.25h2.4v2.4h-2.4zM90.30 124.25h2.4v2.4h-2.4zM149.75 124.25h2.4v2.4h-2.4zM151.80 124.25h2.4v2.4h-2.4zM153.85 124.25h2.4v2.4h-2.4zM160.00 124.25h2.4v2.4h-2.4zM162.05 124.25h2.4v2.4h-2.4zM78.00 126.30h2.4v2.4h-2.4zM80.05 126.30h2.4v2.4h-2.4zM84.15 126.30h2.4v2.4h-2.4zM90.30 126.30h2.4v2.4h-2.4zM98.50 126.30h2.4v2.4h-2.4zM162.05 126.30h2.4v2.4h-2.4zM75.95 128.35h2.4v2.4h-2.4zM82.10 128.35h2.4v2.4h-2.4zM90.30 128.35h2.4v2.4h-2.4zM98.50 128.35h2.4v2.4h-2.4zM80.05 130.40h2.4v2.4h-2.4zM82.10 130.40h2.4v2.4h-2.4zM94.40 130.40h2.4v2.4h-2.4zM96.45 130.40h2.4v2.4h-2.4zM104.65 130.40h2.4v2.4h-2.4zM149.75 130.40h2.4v2.4h-2.4zM153.85 130.40h2.4v2.4h-2.4zM162.05 130.40h2.4v2.4h-2.4zM80.05 132.45h2.4v2.4h-2.4zM94.40 132.45h2.4v2.4h-2.4zM106.70 132.45h2.4v2.4h-2.4zM143.60 132.45h2.4v2.4h-2.4zM149.75 132.45h2.4v2.4h-2.4zM94.40 134.50h2.4v2.4h-2.4zM98.50 134.50h2.4v2.4h-2.4zM102.60 134.50h2.4v2.4h-2.4zM106.70 134.50h2.4v2.4h-2.4zM155.90 134.50h2.4v2.4h-2.4zM82.10 136.55h2.4v2.4h-2.4zM92.35 136.55h2.4v2.4h-2.4zM96.45 136.55h2.4v2.4h-2.4zM145.65 136.55h2.4v2.4h-2.4zM96.45 138.60h2.4v2.4h-2.4zM104.65 138.60h2.4v2.4h-2.4zM149.75 138.60h2.4v2.4h-2.4zM92.35 140.65h2.4v2.4h-2.4zM98.50 140.65h2.4v2.4h-2.4zM149.75 140.65h2.4v2.4h-2.4zM166.15 140.65h2.4v2.4h-2.4zM100.55 142.70h2.4v2.4h-2.4zM147.70 142.70h2.4v2.4h-2.4zM149.75 142.70h2.4v2.4h-2.4zM90.30 144.75h2.4v2.4h-2.4zM153.85 144.75h2.4v2.4h-2.4zM88.25 146.80h2.4v2.4h-2.4zM94.40 146.80h2.4v2.4h-2.4zM92.35 148.85h2.4v2.4h-2.4zM96.45 148.85h2.4v2.4h-2.4zM98.50 148.85h2.4v2.4h-2.4zM104.65 148.85h2.4v2.4h-2.4zM106.70 148.85h2.4v2.4h-2.4zM96.45 150.90h2.4v2.4h-2.4zM160.00 150.90h2.4v2.4h-2.4zM112.85 152.95h2.4v2.4h-2.4zM98.50 155.00h2.4v2.4h-2.4zM180.50 165.25h2.4v2.4h-2.4z"/><path fill="#a0da39" d="M71.85 81.20h2.4v2.4h-2.4zM78.00 81.20h2.4v2.4h-2.4zM80.05 81.20h2.4v2.4h-2.4zM82.10 81.20h2.4v2.4h-2.4zM80.05 83.25h2.4v2.4h-2.4zM82.10 83.25h2.4v2.4h-2.4zM78.00 85.30h2.4v2.4h-2.4zM82.10 85.30h2.4v2.4h-2.4zM82.10 87.35h2.4v2.4h-2.4zM82.10 89.40h2.4v2.4h-2.4zM88.25 89.40h2.4v2.4h-2.4zM108.75 93.50h2.4v2.4h-2.4zM106.70 97.60h2.4v2.4h-2.4zM108.75 97.60h2.4v2.4h-2.4zM143.60 99.65h2.4v2.4h-2.4zM164.10 99.65h2.4v2.4h-2.4zM168.20 99.65h2.4v2.4h-2.4zM170.25 99.65h2.4v2.4h-2.4zM71.85 101.70h2.4v2.4h-2.4zM108.75 101.70h2.4v2.4h-2.4zM153.85 101.70h2.4v2.4h-2.4zM73.90 103.75h2.4v2.4h-2.4zM143.60 103.75h2.4v2.4h-2.4zM145.65 103.75h2.4v2.4h-2.4zM160.00 103.75h2.4v2.4h-2.4zM162.05 103.75h2.4v2.4h-2.4zM164.10 103.75h2.4v2.4h-2.4zM73.90 105.80h2.4v2.4h-2.4zM160.00 105.80h2.4v2.4h-2.4zM164.10 105.80h2.4v2.4h-2.4zM170.25 105.80h2.4v2.4h-2.4zM172.30 105.80h2.4v2.4h-2.4zM75.95 107.85h2.4v2.4h-2.4zM90.30 107.85h2.4v2.4h-2.4zM147.70 107.85h2.4v2.4h-2.4zM149.75 107.85h2.4v2.4h-2.4zM90.30 109.90h2.4v2.4h-2.4zM80.05 111.95h2.4v2.4h-2.4zM90.30 111.95h2.4v2.4h-2.4zM92.35 111.95h2.4v2.4h-2.4zM94.40 111.95h2.4v2.4h-2.4zM69.80 114.00h2.4v2.4h-2.4zM82.10 114.00h2.4v2.4h-2.4zM90.30 114.00h2.4v2.4h-2.4zM147.70 114.00h2.4v2.4h-2.4zM75.95 116.05h2.4v2.4h-2.4zM80.05 116.05h2.4v2.4h-2.4zM90.30 116.05h2.4v2.4h-2.4zM92.35 116.05h2.4v2.4h-2.4zM149.75 116.05h2.4v2.4h-2.4zM151.80 116.05h2.4v2.4h-2.4zM153.85 116.05h2.4v2.4h-2.4zM71.85 118.10h2.4v2.4h-2.4zM73.90 118.10h2.4v2.4h-2.4zM82.10 118.10h2.4v2.4h-2.4zM84.15 118.10h2.4v2.4h-2.4zM145.65 118.10h2.4v2.4h-2.4zM80.05 120.15h2.4v2.4h-2.4zM82.10 120.15h2.4v2.4h-2.4zM73.90 122.20h2.4v2.4h-2.4zM94.40 124.25h2.4v2.4h-2.4zM96.45 124.25h2.4v2.4h-2.4zM92.35 126.30h2.4v2.4h-2.4zM94.40 126.30h2.4v2.4h-2.4zM96.45 126.30h2.4v2.4h-2.4zM104.65 126.30h2.4v2.4h-2.4zM151.80 126.30h2.4v2.4h-2.4zM164.10 126.30h2.4v2.4h-2.4zM78.00 128.35h2.4v2.4h-2.4zM92.35 128.35h2.4v2.4h-2.4zM94.40 128.35h2.4v2.4h-2.4zM92.35 130.40h2.4v2.4h-2.4zM100.55 132.45h2.4v2.4h-2.4zM94.40 138.60h2.4v2.4h-2.4zM98.50 138.60h2.4v2.4h-2.4zM94.40 140.65h2.4v2.4h-2.4zM96.45 140.65h2.4v2.4h-2.4zM100.55 140.65h2.4v2.4h-2.4zM92.35 144.75h2.4v2.4h-2.4zM94.40 144.75h2.4v2.4h-2.4zM151.80 144.75h2.4v2.4h-2.4zM92.35 146.80h2.4v2.4h-2.4zM98.50 146.80h2.4v2.4h-2.4zM123.50 182.60h2.4v2.4h-2.4z"/><path fill="#fde725" d="M67.75 81.20h2.4v2.4h-2.4zM69.80 81.20h2.4v2.4h-2.4zM73.90 81.20h2.4v2.4h-2.4zM75.95 81.20h2.4v2.4h-2.4zM80.05 85.30h2.4v2.4h-2.4zM84.15 87.35h2.4v2.4h-2.4zM84.15 89.40h2.4v2.4h-2.4zM86.20 89.40h2.4v2.4h-2.4zM100.55 89.40h2.4v2.4h-2.4zM108.75 95.55h2.4v2.4h-2.4zM108.75 99.65h2.4v2.4h-2.4zM166.15 99.65h2.4v2.4h-2.4zM164.10 101.70h2.4v2.4h-2.4zM166.15 101.70h2.4v2.4h-2.4zM168.20 101.70h2.4v2.4h-2.4zM166.15 103.75h2.4v2.4h-2.4zM168.20 103.75h2.4v2.4h-2.4zM170.25 103.75h2.4v2.4h-2.4zM172.30 103.75h2.4v2.4h-2.4zM69.80 105.80h2.4v2.4h-2.4zM71.85 105.80h2.4v2.4h-2.4zM162.05 105.80h2.4v2.4h-2.4zM168.20 105.80h2.4v2.4h-2.4zM73.90 107.85h2.4v2.4h-2.4zM92.35 107.85h2.4v2.4h-2.4zM94.40 107.85h2.4v2.4h-2.4zM92.35 109.90h2.4v2.4h-2.4zM92.35 114.00h2.4v2.4h-2.4zM151.80 114.00h2.4v2.4h-2.4zM82.10 116.05h2.4v2.4h-2.4zM78.00 118.10h2.4v2.4h-2.4zM80.05 118.10h2.4v2.4h-2.4zM80.05 122.20h2.4v2.4h-2.4zM82.10 122.20h2.4v2.4h-2.4zM92.35 142.70h2.4v2.4h-2.4zM94.40 142.70h2.4v2.4h-2.4zM96.45 142.70h2.4v2.4h-2.4zM98.50 142.70h2.4v2.4h-2.4zM96.45 144.75h2.4v2.4h-2.4zM98.50 144.75h2.4v2.4h-2.4zM121.50 182.60h2.4v2.4h-2.4z"/></g></g>
<polygon points="41.7,100.0 43.3,79.3 45.6,69.9 51.8,59.0 61.2,48.1 70.6,39.5 80.0,34.8 92.4,33.3 103.3,34.4 112.7,36.8 118.9,40.3 123.6,43.4 130.0,43.1 135.6,41.8 166.8,40.6 198.0,41.1 204.2,42.2 207.4,45.0 208.9,51.2 209.7,66.8 209.7,90.0 208.3,100.0 207.4,115.6 207.4,128.0 208.6,139.0 212.5,154.6 217.2,170.2 222.5,184.6 226.9,199.2 228.3,213.8 227.6,225.5 226.1,227.2 221.8,227.2 210.0,226.6 198.4,224.0 188.2,218.2 179.4,211.6 175.0,209.1 172.8,209.1 169.2,205.8 161.9,198.5 154.6,192.6 147.3,187.5 140.0,185.5 133.3,184.6 122.4,184.6 114.6,186.5 106.8,190.4 100.6,195.1 95.9,197.4 95.1,188.9 92.8,190.4 85.0,191.2 80.3,189.6 79.5,186.5 83.4,182.6 91.2,177.9 92.8,174.8 88.1,170.9 79.9,167.1 70.6,162.4 61.2,157.7 56.2,156.2 55.7,146.8 54.2,143.7 49.5,135.9 46.4,128.0 43.3,121.8 40.6,118.8 38.6,118.2 38.6,117.2 40.6,115.0 40.9,108.0" fill="none" stroke="#000" stroke-width="0.9" stroke-linejoin="round"/>
<line x1="113.50" y1="18.40" x2="113.50" y2="117.90" stroke="#000" stroke-width="0.5" stroke-opacity="0.55"/>
<line x1="28.30" y1="117.90" x2="113.50" y2="117.90" stroke="#000" stroke-width="0.5" stroke-opacity="0.55"/>
<polyline points="28.4,169.0 30.6,169.8 32.2,171.7 34.4,172.5 36.0,173.8 38.1,174.3 39.8,175.6 41.1,177.2 42.4,178.7 43.7,180.3 44.1,182.7 44.4,185.0 45.3,187.3 47.0,189.1 48.4,191.1 49.2,193.5 49.6,196.4 50.7,199.0 51.0,201.6 50.9,204.2 51.5,206.8 53.0,208.5 53.5,210.6 54.2,212.7 55.4,214.5 57.0,216.3 57.7,218.7 59.1,220.6 60.8,222.3 62.9,222.6 64.7,223.4 66.3,224.7 68.2,226.7 70.2,228.6 71.4,230.4 73.4,231.3 75.1,232.6 76.4,234.3" fill="none" stroke="#000" stroke-opacity="0.6" stroke-width="0.45"/>
<polyline points="119.3,234.3 120.4,232.0 120.5,229.5 121.9,227.7 122.4,225.5 122.7,223.4 123.5,221.4 125.1,219.8 125.5,217.7 127.3,215.9 128.6,213.8 130.7,213.7 132.8,213.0 134.9,213.0 137.0,212.0 139.1,210.8 141.1,209.6 143.2,210.6 145.5,211.0 147.4,212.3 149.5,212.5 151.5,212.6 153.6,213.0 155.8,213.0 157.9,213.1 160.0,212.3 162.4,213.3 165.0,213.2 167.9,213.2 170.7,213.0 172.9,213.3 175.0,213.8 176.7,215.1 178.0,216.7 179.6,218.6 180.1,221.0 182.4,222.4 183.8,224.7 185.8,226.1 187.8,227.5 189.6,229.1 191.4,230.7 192.7,232.9 194.7,234.3" fill="none" stroke="#000" stroke-opacity="0.6" stroke-width="0.45"/>
<text x="50.10" y="47.20" font-size="8.0" text-anchor="middle" textLength="12.24" lengthAdjust="spacingAndGlyphs" fill="#1c1c1c">NM</text>
<text x="93.10" y="213.30" font-size="8.0" text-anchor="middle" textLength="9.85" lengthAdjust="spacingAndGlyphs" fill="#1c1c1c">TX</text>
<rect x="28.30" y="18.40" width="212.70" height="215.90" fill="none" stroke="#6e6e6e" stroke-width="0.9"/>
<line x1="39.40" y1="234.30" x2="39.40" y2="236.90" stroke="#6e6e6e" stroke-width="0.8"/>
<text x="39.40" y="245.10" font-size="8.5" text-anchor="middle" textLength="22.66" lengthAdjust="spacingAndGlyphs" fill="#1c1c1c">−105</text>
<line x1="77.36" y1="234.30" x2="77.36" y2="236.90" stroke="#6e6e6e" stroke-width="0.8"/>
<text x="77.36" y="245.10" font-size="8.5" text-anchor="middle" textLength="22.66" lengthAdjust="spacingAndGlyphs" fill="#1c1c1c">−104</text>
<line x1="115.32" y1="234.30" x2="115.32" y2="236.90" stroke="#6e6e6e" stroke-width="0.8"/>
<text x="115.32" y="245.10" font-size="8.5" text-anchor="middle" textLength="22.66" lengthAdjust="spacingAndGlyphs" fill="#1c1c1c">−103</text>
<line x1="153.28" y1="234.30" x2="153.28" y2="236.90" stroke="#6e6e6e" stroke-width="0.8"/>
<text x="153.28" y="245.10" font-size="8.5" text-anchor="middle" textLength="22.66" lengthAdjust="spacingAndGlyphs" fill="#1c1c1c">−102</text>
<line x1="191.24" y1="234.30" x2="191.24" y2="236.90" stroke="#6e6e6e" stroke-width="0.8"/>
<text x="191.24" y="245.10" font-size="8.5" text-anchor="middle" textLength="22.66" lengthAdjust="spacingAndGlyphs" fill="#1c1c1c">−101</text>
<line x1="229.20" y1="234.30" x2="229.20" y2="236.90" stroke="#6e6e6e" stroke-width="0.8"/>
<text x="229.20" y="245.10" font-size="8.5" text-anchor="middle" textLength="22.66" lengthAdjust="spacingAndGlyphs" fill="#1c1c1c">−100</text>
<line x1="25.70" y1="31.40" x2="28.30" y2="31.40" stroke="#6e6e6e" stroke-width="0.8"/>
<text x="23.50" y="34.70" font-size="8.5" text-anchor="end" textLength="10.50" lengthAdjust="spacingAndGlyphs" fill="#1c1c1c">34</text>
<line x1="25.70" y1="74.60" x2="28.30" y2="74.60" stroke="#6e6e6e" stroke-width="0.8"/>
<text x="23.50" y="77.90" font-size="8.5" text-anchor="end" textLength="10.50" lengthAdjust="spacingAndGlyphs" fill="#1c1c1c">33</text>
<line x1="25.70" y1="117.80" x2="28.30" y2="117.80" stroke="#6e6e6e" stroke-width="0.8"/>
<text x="23.50" y="121.10" font-size="8.5" text-anchor="end" textLength="10.50" lengthAdjust="spacingAndGlyphs" fill="#1c1c1c">32</text>
<line x1="25.70" y1="161.00" x2="28.30" y2="161.00" stroke="#6e6e6e" stroke-width="0.8"/>
<text x="23.50" y="164.30" font-size="8.5" text-anchor="end" textLength="10.50" lengthAdjust="spacingAndGlyphs" fill="#1c1c1c">31</text>
<line x1="25.70" y1="204.20" x2="28.30" y2="204.20" stroke="#6e6e6e" stroke-width="0.8"/>
<text x="23.50" y="207.50" font-size="8.5" text-anchor="end" textLength="10.50" lengthAdjust="spacingAndGlyphs" fill="#1c1c1c">30</text>
<polygon points="41.7,354.6 43.3,333.9 45.6,324.5 51.8,313.6 61.2,302.7 70.6,294.1 80.0,289.4 92.4,287.9 103.3,289.0 112.7,291.4 118.9,294.9 123.6,298.0 130.0,297.7 135.6,296.4 166.8,295.2 198.0,295.7 204.2,296.8 207.4,299.6 208.9,305.8 209.7,321.4 209.7,344.6 208.3,354.6 207.4,370.2 207.4,382.6 208.6,393.6 212.5,409.2 217.2,424.8 222.5,439.2 226.9,453.8 228.3,468.4 227.6,480.1 226.1,481.8 221.8,481.8 210.0,481.2 198.4,478.6 188.2,472.8 179.4,466.2 175.0,463.7 172.8,463.7 169.2,460.4 161.9,453.1 154.6,447.2 147.3,442.1 140.0,440.1 133.3,439.2 122.4,439.2 114.6,441.1 106.8,445.0 100.6,449.7 95.9,452.0 95.1,443.5 92.8,445.0 85.0,445.8 80.3,444.2 79.5,441.1 83.4,437.2 91.2,432.5 92.8,429.4 88.1,425.5 79.9,421.7 70.6,417.0 61.2,412.3 56.2,410.8 55.7,401.4 54.2,398.3 49.5,390.5 46.4,382.6 43.3,376.4 40.6,373.4 38.6,372.8 38.6,371.8 40.6,369.6 40.9,362.6" fill="#450257"/>
<polygon points="41.7,354.6 43.3,333.9 45.6,324.5 51.8,313.6 61.2,302.7 70.6,294.1 80.0,289.4 92.4,287.9 103.3,289.0 112.7,291.4 118.9,294.9 123.6,298.0 130.0,297.7 135.6,296.4 166.8,295.2 198.0,295.7 204.2,296.8 207.4,299.6 208.9,305.8 209.7,321.4 209.7,344.6 208.3,354.6 207.4,370.2 207.4,382.6 208.6,393.6 212.5,409.2 217.2,424.8 222.5,439.2 226.9,453.8 228.3,468.4 227.6,480.1 226.1,481.8 221.8,481.8 210.0,481.2 198.4,478.6 188.2,472.8 179.4,466.2 175.0,463.7 172.8,463.7 169.2,460.4 161.9,453.1 154.6,447.2 147.3,442.1 140.0,440.1 133.3,439.2 122.4,439.2 114.6,441.1 106.8,445.0 100.6,449.7 95.9,452.0 95.1,443.5 92.8,445.0 85.0,445.8 80.3,444.2 79.5,441.1 83.4,437.2 91.2,432.5 92.8,429.4 88.1,425.5 79.9,421.7 70.6,417.0 61.2,412.3 56.2,410.8 55.7,401.4 54.2,398.3 49.5,390.5 46.4,382.6 43.3,376.4 40.6,373.4 38.6,372.8 38.6,371.8 40.6,369.6 40.9,362.6" fill="url(#tex)"/>
<g clip-path="url(#clipc)"><g filter="url(#soft)"><path fill="#46327e" d="M203.05 333.75h2.4v2.4h-2.4zM57.50 335.80h2.4v2.4h-2.4zM71.85 335.80h2.4v2.4h-2.4zM80.05 335.80h2.4v2.4h-2.4zM82.10 335.80h2.4v2.4h-2.4zM104.65 335.80h2.4v2.4h-2.4zM184.60 335.80h2.4v2.4h-2.4zM188.70 335.80h2.4v2.4h-2.4zM61.60 337.85h2.4v2.4h-2.4zM69.80 337.85h2.4v2.4h-2.4zM71.85 337.85h2.4v2.4h-2.4zM96.45 337.85h2.4v2.4h-2.4zM129.25 337.85h2.4v2.4h-2.4zM180.50 337.85h2.4v2.4h-2.4zM190.75 337.85h2.4v2.4h-2.4zM73.90 339.90h2.4v2.4h-2.4zM186.65 339.90h2.4v2.4h-2.4zM194.85 339.90h2.4v2.4h-2.4zM71.85 341.95h2.4v2.4h-2.4zM92.35 341.95h2.4v2.4h-2.4zM94.40 341.95h2.4v2.4h-2.4zM196.90 341.95h2.4v2.4h-2.4zM78.00 344.00h2.4v2.4h-2.4zM82.10 344.00h2.4v2.4h-2.4zM88.25 344.00h2.4v2.4h-2.4zM108.75 344.00h2.4v2.4h-2.4zM196.90 344.00h2.4v2.4h-2.4zM69.80 346.05h2.4v2.4h-2.4zM80.05 346.05h2.4v2.4h-2.4zM92.35 346.05h2.4v2.4h-2.4zM94.40 346.05h2.4v2.4h-2.4zM96.45 346.05h2.4v2.4h-2.4zM174.35 346.05h2.4v2.4h-2.4zM71.85 348.10h2.4v2.4h-2.4zM92.35 348.10h2.4v2.4h-2.4zM94.40 348.10h2.4v2.4h-2.4zM96.45 348.10h2.4v2.4h-2.4zM170.25 348.10h2.4v2.4h-2.4zM172.30 348.10h2.4v2.4h-2.4zM176.40 348.10h2.4v2.4h-2.4zM67.75 350.15h2.4v2.4h-2.4zM92.35 350.15h2.4v2.4h-2.4zM94.40 350.15h2.4v2.4h-2.4zM98.50 350.15h2.4v2.4h-2.4zM145.65 350.15h2.4v2.4h-2.4zM149.75 350.15h2.4v2.4h-2.4zM155.90 350.15h2.4v2.4h-2.4zM164.10 350.15h2.4v2.4h-2.4zM166.15 350.15h2.4v2.4h-2.4zM168.20 350.15h2.4v2.4h-2.4zM170.25 350.15h2.4v2.4h-2.4zM172.30 350.15h2.4v2.4h-2.4zM90.30 352.20h2.4v2.4h-2.4zM94.40 352.20h2.4v2.4h-2.4zM98.50 352.20h2.4v2.4h-2.4zM102.60 352.20h2.4v2.4h-2.4zM143.60 352.20h2.4v2.4h-2.4zM145.65 352.20h2.4v2.4h-2.4zM147.70 352.20h2.4v2.4h-2.4zM149.75 352.20h2.4v2.4h-2.4zM157.95 352.20h2.4v2.4h-2.4zM160.00 352.20h2.4v2.4h-2.4zM162.05 352.20h2.4v2.4h-2.4zM170.25 352.20h2.4v2.4h-2.4zM90.30 354.25h2.4v2.4h-2.4zM94.40 354.25h2.4v2.4h-2.4zM98.50 354.25h2.4v2.4h-2.4zM100.55 354.25h2.4v2.4h-2.4zM102.60 354.25h2.4v2.4h-2.4zM139.50 354.25h2.4v2.4h-2.4zM151.80 354.25h2.4v2.4h-2.4zM153.85 354.25h2.4v2.4h-2.4zM155.90 354.25h2.4v2.4h-2.4zM157.95 354.25h2.4v2.4h-2.4zM180.50 354.25h2.4v2.4h-2.4zM57.50 356.30h2.4v2.4h-2.4zM67.75 356.30h2.4v2.4h-2.4zM69.80 356.30h2.4v2.4h-2.4zM71.85 356.30h2.4v2.4h-2.4zM78.00 356.30h2.4v2.4h-2.4zM100.55 356.30h2.4v2.4h-2.4zM141.55 356.30h2.4v2.4h-2.4zM157.95 356.30h2.4v2.4h-2.4zM188.70 356.30h2.4v2.4h-2.4zM80.05 358.35h2.4v2.4h-2.4zM104.65 358.35h2.4v2.4h-2.4zM131.30 358.35h2.4v2.4h-2.4zM137.45 358.35h2.4v2.4h-2.4zM141.55 358.35h2.4v2.4h-2.4zM149.75 358.35h2.4v2.4h-2.4zM153.85 358.35h2.4v2.4h-2.4zM162.05 358.35h2.4v2.4h-2.4zM61.60 360.40h2.4v2.4h-2.4zM65.70 360.40h2.4v2.4h-2.4zM106.70 360.40h2.4v2.4h-2.4zM141.55 360.40h2.4v2.4h-2.4zM174.35 360.40h2.4v2.4h-2.4zM178.45 360.40h2.4v2.4h-2.4zM104.65 362.45h2.4v2.4h-2.4zM149.75 362.45h2.4v2.4h-2.4zM170.25 362.45h2.4v2.4h-2.4zM178.45 362.45h2.4v2.4h-2.4zM180.50 362.45h2.4v2.4h-2.4zM143.60 364.50h2.4v2.4h-2.4zM145.65 364.50h2.4v2.4h-2.4zM151.80 364.50h2.4v2.4h-2.4zM162.05 364.50h2.4v2.4h-2.4zM166.15 364.50h2.4v2.4h-2.4zM168.20 364.50h2.4v2.4h-2.4zM172.30 364.50h2.4v2.4h-2.4zM67.75 366.55h2.4v2.4h-2.4zM141.55 366.55h2.4v2.4h-2.4zM143.60 366.55h2.4v2.4h-2.4zM145.65 366.55h2.4v2.4h-2.4zM147.70 366.55h2.4v2.4h-2.4zM151.80 366.55h2.4v2.4h-2.4zM166.15 366.55h2.4v2.4h-2.4zM63.65 368.60h2.4v2.4h-2.4zM65.70 368.60h2.4v2.4h-2.4zM67.75 368.60h2.4v2.4h-2.4zM69.80 368.60h2.4v2.4h-2.4zM71.85 368.60h2.4v2.4h-2.4zM100.55 368.60h2.4v2.4h-2.4zM102.60 368.60h2.4v2.4h-2.4zM106.70 368.60h2.4v2.4h-2.4zM143.60 368.60h2.4v2.4h-2.4zM166.15 368.60h2.4v2.4h-2.4zM172.30 368.60h2.4v2.4h-2.4zM59.55 370.65h2.4v2.4h-2.4zM65.70 370.65h2.4v2.4h-2.4zM104.65 370.65h2.4v2.4h-2.4zM141.55 370.65h2.4v2.4h-2.4zM166.15 370.65h2.4v2.4h-2.4zM59.55 372.70h2.4v2.4h-2.4zM61.60 372.70h2.4v2.4h-2.4zM63.65 372.70h2.4v2.4h-2.4zM65.70 372.70h2.4v2.4h-2.4zM104.65 372.70h2.4v2.4h-2.4zM141.55 372.70h2.4v2.4h-2.4zM145.65 372.70h2.4v2.4h-2.4zM172.30 372.70h2.4v2.4h-2.4zM100.55 374.75h2.4v2.4h-2.4zM102.60 374.75h2.4v2.4h-2.4zM104.65 374.75h2.4v2.4h-2.4zM141.55 374.75h2.4v2.4h-2.4zM168.20 374.75h2.4v2.4h-2.4zM102.60 376.80h2.4v2.4h-2.4zM141.55 376.80h2.4v2.4h-2.4zM143.60 376.80h2.4v2.4h-2.4zM170.25 376.80h2.4v2.4h-2.4zM57.50 378.85h2.4v2.4h-2.4zM61.60 378.85h2.4v2.4h-2.4zM63.65 378.85h2.4v2.4h-2.4zM69.80 378.85h2.4v2.4h-2.4zM92.35 378.85h2.4v2.4h-2.4zM94.40 378.85h2.4v2.4h-2.4zM98.50 378.85h2.4v2.4h-2.4zM100.55 378.85h2.4v2.4h-2.4zM102.60 378.85h2.4v2.4h-2.4zM104.65 378.85h2.4v2.4h-2.4zM106.70 378.85h2.4v2.4h-2.4zM143.60 378.85h2.4v2.4h-2.4zM170.25 378.85h2.4v2.4h-2.4zM174.35 378.85h2.4v2.4h-2.4zM57.50 380.90h2.4v2.4h-2.4zM67.75 380.90h2.4v2.4h-2.4zM71.85 380.90h2.4v2.4h-2.4zM86.20 380.90h2.4v2.4h-2.4zM96.45 380.90h2.4v2.4h-2.4zM106.70 380.90h2.4v2.4h-2.4zM108.75 380.90h2.4v2.4h-2.4zM166.15 380.90h2.4v2.4h-2.4zM170.25 380.90h2.4v2.4h-2.4zM71.85 382.95h2.4v2.4h-2.4zM73.90 382.95h2.4v2.4h-2.4zM78.00 382.95h2.4v2.4h-2.4zM90.30 382.95h2.4v2.4h-2.4zM92.35 382.95h2.4v2.4h-2.4zM96.45 382.95h2.4v2.4h-2.4zM102.60 382.95h2.4v2.4h-2.4zM104.65 382.95h2.4v2.4h-2.4zM110.80 382.95h2.4v2.4h-2.4zM141.55 382.95h2.4v2.4h-2.4zM157.95 382.95h2.4v2.4h-2.4zM168.20 382.95h2.4v2.4h-2.4zM170.25 382.95h2.4v2.4h-2.4zM172.30 382.95h2.4v2.4h-2.4zM176.40 382.95h2.4v2.4h-2.4zM178.45 382.95h2.4v2.4h-2.4zM69.80 385.00h2.4v2.4h-2.4zM75.95 385.00h2.4v2.4h-2.4zM88.25 385.00h2.4v2.4h-2.4zM96.45 385.00h2.4v2.4h-2.4zM98.50 385.00h2.4v2.4h-2.4zM100.55 385.00h2.4v2.4h-2.4zM108.75 385.00h2.4v2.4h-2.4zM141.55 385.00h2.4v2.4h-2.4zM170.25 385.00h2.4v2.4h-2.4zM172.30 385.00h2.4v2.4h-2.4zM174.35 385.00h2.4v2.4h-2.4zM176.40 385.00h2.4v2.4h-2.4zM178.45 385.00h2.4v2.4h-2.4zM73.90 387.05h2.4v2.4h-2.4zM86.20 387.05h2.4v2.4h-2.4zM92.35 387.05h2.4v2.4h-2.4zM94.40 387.05h2.4v2.4h-2.4zM96.45 387.05h2.4v2.4h-2.4zM102.60 387.05h2.4v2.4h-2.4zM108.75 387.05h2.4v2.4h-2.4zM139.50 387.05h2.4v2.4h-2.4zM143.60 387.05h2.4v2.4h-2.4zM147.70 387.05h2.4v2.4h-2.4zM149.75 387.05h2.4v2.4h-2.4zM155.90 387.05h2.4v2.4h-2.4zM157.95 387.05h2.4v2.4h-2.4zM160.00 387.05h2.4v2.4h-2.4zM162.05 387.05h2.4v2.4h-2.4zM164.10 387.05h2.4v2.4h-2.4zM166.15 387.05h2.4v2.4h-2.4zM168.20 387.05h2.4v2.4h-2.4zM174.35 387.05h2.4v2.4h-2.4zM180.50 387.05h2.4v2.4h-2.4zM73.90 389.10h2.4v2.4h-2.4zM75.95 389.10h2.4v2.4h-2.4zM98.50 389.10h2.4v2.4h-2.4zM102.60 389.10h2.4v2.4h-2.4zM110.80 389.10h2.4v2.4h-2.4zM139.50 389.10h2.4v2.4h-2.4zM145.65 389.10h2.4v2.4h-2.4zM162.05 389.10h2.4v2.4h-2.4zM168.20 389.10h2.4v2.4h-2.4zM170.25 389.10h2.4v2.4h-2.4zM172.30 389.10h2.4v2.4h-2.4zM174.35 389.10h2.4v2.4h-2.4zM75.95 391.15h2.4v2.4h-2.4zM78.00 391.15h2.4v2.4h-2.4zM82.10 391.15h2.4v2.4h-2.4zM106.70 391.15h2.4v2.4h-2.4zM108.75 391.15h2.4v2.4h-2.4zM112.85 391.15h2.4v2.4h-2.4zM141.55 391.15h2.4v2.4h-2.4zM145.65 391.15h2.4v2.4h-2.4zM147.70 391.15h2.4v2.4h-2.4zM151.80 391.15h2.4v2.4h-2.4zM162.05 391.15h2.4v2.4h-2.4zM164.10 391.15h2.4v2.4h-2.4zM168.20 391.15h2.4v2.4h-2.4zM170.25 391.15h2.4v2.4h-2.4zM172.30 391.15h2.4v2.4h-2.4zM80.05 393.20h2.4v2.4h-2.4zM82.10 393.20h2.4v2.4h-2.4zM86.20 393.20h2.4v2.4h-2.4zM90.30 393.20h2.4v2.4h-2.4zM100.55 393.20h2.4v2.4h-2.4zM102.60 393.20h2.4v2.4h-2.4zM106.70 393.20h2.4v2.4h-2.4zM108.75 393.20h2.4v2.4h-2.4zM110.80 393.20h2.4v2.4h-2.4zM149.75 393.20h2.4v2.4h-2.4zM151.80 393.20h2.4v2.4h-2.4zM153.85 393.20h2.4v2.4h-2.4zM162.05 393.20h2.4v2.4h-2.4zM168.20 393.20h2.4v2.4h-2.4zM170.25 393.20h2.4v2.4h-2.4zM172.30 393.20h2.4v2.4h-2.4zM176.40 393.20h2.4v2.4h-2.4zM84.15 395.25h2.4v2.4h-2.4zM106.70 395.25h2.4v2.4h-2.4zM108.75 395.25h2.4v2.4h-2.4zM110.80 395.25h2.4v2.4h-2.4zM112.85 395.25h2.4v2.4h-2.4zM139.50 395.25h2.4v2.4h-2.4zM155.90 395.25h2.4v2.4h-2.4zM157.95 395.25h2.4v2.4h-2.4zM160.00 395.25h2.4v2.4h-2.4zM162.05 395.25h2.4v2.4h-2.4zM164.10 395.25h2.4v2.4h-2.4zM166.15 395.25h2.4v2.4h-2.4zM172.30 395.25h2.4v2.4h-2.4zM106.70 397.30h2.4v2.4h-2.4zM112.85 397.30h2.4v2.4h-2.4zM143.60 397.30h2.4v2.4h-2.4zM147.70 397.30h2.4v2.4h-2.4zM149.75 397.30h2.4v2.4h-2.4zM151.80 397.30h2.4v2.4h-2.4zM155.90 397.30h2.4v2.4h-2.4zM157.95 397.30h2.4v2.4h-2.4zM162.05 397.30h2.4v2.4h-2.4zM164.10 397.30h2.4v2.4h-2.4zM168.20 397.30h2.4v2.4h-2.4zM170.25 397.30h2.4v2.4h-2.4zM178.45 397.30h2.4v2.4h-2.4zM78.00 399.35h2.4v2.4h-2.4zM82.10 399.35h2.4v2.4h-2.4zM84.15 399.35h2.4v2.4h-2.4zM86.20 399.35h2.4v2.4h-2.4zM90.30 399.35h2.4v2.4h-2.4zM94.40 399.35h2.4v2.4h-2.4zM100.55 399.35h2.4v2.4h-2.4zM104.65 399.35h2.4v2.4h-2.4zM106.70 399.35h2.4v2.4h-2.4zM108.75 399.35h2.4v2.4h-2.4zM145.65 399.35h2.4v2.4h-2.4zM151.80 399.35h2.4v2.4h-2.4zM153.85 399.35h2.4v2.4h-2.4zM157.95 399.35h2.4v2.4h-2.4zM162.05 399.35h2.4v2.4h-2.4zM164.10 399.35h2.4v2.4h-2.4zM78.00 401.40h2.4v2.4h-2.4zM80.05 401.40h2.4v2.4h-2.4zM82.10 401.40h2.4v2.4h-2.4zM84.15 401.40h2.4v2.4h-2.4zM90.30 401.40h2.4v2.4h-2.4zM92.35 401.40h2.4v2.4h-2.4zM102.60 401.40h2.4v2.4h-2.4zM106.70 401.40h2.4v2.4h-2.4zM108.75 401.40h2.4v2.4h-2.4zM110.80 401.40h2.4v2.4h-2.4zM160.00 401.40h2.4v2.4h-2.4zM162.05 401.40h2.4v2.4h-2.4zM75.95 403.45h2.4v2.4h-2.4zM78.00 403.45h2.4v2.4h-2.4zM84.15 403.45h2.4v2.4h-2.4zM86.20 403.45h2.4v2.4h-2.4zM90.30 403.45h2.4v2.4h-2.4zM94.40 403.45h2.4v2.4h-2.4zM96.45 403.45h2.4v2.4h-2.4zM98.50 403.45h2.4v2.4h-2.4zM104.65 403.45h2.4v2.4h-2.4zM108.75 403.45h2.4v2.4h-2.4zM153.85 403.45h2.4v2.4h-2.4zM160.00 403.45h2.4v2.4h-2.4zM184.60 403.45h2.4v2.4h-2.4zM88.25 405.50h2.4v2.4h-2.4zM90.30 405.50h2.4v2.4h-2.4zM92.35 405.50h2.4v2.4h-2.4zM96.45 405.50h2.4v2.4h-2.4zM100.55 405.50h2.4v2.4h-2.4zM106.70 405.50h2.4v2.4h-2.4zM108.75 405.50h2.4v2.4h-2.4zM119.00 405.50h2.4v2.4h-2.4zM166.15 405.50h2.4v2.4h-2.4zM182.55 405.50h2.4v2.4h-2.4zM190.75 405.50h2.4v2.4h-2.4zM90.30 407.55h2.4v2.4h-2.4zM92.35 407.55h2.4v2.4h-2.4zM96.45 407.55h2.4v2.4h-2.4zM104.65 407.55h2.4v2.4h-2.4zM106.70 407.55h2.4v2.4h-2.4zM108.75 407.55h2.4v2.4h-2.4zM110.80 407.55h2.4v2.4h-2.4zM178.45 407.55h2.4v2.4h-2.4zM92.35 409.60h2.4v2.4h-2.4zM94.40 409.60h2.4v2.4h-2.4zM96.45 409.60h2.4v2.4h-2.4zM98.50 409.60h2.4v2.4h-2.4zM100.55 409.60h2.4v2.4h-2.4zM106.70 409.60h2.4v2.4h-2.4zM108.75 409.60h2.4v2.4h-2.4zM110.80 409.60h2.4v2.4h-2.4zM157.95 409.60h2.4v2.4h-2.4zM182.55 409.60h2.4v2.4h-2.4zM82.10 411.65h2.4v2.4h-2.4zM88.25 411.65h2.4v2.4h-2.4zM92.35 411.65h2.4v2.4h-2.4zM94.40 411.65h2.4v2.4h-2.4zM100.55 411.65h2.4v2.4h-2.4zM102.60 411.65h2.4v2.4h-2.4zM108.75 411.65h2.4v2.4h-2.4zM112.85 411.65h2.4v2.4h-2.4zM176.40 411.65h2.4v2.4h-2.4zM178.45 411.65h2.4v2.4h-2.4zM186.65 411.65h2.4v2.4h-2.4zM80.05 413.70h2.4v2.4h-2.4zM88.25 413.70h2.4v2.4h-2.4zM90.30 413.70h2.4v2.4h-2.4zM106.70 413.70h2.4v2.4h-2.4zM188.70 413.70h2.4v2.4h-2.4zM100.55 415.75h2.4v2.4h-2.4zM104.65 415.75h2.4v2.4h-2.4zM84.15 417.80h2.4v2.4h-2.4zM96.45 417.80h2.4v2.4h-2.4zM106.70 417.80h2.4v2.4h-2.4zM110.80 421.90h2.4v2.4h-2.4zM118.00 322.80h2.4v2.4h-2.4zM135.00 308.00h2.4v2.4h-2.4zM135.50 310.30h2.4v2.4h-2.4zM124.00 340.00h2.4v2.4h-2.4zM125.00 345.00h2.4v2.4h-2.4zM108.00 342.20h2.4v2.4h-2.4zM108.50 350.50h2.4v2.4h-2.4z"/><path fill="#365c8d" d="M55.45 335.80h2.4v2.4h-2.4zM65.70 337.85h2.4v2.4h-2.4zM102.60 337.85h2.4v2.4h-2.4zM196.90 337.85h2.4v2.4h-2.4zM71.85 344.00h2.4v2.4h-2.4zM75.95 344.00h2.4v2.4h-2.4zM67.75 346.05h2.4v2.4h-2.4zM100.55 346.05h2.4v2.4h-2.4zM96.45 350.15h2.4v2.4h-2.4zM162.05 350.15h2.4v2.4h-2.4zM174.35 350.15h2.4v2.4h-2.4zM176.40 350.15h2.4v2.4h-2.4zM96.45 352.20h2.4v2.4h-2.4zM100.55 352.20h2.4v2.4h-2.4zM172.30 352.20h2.4v2.4h-2.4zM174.35 352.20h2.4v2.4h-2.4zM176.40 352.20h2.4v2.4h-2.4zM178.45 352.20h2.4v2.4h-2.4zM71.85 354.25h2.4v2.4h-2.4zM86.20 354.25h2.4v2.4h-2.4zM88.25 354.25h2.4v2.4h-2.4zM92.35 354.25h2.4v2.4h-2.4zM96.45 354.25h2.4v2.4h-2.4zM141.55 354.25h2.4v2.4h-2.4zM143.60 354.25h2.4v2.4h-2.4zM147.70 354.25h2.4v2.4h-2.4zM149.75 354.25h2.4v2.4h-2.4zM160.00 354.25h2.4v2.4h-2.4zM162.05 354.25h2.4v2.4h-2.4zM170.25 354.25h2.4v2.4h-2.4zM73.90 356.30h2.4v2.4h-2.4zM84.15 356.30h2.4v2.4h-2.4zM86.20 356.30h2.4v2.4h-2.4zM88.25 356.30h2.4v2.4h-2.4zM90.30 356.30h2.4v2.4h-2.4zM96.45 356.30h2.4v2.4h-2.4zM98.50 356.30h2.4v2.4h-2.4zM147.70 356.30h2.4v2.4h-2.4zM149.75 356.30h2.4v2.4h-2.4zM151.80 356.30h2.4v2.4h-2.4zM153.85 356.30h2.4v2.4h-2.4zM155.90 356.30h2.4v2.4h-2.4zM160.00 356.30h2.4v2.4h-2.4zM162.05 356.30h2.4v2.4h-2.4zM168.20 356.30h2.4v2.4h-2.4zM176.40 356.30h2.4v2.4h-2.4zM178.45 356.30h2.4v2.4h-2.4zM69.80 358.35h2.4v2.4h-2.4zM71.85 358.35h2.4v2.4h-2.4zM73.90 358.35h2.4v2.4h-2.4zM75.95 358.35h2.4v2.4h-2.4zM78.00 358.35h2.4v2.4h-2.4zM98.50 358.35h2.4v2.4h-2.4zM100.55 358.35h2.4v2.4h-2.4zM102.60 358.35h2.4v2.4h-2.4zM143.60 358.35h2.4v2.4h-2.4zM151.80 358.35h2.4v2.4h-2.4zM157.95 358.35h2.4v2.4h-2.4zM160.00 358.35h2.4v2.4h-2.4zM164.10 358.35h2.4v2.4h-2.4zM168.20 358.35h2.4v2.4h-2.4zM170.25 358.35h2.4v2.4h-2.4zM178.45 358.35h2.4v2.4h-2.4zM69.80 360.40h2.4v2.4h-2.4zM73.90 360.40h2.4v2.4h-2.4zM100.55 360.40h2.4v2.4h-2.4zM102.60 360.40h2.4v2.4h-2.4zM104.65 360.40h2.4v2.4h-2.4zM110.80 360.40h2.4v2.4h-2.4zM143.60 360.40h2.4v2.4h-2.4zM151.80 360.40h2.4v2.4h-2.4zM153.85 360.40h2.4v2.4h-2.4zM168.20 360.40h2.4v2.4h-2.4zM170.25 360.40h2.4v2.4h-2.4zM176.40 360.40h2.4v2.4h-2.4zM67.75 362.45h2.4v2.4h-2.4zM69.80 362.45h2.4v2.4h-2.4zM71.85 362.45h2.4v2.4h-2.4zM75.95 362.45h2.4v2.4h-2.4zM106.70 362.45h2.4v2.4h-2.4zM143.60 362.45h2.4v2.4h-2.4zM145.65 362.45h2.4v2.4h-2.4zM147.70 362.45h2.4v2.4h-2.4zM153.85 362.45h2.4v2.4h-2.4zM160.00 362.45h2.4v2.4h-2.4zM168.20 362.45h2.4v2.4h-2.4zM172.30 362.45h2.4v2.4h-2.4zM174.35 362.45h2.4v2.4h-2.4zM67.75 364.50h2.4v2.4h-2.4zM75.95 364.50h2.4v2.4h-2.4zM78.00 364.50h2.4v2.4h-2.4zM80.05 364.50h2.4v2.4h-2.4zM82.10 364.50h2.4v2.4h-2.4zM108.75 364.50h2.4v2.4h-2.4zM147.70 364.50h2.4v2.4h-2.4zM153.85 364.50h2.4v2.4h-2.4zM155.90 364.50h2.4v2.4h-2.4zM157.95 364.50h2.4v2.4h-2.4zM160.00 364.50h2.4v2.4h-2.4zM170.25 364.50h2.4v2.4h-2.4zM57.50 366.55h2.4v2.4h-2.4zM80.05 366.55h2.4v2.4h-2.4zM106.70 366.55h2.4v2.4h-2.4zM149.75 366.55h2.4v2.4h-2.4zM153.85 366.55h2.4v2.4h-2.4zM155.90 366.55h2.4v2.4h-2.4zM157.95 366.55h2.4v2.4h-2.4zM160.00 366.55h2.4v2.4h-2.4zM164.10 366.55h2.4v2.4h-2.4zM75.95 368.60h2.4v2.4h-2.4zM104.65 368.60h2.4v2.4h-2.4zM145.65 368.60h2.4v2.4h-2.4zM147.70 368.60h2.4v2.4h-2.4zM149.75 368.60h2.4v2.4h-2.4zM151.80 368.60h2.4v2.4h-2.4zM153.85 368.60h2.4v2.4h-2.4zM160.00 368.60h2.4v2.4h-2.4zM162.05 368.60h2.4v2.4h-2.4zM67.75 370.65h2.4v2.4h-2.4zM71.85 370.65h2.4v2.4h-2.4zM73.90 370.65h2.4v2.4h-2.4zM75.95 370.65h2.4v2.4h-2.4zM78.00 370.65h2.4v2.4h-2.4zM100.55 370.65h2.4v2.4h-2.4zM102.60 370.65h2.4v2.4h-2.4zM143.60 370.65h2.4v2.4h-2.4zM145.65 370.65h2.4v2.4h-2.4zM147.70 370.65h2.4v2.4h-2.4zM160.00 370.65h2.4v2.4h-2.4zM164.10 370.65h2.4v2.4h-2.4zM168.20 370.65h2.4v2.4h-2.4zM67.75 372.70h2.4v2.4h-2.4zM71.85 372.70h2.4v2.4h-2.4zM98.50 372.70h2.4v2.4h-2.4zM100.55 372.70h2.4v2.4h-2.4zM102.60 372.70h2.4v2.4h-2.4zM139.50 372.70h2.4v2.4h-2.4zM151.80 372.70h2.4v2.4h-2.4zM155.90 372.70h2.4v2.4h-2.4zM166.15 372.70h2.4v2.4h-2.4zM170.25 372.70h2.4v2.4h-2.4zM63.65 374.75h2.4v2.4h-2.4zM65.70 374.75h2.4v2.4h-2.4zM67.75 374.75h2.4v2.4h-2.4zM69.80 374.75h2.4v2.4h-2.4zM98.50 374.75h2.4v2.4h-2.4zM143.60 374.75h2.4v2.4h-2.4zM151.80 374.75h2.4v2.4h-2.4zM63.65 376.80h2.4v2.4h-2.4zM65.70 376.80h2.4v2.4h-2.4zM67.75 376.80h2.4v2.4h-2.4zM69.80 376.80h2.4v2.4h-2.4zM88.25 376.80h2.4v2.4h-2.4zM92.35 376.80h2.4v2.4h-2.4zM96.45 376.80h2.4v2.4h-2.4zM98.50 376.80h2.4v2.4h-2.4zM100.55 376.80h2.4v2.4h-2.4zM157.95 376.80h2.4v2.4h-2.4zM164.10 376.80h2.4v2.4h-2.4zM168.20 376.80h2.4v2.4h-2.4zM67.75 378.85h2.4v2.4h-2.4zM71.85 378.85h2.4v2.4h-2.4zM73.90 378.85h2.4v2.4h-2.4zM88.25 378.85h2.4v2.4h-2.4zM90.30 378.85h2.4v2.4h-2.4zM145.65 378.85h2.4v2.4h-2.4zM153.85 378.85h2.4v2.4h-2.4zM160.00 378.85h2.4v2.4h-2.4zM164.10 378.85h2.4v2.4h-2.4zM166.15 378.85h2.4v2.4h-2.4zM168.20 378.85h2.4v2.4h-2.4zM69.80 380.90h2.4v2.4h-2.4zM80.05 380.90h2.4v2.4h-2.4zM84.15 380.90h2.4v2.4h-2.4zM88.25 380.90h2.4v2.4h-2.4zM90.30 380.90h2.4v2.4h-2.4zM94.40 380.90h2.4v2.4h-2.4zM98.50 380.90h2.4v2.4h-2.4zM104.65 380.90h2.4v2.4h-2.4zM143.60 380.90h2.4v2.4h-2.4zM145.65 380.90h2.4v2.4h-2.4zM157.95 380.90h2.4v2.4h-2.4zM160.00 380.90h2.4v2.4h-2.4zM162.05 380.90h2.4v2.4h-2.4zM168.20 380.90h2.4v2.4h-2.4zM69.80 382.95h2.4v2.4h-2.4zM80.05 382.95h2.4v2.4h-2.4zM84.15 382.95h2.4v2.4h-2.4zM86.20 382.95h2.4v2.4h-2.4zM88.25 382.95h2.4v2.4h-2.4zM94.40 382.95h2.4v2.4h-2.4zM143.60 382.95h2.4v2.4h-2.4zM145.65 382.95h2.4v2.4h-2.4zM160.00 382.95h2.4v2.4h-2.4zM71.85 385.00h2.4v2.4h-2.4zM73.90 385.00h2.4v2.4h-2.4zM80.05 385.00h2.4v2.4h-2.4zM82.10 385.00h2.4v2.4h-2.4zM86.20 385.00h2.4v2.4h-2.4zM90.30 385.00h2.4v2.4h-2.4zM92.35 385.00h2.4v2.4h-2.4zM94.40 385.00h2.4v2.4h-2.4zM102.60 385.00h2.4v2.4h-2.4zM104.65 385.00h2.4v2.4h-2.4zM106.70 385.00h2.4v2.4h-2.4zM143.60 385.00h2.4v2.4h-2.4zM145.65 385.00h2.4v2.4h-2.4zM153.85 385.00h2.4v2.4h-2.4zM160.00 385.00h2.4v2.4h-2.4zM164.10 385.00h2.4v2.4h-2.4zM166.15 385.00h2.4v2.4h-2.4zM168.20 385.00h2.4v2.4h-2.4zM71.85 387.05h2.4v2.4h-2.4zM75.95 387.05h2.4v2.4h-2.4zM78.00 387.05h2.4v2.4h-2.4zM82.10 387.05h2.4v2.4h-2.4zM88.25 387.05h2.4v2.4h-2.4zM90.30 387.05h2.4v2.4h-2.4zM98.50 387.05h2.4v2.4h-2.4zM100.55 387.05h2.4v2.4h-2.4zM104.65 387.05h2.4v2.4h-2.4zM106.70 387.05h2.4v2.4h-2.4zM112.85 387.05h2.4v2.4h-2.4zM141.55 387.05h2.4v2.4h-2.4zM145.65 387.05h2.4v2.4h-2.4zM151.80 387.05h2.4v2.4h-2.4zM153.85 387.05h2.4v2.4h-2.4zM172.30 387.05h2.4v2.4h-2.4zM176.40 387.05h2.4v2.4h-2.4zM78.00 389.10h2.4v2.4h-2.4zM80.05 389.10h2.4v2.4h-2.4zM82.10 389.10h2.4v2.4h-2.4zM90.30 389.10h2.4v2.4h-2.4zM94.40 389.10h2.4v2.4h-2.4zM96.45 389.10h2.4v2.4h-2.4zM100.55 389.10h2.4v2.4h-2.4zM104.65 389.10h2.4v2.4h-2.4zM106.70 389.10h2.4v2.4h-2.4zM108.75 389.10h2.4v2.4h-2.4zM141.55 389.10h2.4v2.4h-2.4zM143.60 389.10h2.4v2.4h-2.4zM149.75 389.10h2.4v2.4h-2.4zM151.80 389.10h2.4v2.4h-2.4zM153.85 389.10h2.4v2.4h-2.4zM155.90 389.10h2.4v2.4h-2.4zM157.95 389.10h2.4v2.4h-2.4zM160.00 389.10h2.4v2.4h-2.4zM166.15 389.10h2.4v2.4h-2.4zM80.05 391.15h2.4v2.4h-2.4zM84.15 391.15h2.4v2.4h-2.4zM88.25 391.15h2.4v2.4h-2.4zM90.30 391.15h2.4v2.4h-2.4zM92.35 391.15h2.4v2.4h-2.4zM96.45 391.15h2.4v2.4h-2.4zM98.50 391.15h2.4v2.4h-2.4zM100.55 391.15h2.4v2.4h-2.4zM102.60 391.15h2.4v2.4h-2.4zM104.65 391.15h2.4v2.4h-2.4zM110.80 391.15h2.4v2.4h-2.4zM149.75 391.15h2.4v2.4h-2.4zM153.85 391.15h2.4v2.4h-2.4zM155.90 391.15h2.4v2.4h-2.4zM157.95 391.15h2.4v2.4h-2.4zM160.00 391.15h2.4v2.4h-2.4zM166.15 391.15h2.4v2.4h-2.4zM180.50 391.15h2.4v2.4h-2.4zM84.15 393.20h2.4v2.4h-2.4zM88.25 393.20h2.4v2.4h-2.4zM92.35 393.20h2.4v2.4h-2.4zM94.40 393.20h2.4v2.4h-2.4zM96.45 393.20h2.4v2.4h-2.4zM98.50 393.20h2.4v2.4h-2.4zM104.65 393.20h2.4v2.4h-2.4zM155.90 393.20h2.4v2.4h-2.4zM157.95 393.20h2.4v2.4h-2.4zM160.00 393.20h2.4v2.4h-2.4zM164.10 393.20h2.4v2.4h-2.4zM166.15 393.20h2.4v2.4h-2.4zM86.20 395.25h2.4v2.4h-2.4zM88.25 395.25h2.4v2.4h-2.4zM90.30 395.25h2.4v2.4h-2.4zM92.35 395.25h2.4v2.4h-2.4zM98.50 395.25h2.4v2.4h-2.4zM100.55 395.25h2.4v2.4h-2.4zM102.60 395.25h2.4v2.4h-2.4zM104.65 395.25h2.4v2.4h-2.4zM149.75 395.25h2.4v2.4h-2.4zM151.80 395.25h2.4v2.4h-2.4zM153.85 395.25h2.4v2.4h-2.4zM168.20 395.25h2.4v2.4h-2.4zM84.15 397.30h2.4v2.4h-2.4zM88.25 397.30h2.4v2.4h-2.4zM90.30 397.30h2.4v2.4h-2.4zM92.35 397.30h2.4v2.4h-2.4zM104.65 397.30h2.4v2.4h-2.4zM108.75 397.30h2.4v2.4h-2.4zM110.80 397.30h2.4v2.4h-2.4zM145.65 397.30h2.4v2.4h-2.4zM160.00 397.30h2.4v2.4h-2.4zM172.30 397.30h2.4v2.4h-2.4zM176.40 397.30h2.4v2.4h-2.4zM80.05 399.35h2.4v2.4h-2.4zM88.25 399.35h2.4v2.4h-2.4zM92.35 399.35h2.4v2.4h-2.4zM98.50 399.35h2.4v2.4h-2.4zM102.60 399.35h2.4v2.4h-2.4zM112.85 399.35h2.4v2.4h-2.4zM149.75 399.35h2.4v2.4h-2.4zM155.90 399.35h2.4v2.4h-2.4zM160.00 399.35h2.4v2.4h-2.4zM172.30 399.35h2.4v2.4h-2.4zM178.45 399.35h2.4v2.4h-2.4zM182.55 399.35h2.4v2.4h-2.4zM86.20 401.40h2.4v2.4h-2.4zM88.25 401.40h2.4v2.4h-2.4zM94.40 401.40h2.4v2.4h-2.4zM96.45 401.40h2.4v2.4h-2.4zM98.50 401.40h2.4v2.4h-2.4zM100.55 401.40h2.4v2.4h-2.4zM104.65 401.40h2.4v2.4h-2.4zM166.15 401.40h2.4v2.4h-2.4zM92.35 403.45h2.4v2.4h-2.4zM100.55 403.45h2.4v2.4h-2.4zM102.60 403.45h2.4v2.4h-2.4zM106.70 403.45h2.4v2.4h-2.4zM151.80 403.45h2.4v2.4h-2.4zM174.35 403.45h2.4v2.4h-2.4zM94.40 405.50h2.4v2.4h-2.4zM98.50 405.50h2.4v2.4h-2.4zM102.60 405.50h2.4v2.4h-2.4zM104.65 405.50h2.4v2.4h-2.4zM151.80 405.50h2.4v2.4h-2.4zM162.05 405.50h2.4v2.4h-2.4zM80.05 407.55h2.4v2.4h-2.4zM88.25 407.55h2.4v2.4h-2.4zM94.40 407.55h2.4v2.4h-2.4zM98.50 407.55h2.4v2.4h-2.4zM100.55 407.55h2.4v2.4h-2.4zM102.60 407.55h2.4v2.4h-2.4zM170.25 407.55h2.4v2.4h-2.4zM88.25 409.60h2.4v2.4h-2.4zM102.60 409.60h2.4v2.4h-2.4zM104.65 409.60h2.4v2.4h-2.4zM112.85 409.60h2.4v2.4h-2.4zM116.95 409.60h2.4v2.4h-2.4zM78.00 411.65h2.4v2.4h-2.4zM96.45 411.65h2.4v2.4h-2.4zM104.65 411.65h2.4v2.4h-2.4zM110.80 411.65h2.4v2.4h-2.4zM188.70 411.65h2.4v2.4h-2.4zM190.75 411.65h2.4v2.4h-2.4zM104.65 413.70h2.4v2.4h-2.4zM114.90 413.70h2.4v2.4h-2.4zM182.55 413.70h2.4v2.4h-2.4zM102.60 415.75h2.4v2.4h-2.4zM106.70 415.75h2.4v2.4h-2.4zM112.85 415.75h2.4v2.4h-2.4zM153.85 417.80h2.4v2.4h-2.4zM98.50 421.90h2.4v2.4h-2.4zM94.40 423.95h2.4v2.4h-2.4zM114.50 322.50h2.4v2.4h-2.4zM116.00 324.50h2.4v2.4h-2.4zM117.50 326.50h2.4v2.4h-2.4zM119.00 328.50h2.4v2.4h-2.4zM122.30 328.80h2.4v2.4h-2.4zM123.80 326.80h2.4v2.4h-2.4zM125.30 324.80h2.4v2.4h-2.4zM119.80 324.80h2.4v2.4h-2.4zM108.00 340.00h2.4v2.4h-2.4z"/><path fill="#277f8e" d="M69.80 335.80h2.4v2.4h-2.4zM86.20 344.00h2.4v2.4h-2.4zM98.50 346.05h2.4v2.4h-2.4zM90.30 348.10h2.4v2.4h-2.4zM157.95 350.15h2.4v2.4h-2.4zM166.15 352.20h2.4v2.4h-2.4zM168.20 352.20h2.4v2.4h-2.4zM145.65 354.25h2.4v2.4h-2.4zM164.10 354.25h2.4v2.4h-2.4zM166.15 354.25h2.4v2.4h-2.4zM168.20 354.25h2.4v2.4h-2.4zM174.35 354.25h2.4v2.4h-2.4zM176.40 354.25h2.4v2.4h-2.4zM178.45 354.25h2.4v2.4h-2.4zM94.40 356.30h2.4v2.4h-2.4zM143.60 356.30h2.4v2.4h-2.4zM164.10 356.30h2.4v2.4h-2.4zM166.15 356.30h2.4v2.4h-2.4zM170.25 356.30h2.4v2.4h-2.4zM172.30 356.30h2.4v2.4h-2.4zM174.35 356.30h2.4v2.4h-2.4zM82.10 358.35h2.4v2.4h-2.4zM86.20 358.35h2.4v2.4h-2.4zM88.25 358.35h2.4v2.4h-2.4zM92.35 358.35h2.4v2.4h-2.4zM94.40 358.35h2.4v2.4h-2.4zM147.70 358.35h2.4v2.4h-2.4zM155.90 358.35h2.4v2.4h-2.4zM172.30 358.35h2.4v2.4h-2.4zM174.35 358.35h2.4v2.4h-2.4zM176.40 358.35h2.4v2.4h-2.4zM71.85 360.40h2.4v2.4h-2.4zM75.95 360.40h2.4v2.4h-2.4zM80.05 360.40h2.4v2.4h-2.4zM82.10 360.40h2.4v2.4h-2.4zM90.30 360.40h2.4v2.4h-2.4zM94.40 360.40h2.4v2.4h-2.4zM145.65 360.40h2.4v2.4h-2.4zM147.70 360.40h2.4v2.4h-2.4zM149.75 360.40h2.4v2.4h-2.4zM155.90 360.40h2.4v2.4h-2.4zM157.95 360.40h2.4v2.4h-2.4zM166.15 360.40h2.4v2.4h-2.4zM172.30 360.40h2.4v2.4h-2.4zM73.90 362.45h2.4v2.4h-2.4zM80.05 362.45h2.4v2.4h-2.4zM82.10 362.45h2.4v2.4h-2.4zM100.55 362.45h2.4v2.4h-2.4zM102.60 362.45h2.4v2.4h-2.4zM151.80 362.45h2.4v2.4h-2.4zM166.15 362.45h2.4v2.4h-2.4zM71.85 364.50h2.4v2.4h-2.4zM73.90 364.50h2.4v2.4h-2.4zM104.65 364.50h2.4v2.4h-2.4zM149.75 364.50h2.4v2.4h-2.4zM164.10 364.50h2.4v2.4h-2.4zM69.80 366.55h2.4v2.4h-2.4zM73.90 366.55h2.4v2.4h-2.4zM78.00 366.55h2.4v2.4h-2.4zM82.10 366.55h2.4v2.4h-2.4zM162.05 366.55h2.4v2.4h-2.4zM73.90 368.60h2.4v2.4h-2.4zM155.90 368.60h2.4v2.4h-2.4zM157.95 368.60h2.4v2.4h-2.4zM164.10 368.60h2.4v2.4h-2.4zM168.20 368.60h2.4v2.4h-2.4zM69.80 370.65h2.4v2.4h-2.4zM80.05 370.65h2.4v2.4h-2.4zM82.10 370.65h2.4v2.4h-2.4zM98.50 370.65h2.4v2.4h-2.4zM139.50 370.65h2.4v2.4h-2.4zM149.75 370.65h2.4v2.4h-2.4zM151.80 370.65h2.4v2.4h-2.4zM153.85 370.65h2.4v2.4h-2.4zM155.90 370.65h2.4v2.4h-2.4zM157.95 370.65h2.4v2.4h-2.4zM162.05 370.65h2.4v2.4h-2.4zM69.80 372.70h2.4v2.4h-2.4zM75.95 372.70h2.4v2.4h-2.4zM78.00 372.70h2.4v2.4h-2.4zM80.05 372.70h2.4v2.4h-2.4zM82.10 372.70h2.4v2.4h-2.4zM84.15 372.70h2.4v2.4h-2.4zM86.20 372.70h2.4v2.4h-2.4zM88.25 372.70h2.4v2.4h-2.4zM96.45 372.70h2.4v2.4h-2.4zM153.85 372.70h2.4v2.4h-2.4zM157.95 372.70h2.4v2.4h-2.4zM160.00 372.70h2.4v2.4h-2.4zM162.05 372.70h2.4v2.4h-2.4zM164.10 372.70h2.4v2.4h-2.4zM71.85 374.75h2.4v2.4h-2.4zM75.95 374.75h2.4v2.4h-2.4zM78.00 374.75h2.4v2.4h-2.4zM80.05 374.75h2.4v2.4h-2.4zM82.10 374.75h2.4v2.4h-2.4zM84.15 374.75h2.4v2.4h-2.4zM86.20 374.75h2.4v2.4h-2.4zM88.25 374.75h2.4v2.4h-2.4zM90.30 374.75h2.4v2.4h-2.4zM145.65 374.75h2.4v2.4h-2.4zM147.70 374.75h2.4v2.4h-2.4zM155.90 374.75h2.4v2.4h-2.4zM157.95 374.75h2.4v2.4h-2.4zM160.00 374.75h2.4v2.4h-2.4zM164.10 374.75h2.4v2.4h-2.4zM166.15 374.75h2.4v2.4h-2.4zM71.85 376.80h2.4v2.4h-2.4zM73.90 376.80h2.4v2.4h-2.4zM75.95 376.80h2.4v2.4h-2.4zM84.15 376.80h2.4v2.4h-2.4zM86.20 376.80h2.4v2.4h-2.4zM90.30 376.80h2.4v2.4h-2.4zM94.40 376.80h2.4v2.4h-2.4zM145.65 376.80h2.4v2.4h-2.4zM147.70 376.80h2.4v2.4h-2.4zM149.75 376.80h2.4v2.4h-2.4zM153.85 376.80h2.4v2.4h-2.4zM155.90 376.80h2.4v2.4h-2.4zM160.00 376.80h2.4v2.4h-2.4zM162.05 376.80h2.4v2.4h-2.4zM166.15 376.80h2.4v2.4h-2.4zM65.70 378.85h2.4v2.4h-2.4zM75.95 378.85h2.4v2.4h-2.4zM80.05 378.85h2.4v2.4h-2.4zM84.15 378.85h2.4v2.4h-2.4zM86.20 378.85h2.4v2.4h-2.4zM96.45 378.85h2.4v2.4h-2.4zM147.70 378.85h2.4v2.4h-2.4zM151.80 378.85h2.4v2.4h-2.4zM155.90 378.85h2.4v2.4h-2.4zM157.95 378.85h2.4v2.4h-2.4zM162.05 378.85h2.4v2.4h-2.4zM73.90 380.90h2.4v2.4h-2.4zM75.95 380.90h2.4v2.4h-2.4zM78.00 380.90h2.4v2.4h-2.4zM82.10 380.90h2.4v2.4h-2.4zM92.35 380.90h2.4v2.4h-2.4zM102.60 380.90h2.4v2.4h-2.4zM149.75 380.90h2.4v2.4h-2.4zM151.80 380.90h2.4v2.4h-2.4zM155.90 380.90h2.4v2.4h-2.4zM164.10 380.90h2.4v2.4h-2.4zM75.95 382.95h2.4v2.4h-2.4zM82.10 382.95h2.4v2.4h-2.4zM98.50 382.95h2.4v2.4h-2.4zM100.55 382.95h2.4v2.4h-2.4zM151.80 382.95h2.4v2.4h-2.4zM153.85 382.95h2.4v2.4h-2.4zM155.90 382.95h2.4v2.4h-2.4zM162.05 382.95h2.4v2.4h-2.4zM164.10 382.95h2.4v2.4h-2.4zM166.15 382.95h2.4v2.4h-2.4zM78.00 385.00h2.4v2.4h-2.4zM84.15 385.00h2.4v2.4h-2.4zM155.90 385.00h2.4v2.4h-2.4zM157.95 385.00h2.4v2.4h-2.4zM162.05 385.00h2.4v2.4h-2.4zM80.05 387.05h2.4v2.4h-2.4zM84.15 387.05h2.4v2.4h-2.4zM84.15 389.10h2.4v2.4h-2.4zM86.20 389.10h2.4v2.4h-2.4zM88.25 389.10h2.4v2.4h-2.4zM92.35 389.10h2.4v2.4h-2.4zM164.10 389.10h2.4v2.4h-2.4zM86.20 391.15h2.4v2.4h-2.4zM94.40 391.15h2.4v2.4h-2.4zM94.40 395.25h2.4v2.4h-2.4zM96.45 395.25h2.4v2.4h-2.4zM147.70 395.25h2.4v2.4h-2.4zM94.40 397.30h2.4v2.4h-2.4zM98.50 397.30h2.4v2.4h-2.4zM100.55 397.30h2.4v2.4h-2.4zM102.60 397.30h2.4v2.4h-2.4zM96.45 399.35h2.4v2.4h-2.4zM75.95 405.50h2.4v2.4h-2.4zM96.45 413.70h2.4v2.4h-2.4zM96.45 423.95h2.4v2.4h-2.4zM113.00 320.50h2.4v2.4h-2.4zM120.50 330.50h2.4v2.4h-2.4zM127.00 339.00h2.4v2.4h-2.4zM145.50 351.00h2.4v2.4h-2.4z"/><path fill="#1fa187" d="M164.10 352.20h2.4v2.4h-2.4zM172.30 354.25h2.4v2.4h-2.4zM92.35 356.30h2.4v2.4h-2.4zM84.15 358.35h2.4v2.4h-2.4zM90.30 358.35h2.4v2.4h-2.4zM96.45 358.35h2.4v2.4h-2.4zM166.15 358.35h2.4v2.4h-2.4zM78.00 360.40h2.4v2.4h-2.4zM86.20 360.40h2.4v2.4h-2.4zM92.35 360.40h2.4v2.4h-2.4zM96.45 360.40h2.4v2.4h-2.4zM98.50 360.40h2.4v2.4h-2.4zM160.00 360.40h2.4v2.4h-2.4zM162.05 360.40h2.4v2.4h-2.4zM78.00 362.45h2.4v2.4h-2.4zM84.15 362.45h2.4v2.4h-2.4zM86.20 362.45h2.4v2.4h-2.4zM88.25 362.45h2.4v2.4h-2.4zM90.30 362.45h2.4v2.4h-2.4zM94.40 362.45h2.4v2.4h-2.4zM98.50 362.45h2.4v2.4h-2.4zM155.90 362.45h2.4v2.4h-2.4zM157.95 362.45h2.4v2.4h-2.4zM162.05 362.45h2.4v2.4h-2.4zM164.10 362.45h2.4v2.4h-2.4zM69.80 364.50h2.4v2.4h-2.4zM84.15 364.50h2.4v2.4h-2.4zM88.25 364.50h2.4v2.4h-2.4zM98.50 364.50h2.4v2.4h-2.4zM100.55 364.50h2.4v2.4h-2.4zM106.70 364.50h2.4v2.4h-2.4zM71.85 366.55h2.4v2.4h-2.4zM75.95 366.55h2.4v2.4h-2.4zM84.15 366.55h2.4v2.4h-2.4zM94.40 366.55h2.4v2.4h-2.4zM96.45 366.55h2.4v2.4h-2.4zM98.50 366.55h2.4v2.4h-2.4zM100.55 366.55h2.4v2.4h-2.4zM102.60 366.55h2.4v2.4h-2.4zM104.65 366.55h2.4v2.4h-2.4zM78.00 368.60h2.4v2.4h-2.4zM80.05 368.60h2.4v2.4h-2.4zM88.25 368.60h2.4v2.4h-2.4zM96.45 368.60h2.4v2.4h-2.4zM98.50 368.60h2.4v2.4h-2.4zM84.15 370.65h2.4v2.4h-2.4zM88.25 370.65h2.4v2.4h-2.4zM96.45 370.65h2.4v2.4h-2.4zM73.90 372.70h2.4v2.4h-2.4zM90.30 372.70h2.4v2.4h-2.4zM147.70 372.70h2.4v2.4h-2.4zM149.75 372.70h2.4v2.4h-2.4zM73.90 374.75h2.4v2.4h-2.4zM92.35 374.75h2.4v2.4h-2.4zM94.40 374.75h2.4v2.4h-2.4zM96.45 374.75h2.4v2.4h-2.4zM149.75 374.75h2.4v2.4h-2.4zM153.85 374.75h2.4v2.4h-2.4zM162.05 374.75h2.4v2.4h-2.4zM78.00 376.80h2.4v2.4h-2.4zM80.05 376.80h2.4v2.4h-2.4zM151.80 376.80h2.4v2.4h-2.4zM82.10 378.85h2.4v2.4h-2.4zM149.75 378.85h2.4v2.4h-2.4zM100.55 380.90h2.4v2.4h-2.4zM147.70 380.90h2.4v2.4h-2.4zM153.85 380.90h2.4v2.4h-2.4zM147.70 382.95h2.4v2.4h-2.4zM149.75 382.95h2.4v2.4h-2.4zM147.70 385.00h2.4v2.4h-2.4zM151.80 385.00h2.4v2.4h-2.4zM96.45 397.30h2.4v2.4h-2.4z"/><path fill="#4ac16d" d="M145.65 356.30h2.4v2.4h-2.4zM145.65 358.35h2.4v2.4h-2.4zM88.25 360.40h2.4v2.4h-2.4zM164.10 360.40h2.4v2.4h-2.4zM96.45 362.45h2.4v2.4h-2.4zM86.20 364.50h2.4v2.4h-2.4zM92.35 364.50h2.4v2.4h-2.4zM86.20 366.55h2.4v2.4h-2.4zM82.10 368.60h2.4v2.4h-2.4zM86.20 368.60h2.4v2.4h-2.4zM90.30 368.60h2.4v2.4h-2.4zM92.35 368.60h2.4v2.4h-2.4zM94.40 368.60h2.4v2.4h-2.4zM90.30 370.65h2.4v2.4h-2.4zM92.35 370.65h2.4v2.4h-2.4zM94.40 370.65h2.4v2.4h-2.4zM82.10 376.80h2.4v2.4h-2.4zM78.00 378.85h2.4v2.4h-2.4zM149.75 385.00h2.4v2.4h-2.4z"/><path fill="#a0da39" d="M84.15 360.40h2.4v2.4h-2.4zM92.35 362.45h2.4v2.4h-2.4zM90.30 364.50h2.4v2.4h-2.4zM94.40 364.50h2.4v2.4h-2.4zM96.45 364.50h2.4v2.4h-2.4zM102.60 364.50h2.4v2.4h-2.4zM88.25 366.55h2.4v2.4h-2.4zM84.15 368.60h2.4v2.4h-2.4zM86.20 370.65h2.4v2.4h-2.4zM92.35 372.70h2.4v2.4h-2.4z"/><path fill="#fde725" d="M90.30 366.55h2.4v2.4h-2.4zM92.35 366.55h2.4v2.4h-2.4zM94.40 372.70h2.4v2.4h-2.4z"/></g></g>
<polygon points="41.7,354.6 43.3,333.9 45.6,324.5 51.8,313.6 61.2,302.7 70.6,294.1 80.0,289.4 92.4,287.9 103.3,289.0 112.7,291.4 118.9,294.9 123.6,298.0 130.0,297.7 135.6,296.4 166.8,295.2 198.0,295.7 204.2,296.8 207.4,299.6 208.9,305.8 209.7,321.4 209.7,344.6 208.3,354.6 207.4,370.2 207.4,382.6 208.6,393.6 212.5,409.2 217.2,424.8 222.5,439.2 226.9,453.8 228.3,468.4 227.6,480.1 226.1,481.8 221.8,481.8 210.0,481.2 198.4,478.6 188.2,472.8 179.4,466.2 175.0,463.7 172.8,463.7 169.2,460.4 161.9,453.1 154.6,447.2 147.3,442.1 140.0,440.1 133.3,439.2 122.4,439.2 114.6,441.1 106.8,445.0 100.6,449.7 95.9,452.0 95.1,443.5 92.8,445.0 85.0,445.8 80.3,444.2 79.5,441.1 83.4,437.2 91.2,432.5 92.8,429.4 88.1,425.5 79.9,421.7 70.6,417.0 61.2,412.3 56.2,410.8 55.7,401.4 54.2,398.3 49.5,390.5 46.4,382.6 43.3,376.4 40.6,373.4 38.6,372.8 38.6,371.8 40.6,369.6 40.9,362.6" fill="none" stroke="#000" stroke-width="0.9" stroke-linejoin="round"/>
<line x1="113.50" y1="273.00" x2="113.50" y2="372.50" stroke="#000" stroke-width="0.5" stroke-opacity="0.55"/>
<line x1="28.30" y1="372.50" x2="113.50" y2="372.50" stroke="#000" stroke-width="0.5" stroke-opacity="0.55"/>
<polyline points="28.4,423.6 30.6,424.4 32.2,426.3 34.4,427.1 36.0,428.4 38.1,428.9 39.8,430.2 41.1,431.8 42.4,433.3 43.7,434.9 44.1,437.3 44.4,439.6 45.3,441.9 47.0,443.7 48.4,445.7 49.2,448.1 49.6,451.0 50.7,453.6 51.0,456.2 50.9,458.8 51.5,461.4 53.0,463.1 53.5,465.2 54.2,467.3 55.4,469.1 57.0,470.9 57.7,473.3 59.1,475.2 60.8,476.9 62.9,477.2 64.7,478.0 66.3,479.3 68.2,481.3 70.2,483.2 71.4,485.0 73.4,485.9 75.1,487.2 76.4,488.9" fill="none" stroke="#000" stroke-opacity="0.6" stroke-width="0.45"/>
<polyline points="119.3,488.9 120.4,486.6 120.5,484.1 121.9,482.3 122.4,480.1 122.7,478.0 123.5,476.0 125.1,474.4 125.5,472.3 127.3,470.5 128.6,468.4 130.7,468.3 132.8,467.6 134.9,467.6 137.0,466.6 139.1,465.4 141.1,464.2 143.2,465.2 145.5,465.6 147.4,466.9 149.5,467.1 151.5,467.2 153.6,467.6 155.8,467.6 157.9,467.7 160.0,466.9 162.4,467.9 165.0,467.8 167.9,467.8 170.7,467.6 172.9,467.9 175.0,468.4 176.7,469.7 178.0,471.3 179.6,473.2 180.1,475.6 182.4,477.0 183.8,479.3 185.8,480.7 187.8,482.1 189.6,483.7 191.4,485.3 192.7,487.5 194.7,488.9" fill="none" stroke="#000" stroke-opacity="0.6" stroke-width="0.45"/>
<text x="50.10" y="301.80" font-size="8.0" text-anchor="middle" textLength="12.24" lengthAdjust="spacingAndGlyphs" fill="#1c1c1c">NM</text>
<text x="93.10" y="467.90" font-size="8.0" text-anchor="middle" textLength="9.85" lengthAdjust="spacingAndGlyphs" fill="#1c1c1c">TX</text>
<rect x="28.30" y="273.00" width="212.70" height="215.90" fill="none" stroke="#6e6e6e" stroke-width="0.9"/>
<line x1="39.40" y1="488.90" x2="39.40" y2="491.50" stroke="#6e6e6e" stroke-width="0.8"/>
<text x="39.40" y="499.70" font-size="8.5" text-anchor="middle" textLength="22.66" lengthAdjust="spacingAndGlyphs" fill="#1c1c1c">−105</text>
<line x1="77.36" y1="488.90" x2="77.36" y2="491.50" stroke="#6e6e6e" stroke-width="0.8"/>
<text x="77.36" y="499.70" font-size="8.5" text-anchor="middle" textLength="22.66" lengthAdjust="spacingAndGlyphs" fill="#1c1c1c">−104</text>
<line x1="115.32" y1="488.90" x2="115.32" y2="491.50" stroke="#6e6e6e" stroke-width="0.8"/>
<text x="115.32" y="499.70" font-size="8.5" text-anchor="middle" textLength="22.66" lengthAdjust="spacingAndGlyphs" fill="#1c1c1c">−103</text>
<line x1="153.28" y1="488.90" x2="153.28" y2="491.50" stroke="#6e6e6e" stroke-width="0.8"/>
<text x="153.28" y="499.70" font-size="8.5" text-anchor="middle" textLength="22.66" lengthAdjust="spacingAndGlyphs" fill="#1c1c1c">−102</text>
<line x1="191.24" y1="488.90" x2="191.24" y2="491.50" stroke="#6e6e6e" stroke-width="0.8"/>
<text x="191.24" y="499.70" font-size="8.5" text-anchor="middle" textLength="22.66" lengthAdjust="spacingAndGlyphs" fill="#1c1c1c">−101</text>
<line x1="229.20" y1="488.90" x2="229.20" y2="491.50" stroke="#6e6e6e" stroke-width="0.8"/>
<text x="229.20" y="499.70" font-size="8.5" text-anchor="middle" textLength="22.66" lengthAdjust="spacingAndGlyphs" fill="#1c1c1c">−100</text>
<line x1="25.70" y1="286.00" x2="28.30" y2="286.00" stroke="#6e6e6e" stroke-width="0.8"/>
<text x="23.50" y="289.30" font-size="8.5" text-anchor="end" textLength="10.50" lengthAdjust="spacingAndGlyphs" fill="#1c1c1c">34</text>
<line x1="25.70" y1="329.20" x2="28.30" y2="329.20" stroke="#6e6e6e" stroke-width="0.8"/>
<text x="23.50" y="332.50" font-size="8.5" text-anchor="end" textLength="10.50" lengthAdjust="spacingAndGlyphs" fill="#1c1c1c">33</text>
<line x1="25.70" y1="372.40" x2="28.30" y2="372.40" stroke="#6e6e6e" stroke-width="0.8"/>
<text x="23.50" y="375.70" font-size="8.5" text-anchor="end" textLength="10.50" lengthAdjust="spacingAndGlyphs" fill="#1c1c1c">32</text>
<line x1="25.70" y1="415.60" x2="28.30" y2="415.60" stroke="#6e6e6e" stroke-width="0.8"/>
<text x="23.50" y="418.90" font-size="8.5" text-anchor="end" textLength="10.50" lengthAdjust="spacingAndGlyphs" fill="#1c1c1c">31</text>
<line x1="25.70" y1="458.80" x2="28.30" y2="458.80" stroke="#6e6e6e" stroke-width="0.8"/>
<text x="23.50" y="462.10" font-size="8.5" text-anchor="end" textLength="10.50" lengthAdjust="spacingAndGlyphs" fill="#1c1c1c">30</text>
<polygon points="443.0,31.3 446.2,30.2 452.4,28.6 463.3,28.1 468.0,26.6 475.0,24.2 480.0,25.8 483.6,28.1 486.2,30.5 490.0,33.6 492.5,36.7 495.6,41.4 498.7,50.8 506.5,58.6 517.4,67.9 531.5,76.5 544.0,85.1 551.8,90.0 554.9,94.7 558.0,104.0 561.1,110.3 562.7,113.4 560.3,125.9 558.0,143.0 554.2,150.0 551.1,157.8 546.4,170.3 541.8,182.8 537.1,192.1 529.3,196.8 519.9,203.8 516.8,203.8 499.6,203.0 488.7,206.2 486.0,207.1 479.4,209.6 472.8,213.7 466.5,214.6 466.2,217.9 461.2,221.2 452.9,224.5 444.6,227.0 436.4,227.8 431.4,225.3 428.1,221.2 424.8,209.6 421.5,199.7 416.5,188.1 411.5,178.1 407.2,170.0 404.8,161.8 403.7,152.4 402.5,148.0 401.8,146.2 402.5,145.0 404.0,144.6 404.8,136.8 405.6,125.9 406.4,116.5 407.9,105.6 410.3,97.8 416.5,85.1 424.3,69.5 430.6,63.2 436.8,55.4 439.9,46.1" fill="#450257"/>
<polygon points="443.0,31.3 446.2,30.2 452.4,28.6 463.3,28.1 468.0,26.6 475.0,24.2 480.0,25.8 483.6,28.1 486.2,30.5 490.0,33.6 492.5,36.7 495.6,41.4 498.7,50.8 506.5,58.6 517.4,67.9 531.5,76.5 544.0,85.1 551.8,90.0 554.9,94.7 558.0,104.0 561.1,110.3 562.7,113.4 560.3,125.9 558.0,143.0 554.2,150.0 551.1,157.8 546.4,170.3 541.8,182.8 537.1,192.1 529.3,196.8 519.9,203.8 516.8,203.8 499.6,203.0 488.7,206.2 486.0,207.1 479.4,209.6 472.8,213.7 466.5,214.6 466.2,217.9 461.2,221.2 452.9,224.5 444.6,227.0 436.4,227.8 431.4,225.3 428.1,221.2 424.8,209.6 421.5,199.7 416.5,188.1 411.5,178.1 407.2,170.0 404.8,161.8 403.7,152.4 402.5,148.0 401.8,146.2 402.5,145.0 404.0,144.6 404.8,136.8 405.6,125.9 406.4,116.5 407.9,105.6 410.3,97.8 416.5,85.1 424.3,69.5 430.6,63.2 436.8,55.4 439.9,46.1" fill="url(#tex)"/>
<g clip-path="url(#clipb)"><g filter="url(#soft)"><path fill="#46327e" d="M543.50 26.10h2.4v2.4h-2.4zM561.95 26.10h2.4v2.4h-2.4zM514.80 28.15h2.4v2.4h-2.4zM426.65 32.25h2.4v2.4h-2.4zM438.95 36.35h2.4v2.4h-2.4zM533.25 36.35h2.4v2.4h-2.4zM469.70 44.55h2.4v2.4h-2.4zM469.70 54.80h2.4v2.4h-2.4zM486.10 54.80h2.4v2.4h-2.4zM496.35 56.85h2.4v2.4h-2.4zM559.90 63.00h2.4v2.4h-2.4zM412.30 65.05h2.4v2.4h-2.4zM447.15 65.05h2.4v2.4h-2.4zM400.00 67.10h2.4v2.4h-2.4zM451.25 69.15h2.4v2.4h-2.4zM564.00 71.20h2.4v2.4h-2.4zM414.35 89.65h2.4v2.4h-2.4zM473.80 93.75h2.4v2.4h-2.4zM490.20 93.75h2.4v2.4h-2.4zM492.25 93.75h2.4v2.4h-2.4zM482.00 95.80h2.4v2.4h-2.4zM459.45 97.85h2.4v2.4h-2.4zM465.60 97.85h2.4v2.4h-2.4zM475.85 97.85h2.4v2.4h-2.4zM467.65 99.90h2.4v2.4h-2.4zM477.90 99.90h2.4v2.4h-2.4zM400.00 101.95h2.4v2.4h-2.4zM426.65 101.95h2.4v2.4h-2.4zM432.80 101.95h2.4v2.4h-2.4zM459.45 101.95h2.4v2.4h-2.4zM426.65 104.00h2.4v2.4h-2.4zM455.35 104.00h2.4v2.4h-2.4zM459.45 104.00h2.4v2.4h-2.4zM523.00 104.00h2.4v2.4h-2.4zM537.35 104.00h2.4v2.4h-2.4zM549.65 104.00h2.4v2.4h-2.4zM449.20 106.05h2.4v2.4h-2.4zM457.40 106.05h2.4v2.4h-2.4zM479.95 106.05h2.4v2.4h-2.4zM529.15 106.05h2.4v2.4h-2.4zM547.60 106.05h2.4v2.4h-2.4zM436.90 108.10h2.4v2.4h-2.4zM441.00 108.10h2.4v2.4h-2.4zM482.00 108.10h2.4v2.4h-2.4zM416.40 110.15h2.4v2.4h-2.4zM422.55 110.15h2.4v2.4h-2.4zM426.65 110.15h2.4v2.4h-2.4zM438.95 110.15h2.4v2.4h-2.4zM459.45 110.15h2.4v2.4h-2.4zM486.10 110.15h2.4v2.4h-2.4zM539.40 110.15h2.4v2.4h-2.4zM547.60 110.15h2.4v2.4h-2.4zM408.20 112.20h2.4v2.4h-2.4zM420.50 112.20h2.4v2.4h-2.4zM436.90 112.20h2.4v2.4h-2.4zM438.95 112.20h2.4v2.4h-2.4zM453.30 112.20h2.4v2.4h-2.4zM455.35 112.20h2.4v2.4h-2.4zM549.65 112.20h2.4v2.4h-2.4zM551.70 112.20h2.4v2.4h-2.4zM424.60 114.25h2.4v2.4h-2.4zM428.70 114.25h2.4v2.4h-2.4zM430.75 114.25h2.4v2.4h-2.4zM436.90 114.25h2.4v2.4h-2.4zM508.65 114.25h2.4v2.4h-2.4zM551.70 114.25h2.4v2.4h-2.4zM420.50 116.30h2.4v2.4h-2.4zM434.85 116.30h2.4v2.4h-2.4zM438.95 116.30h2.4v2.4h-2.4zM461.50 116.30h2.4v2.4h-2.4zM465.60 116.30h2.4v2.4h-2.4zM406.15 118.35h2.4v2.4h-2.4zM428.70 118.35h2.4v2.4h-2.4zM436.90 118.35h2.4v2.4h-2.4zM441.00 118.35h2.4v2.4h-2.4zM445.10 118.35h2.4v2.4h-2.4zM459.45 118.35h2.4v2.4h-2.4zM461.50 118.35h2.4v2.4h-2.4zM484.05 118.35h2.4v2.4h-2.4zM537.35 118.35h2.4v2.4h-2.4zM422.55 120.40h2.4v2.4h-2.4zM432.80 120.40h2.4v2.4h-2.4zM434.85 120.40h2.4v2.4h-2.4zM436.90 120.40h2.4v2.4h-2.4zM441.00 120.40h2.4v2.4h-2.4zM443.05 120.40h2.4v2.4h-2.4zM457.40 120.40h2.4v2.4h-2.4zM473.80 120.40h2.4v2.4h-2.4zM539.40 120.40h2.4v2.4h-2.4zM416.40 122.45h2.4v2.4h-2.4zM428.70 122.45h2.4v2.4h-2.4zM432.80 122.45h2.4v2.4h-2.4zM436.90 122.45h2.4v2.4h-2.4zM443.05 122.45h2.4v2.4h-2.4zM445.10 122.45h2.4v2.4h-2.4zM447.15 122.45h2.4v2.4h-2.4zM449.20 122.45h2.4v2.4h-2.4zM453.30 122.45h2.4v2.4h-2.4zM459.45 122.45h2.4v2.4h-2.4zM461.50 122.45h2.4v2.4h-2.4zM463.55 122.45h2.4v2.4h-2.4zM527.10 122.45h2.4v2.4h-2.4zM533.25 122.45h2.4v2.4h-2.4zM543.50 122.45h2.4v2.4h-2.4zM553.75 122.45h2.4v2.4h-2.4zM447.15 124.50h2.4v2.4h-2.4zM451.25 124.50h2.4v2.4h-2.4zM477.90 124.50h2.4v2.4h-2.4zM525.05 124.50h2.4v2.4h-2.4zM533.25 124.50h2.4v2.4h-2.4zM449.20 126.55h2.4v2.4h-2.4zM457.40 126.55h2.4v2.4h-2.4zM461.50 126.55h2.4v2.4h-2.4zM465.60 126.55h2.4v2.4h-2.4zM467.65 126.55h2.4v2.4h-2.4zM471.75 126.55h2.4v2.4h-2.4zM527.10 126.55h2.4v2.4h-2.4zM543.50 126.55h2.4v2.4h-2.4zM420.50 128.60h2.4v2.4h-2.4zM422.55 128.60h2.4v2.4h-2.4zM436.90 128.60h2.4v2.4h-2.4zM445.10 128.60h2.4v2.4h-2.4zM449.20 128.60h2.4v2.4h-2.4zM451.25 128.60h2.4v2.4h-2.4zM459.45 128.60h2.4v2.4h-2.4zM535.30 128.60h2.4v2.4h-2.4zM420.50 130.65h2.4v2.4h-2.4zM424.60 130.65h2.4v2.4h-2.4zM441.00 130.65h2.4v2.4h-2.4zM443.05 130.65h2.4v2.4h-2.4zM447.15 130.65h2.4v2.4h-2.4zM451.25 130.65h2.4v2.4h-2.4zM459.45 130.65h2.4v2.4h-2.4zM512.75 130.65h2.4v2.4h-2.4zM527.10 130.65h2.4v2.4h-2.4zM418.45 132.70h2.4v2.4h-2.4zM434.85 132.70h2.4v2.4h-2.4zM436.90 132.70h2.4v2.4h-2.4zM451.25 132.70h2.4v2.4h-2.4zM453.30 132.70h2.4v2.4h-2.4zM455.35 132.70h2.4v2.4h-2.4zM471.75 132.70h2.4v2.4h-2.4zM520.95 132.70h2.4v2.4h-2.4zM539.40 132.70h2.4v2.4h-2.4zM410.25 134.75h2.4v2.4h-2.4zM438.95 134.75h2.4v2.4h-2.4zM453.30 134.75h2.4v2.4h-2.4zM455.35 134.75h2.4v2.4h-2.4zM498.40 134.75h2.4v2.4h-2.4zM504.55 134.75h2.4v2.4h-2.4zM506.60 134.75h2.4v2.4h-2.4zM508.65 134.75h2.4v2.4h-2.4zM414.35 136.80h2.4v2.4h-2.4zM445.10 136.80h2.4v2.4h-2.4zM453.30 136.80h2.4v2.4h-2.4zM455.35 136.80h2.4v2.4h-2.4zM510.70 136.80h2.4v2.4h-2.4zM535.30 136.80h2.4v2.4h-2.4zM541.45 136.80h2.4v2.4h-2.4zM410.25 138.85h2.4v2.4h-2.4zM441.00 138.85h2.4v2.4h-2.4zM443.05 138.85h2.4v2.4h-2.4zM451.25 138.85h2.4v2.4h-2.4zM453.30 138.85h2.4v2.4h-2.4zM482.00 138.85h2.4v2.4h-2.4zM508.65 138.85h2.4v2.4h-2.4zM535.30 138.85h2.4v2.4h-2.4zM408.20 140.90h2.4v2.4h-2.4zM441.00 140.90h2.4v2.4h-2.4zM443.05 140.90h2.4v2.4h-2.4zM451.25 140.90h2.4v2.4h-2.4zM453.30 140.90h2.4v2.4h-2.4zM498.40 140.90h2.4v2.4h-2.4zM500.45 140.90h2.4v2.4h-2.4zM518.90 140.90h2.4v2.4h-2.4zM525.05 140.90h2.4v2.4h-2.4zM529.15 140.90h2.4v2.4h-2.4zM535.30 140.90h2.4v2.4h-2.4zM500.45 142.95h2.4v2.4h-2.4zM518.90 142.95h2.4v2.4h-2.4zM520.95 142.95h2.4v2.4h-2.4zM529.15 142.95h2.4v2.4h-2.4zM531.20 142.95h2.4v2.4h-2.4zM535.30 142.95h2.4v2.4h-2.4zM539.40 142.95h2.4v2.4h-2.4zM543.50 142.95h2.4v2.4h-2.4zM547.60 142.95h2.4v2.4h-2.4zM410.25 145.00h2.4v2.4h-2.4zM438.95 145.00h2.4v2.4h-2.4zM453.30 145.00h2.4v2.4h-2.4zM502.50 145.00h2.4v2.4h-2.4zM531.20 145.00h2.4v2.4h-2.4zM537.35 145.00h2.4v2.4h-2.4zM539.40 145.00h2.4v2.4h-2.4zM549.65 145.00h2.4v2.4h-2.4zM408.20 147.05h2.4v2.4h-2.4zM436.90 147.05h2.4v2.4h-2.4zM496.35 147.05h2.4v2.4h-2.4zM498.40 147.05h2.4v2.4h-2.4zM500.45 147.05h2.4v2.4h-2.4zM502.50 147.05h2.4v2.4h-2.4zM525.05 147.05h2.4v2.4h-2.4zM531.20 147.05h2.4v2.4h-2.4zM408.20 149.10h2.4v2.4h-2.4zM434.85 149.10h2.4v2.4h-2.4zM438.95 149.10h2.4v2.4h-2.4zM488.15 149.10h2.4v2.4h-2.4zM500.45 149.10h2.4v2.4h-2.4zM506.60 149.10h2.4v2.4h-2.4zM408.20 151.15h2.4v2.4h-2.4zM410.25 151.15h2.4v2.4h-2.4zM432.80 151.15h2.4v2.4h-2.4zM436.90 151.15h2.4v2.4h-2.4zM451.25 151.15h2.4v2.4h-2.4zM453.30 151.15h2.4v2.4h-2.4zM471.75 151.15h2.4v2.4h-2.4zM531.20 151.15h2.4v2.4h-2.4zM535.30 151.15h2.4v2.4h-2.4zM539.40 151.15h2.4v2.4h-2.4zM408.20 153.20h2.4v2.4h-2.4zM428.70 153.20h2.4v2.4h-2.4zM432.80 153.20h2.4v2.4h-2.4zM459.45 153.20h2.4v2.4h-2.4zM465.60 153.20h2.4v2.4h-2.4zM498.40 153.20h2.4v2.4h-2.4zM504.55 153.20h2.4v2.4h-2.4zM541.45 153.20h2.4v2.4h-2.4zM543.50 153.20h2.4v2.4h-2.4zM410.25 155.25h2.4v2.4h-2.4zM412.30 155.25h2.4v2.4h-2.4zM432.80 155.25h2.4v2.4h-2.4zM436.90 155.25h2.4v2.4h-2.4zM463.55 155.25h2.4v2.4h-2.4zM473.80 155.25h2.4v2.4h-2.4zM498.40 155.25h2.4v2.4h-2.4zM504.55 155.25h2.4v2.4h-2.4zM541.45 155.25h2.4v2.4h-2.4zM408.20 157.30h2.4v2.4h-2.4zM414.35 157.30h2.4v2.4h-2.4zM416.40 157.30h2.4v2.4h-2.4zM422.55 157.30h2.4v2.4h-2.4zM430.75 157.30h2.4v2.4h-2.4zM432.80 157.30h2.4v2.4h-2.4zM434.85 157.30h2.4v2.4h-2.4zM463.55 157.30h2.4v2.4h-2.4zM469.70 157.30h2.4v2.4h-2.4zM482.00 157.30h2.4v2.4h-2.4zM494.30 157.30h2.4v2.4h-2.4zM498.40 157.30h2.4v2.4h-2.4zM533.25 157.30h2.4v2.4h-2.4zM541.45 157.30h2.4v2.4h-2.4zM543.50 157.30h2.4v2.4h-2.4zM416.40 159.35h2.4v2.4h-2.4zM428.70 159.35h2.4v2.4h-2.4zM430.75 159.35h2.4v2.4h-2.4zM434.85 159.35h2.4v2.4h-2.4zM441.00 159.35h2.4v2.4h-2.4zM465.60 159.35h2.4v2.4h-2.4zM467.65 159.35h2.4v2.4h-2.4zM506.60 159.35h2.4v2.4h-2.4zM527.10 159.35h2.4v2.4h-2.4zM412.30 161.40h2.4v2.4h-2.4zM428.70 161.40h2.4v2.4h-2.4zM430.75 161.40h2.4v2.4h-2.4zM432.80 161.40h2.4v2.4h-2.4zM457.40 161.40h2.4v2.4h-2.4zM473.80 161.40h2.4v2.4h-2.4zM512.75 161.40h2.4v2.4h-2.4zM426.65 163.45h2.4v2.4h-2.4zM428.70 163.45h2.4v2.4h-2.4zM432.80 163.45h2.4v2.4h-2.4zM463.55 163.45h2.4v2.4h-2.4zM473.80 163.45h2.4v2.4h-2.4zM477.90 163.45h2.4v2.4h-2.4zM479.95 163.45h2.4v2.4h-2.4zM504.55 163.45h2.4v2.4h-2.4zM406.15 165.50h2.4v2.4h-2.4zM422.55 165.50h2.4v2.4h-2.4zM426.65 165.50h2.4v2.4h-2.4zM428.70 165.50h2.4v2.4h-2.4zM430.75 165.50h2.4v2.4h-2.4zM441.00 165.50h2.4v2.4h-2.4zM471.75 165.50h2.4v2.4h-2.4zM479.95 165.50h2.4v2.4h-2.4zM482.00 165.50h2.4v2.4h-2.4zM504.55 165.50h2.4v2.4h-2.4zM514.80 165.50h2.4v2.4h-2.4zM424.60 167.55h2.4v2.4h-2.4zM426.65 167.55h2.4v2.4h-2.4zM428.70 167.55h2.4v2.4h-2.4zM432.80 167.55h2.4v2.4h-2.4zM453.30 167.55h2.4v2.4h-2.4zM473.80 167.55h2.4v2.4h-2.4zM508.65 167.55h2.4v2.4h-2.4zM514.80 167.55h2.4v2.4h-2.4zM516.85 167.55h2.4v2.4h-2.4zM426.65 169.60h2.4v2.4h-2.4zM430.75 169.60h2.4v2.4h-2.4zM432.80 169.60h2.4v2.4h-2.4zM434.85 169.60h2.4v2.4h-2.4zM502.50 169.60h2.4v2.4h-2.4zM512.75 169.60h2.4v2.4h-2.4zM557.85 169.60h2.4v2.4h-2.4zM432.80 171.65h2.4v2.4h-2.4zM426.65 173.70h2.4v2.4h-2.4zM430.75 173.70h2.4v2.4h-2.4zM438.95 175.75h2.4v2.4h-2.4zM428.70 177.80h2.4v2.4h-2.4zM484.05 177.80h2.4v2.4h-2.4zM426.65 179.85h2.4v2.4h-2.4zM434.85 181.90h2.4v2.4h-2.4zM506.60 181.90h2.4v2.4h-2.4zM463.55 183.95h2.4v2.4h-2.4zM541.45 183.95h2.4v2.4h-2.4zM564.00 183.95h2.4v2.4h-2.4zM459.45 186.00h2.4v2.4h-2.4zM459.45 190.10h2.4v2.4h-2.4zM547.60 194.20h2.4v2.4h-2.4zM434.85 196.25h2.4v2.4h-2.4zM504.55 196.25h2.4v2.4h-2.4zM502.50 198.30h2.4v2.4h-2.4zM467.65 202.40h2.4v2.4h-2.4zM506.60 202.40h2.4v2.4h-2.4zM510.70 202.40h2.4v2.4h-2.4zM508.65 204.45h2.4v2.4h-2.4zM510.70 204.45h2.4v2.4h-2.4zM510.70 216.75h2.4v2.4h-2.4zM525.05 222.90h2.4v2.4h-2.4zM418.45 229.05h2.4v2.4h-2.4z"/><path fill="#365c8d" d="M445.10 26.10h2.4v2.4h-2.4zM479.95 34.30h2.4v2.4h-2.4zM475.85 48.65h2.4v2.4h-2.4zM443.05 56.85h2.4v2.4h-2.4zM557.85 73.25h2.4v2.4h-2.4zM475.85 81.45h2.4v2.4h-2.4zM445.10 83.50h2.4v2.4h-2.4zM543.50 83.50h2.4v2.4h-2.4zM463.55 93.75h2.4v2.4h-2.4zM555.80 93.75h2.4v2.4h-2.4zM461.50 95.80h2.4v2.4h-2.4zM479.95 97.85h2.4v2.4h-2.4zM469.70 101.95h2.4v2.4h-2.4zM424.60 104.00h2.4v2.4h-2.4zM457.40 104.00h2.4v2.4h-2.4zM426.65 116.30h2.4v2.4h-2.4zM455.35 116.30h2.4v2.4h-2.4zM424.60 118.35h2.4v2.4h-2.4zM430.75 120.40h2.4v2.4h-2.4zM445.10 120.40h2.4v2.4h-2.4zM447.15 120.40h2.4v2.4h-2.4zM475.85 120.40h2.4v2.4h-2.4zM430.75 122.45h2.4v2.4h-2.4zM438.95 122.45h2.4v2.4h-2.4zM457.40 122.45h2.4v2.4h-2.4zM477.90 122.45h2.4v2.4h-2.4zM535.30 124.50h2.4v2.4h-2.4zM549.65 124.50h2.4v2.4h-2.4zM451.25 126.55h2.4v2.4h-2.4zM523.00 126.55h2.4v2.4h-2.4zM447.15 128.60h2.4v2.4h-2.4zM453.30 128.60h2.4v2.4h-2.4zM457.40 128.60h2.4v2.4h-2.4zM467.65 128.60h2.4v2.4h-2.4zM514.80 128.60h2.4v2.4h-2.4zM564.00 128.60h2.4v2.4h-2.4zM422.55 130.65h2.4v2.4h-2.4zM426.65 130.65h2.4v2.4h-2.4zM428.70 130.65h2.4v2.4h-2.4zM438.95 130.65h2.4v2.4h-2.4zM463.55 130.65h2.4v2.4h-2.4zM416.40 132.70h2.4v2.4h-2.4zM422.55 132.70h2.4v2.4h-2.4zM426.65 132.70h2.4v2.4h-2.4zM432.80 132.70h2.4v2.4h-2.4zM496.35 132.70h2.4v2.4h-2.4zM416.40 134.75h2.4v2.4h-2.4zM434.85 134.75h2.4v2.4h-2.4zM539.40 134.75h2.4v2.4h-2.4zM412.30 136.80h2.4v2.4h-2.4zM416.40 136.80h2.4v2.4h-2.4zM436.90 136.80h2.4v2.4h-2.4zM441.00 136.80h2.4v2.4h-2.4zM502.50 136.80h2.4v2.4h-2.4zM533.25 136.80h2.4v2.4h-2.4zM412.30 138.85h2.4v2.4h-2.4zM414.35 138.85h2.4v2.4h-2.4zM438.95 138.85h2.4v2.4h-2.4zM496.35 138.85h2.4v2.4h-2.4zM539.40 138.85h2.4v2.4h-2.4zM412.30 140.90h2.4v2.4h-2.4zM414.35 140.90h2.4v2.4h-2.4zM438.95 140.90h2.4v2.4h-2.4zM537.35 140.90h2.4v2.4h-2.4zM412.30 142.95h2.4v2.4h-2.4zM414.35 142.95h2.4v2.4h-2.4zM438.95 142.95h2.4v2.4h-2.4zM441.00 142.95h2.4v2.4h-2.4zM408.20 145.00h2.4v2.4h-2.4zM432.80 145.00h2.4v2.4h-2.4zM436.90 145.00h2.4v2.4h-2.4zM441.00 145.00h2.4v2.4h-2.4zM543.50 145.00h2.4v2.4h-2.4zM551.70 145.00h2.4v2.4h-2.4zM410.25 147.05h2.4v2.4h-2.4zM412.30 147.05h2.4v2.4h-2.4zM434.85 147.05h2.4v2.4h-2.4zM535.30 147.05h2.4v2.4h-2.4zM432.80 149.10h2.4v2.4h-2.4zM539.40 149.10h2.4v2.4h-2.4zM545.55 149.10h2.4v2.4h-2.4zM410.25 153.20h2.4v2.4h-2.4zM412.30 153.20h2.4v2.4h-2.4zM418.45 153.20h2.4v2.4h-2.4zM424.60 153.20h2.4v2.4h-2.4zM430.75 153.20h2.4v2.4h-2.4zM434.85 153.20h2.4v2.4h-2.4zM463.55 153.20h2.4v2.4h-2.4zM475.85 153.20h2.4v2.4h-2.4zM512.75 153.20h2.4v2.4h-2.4zM514.80 153.20h2.4v2.4h-2.4zM408.20 155.25h2.4v2.4h-2.4zM414.35 155.25h2.4v2.4h-2.4zM426.65 155.25h2.4v2.4h-2.4zM428.70 155.25h2.4v2.4h-2.4zM430.75 155.25h2.4v2.4h-2.4zM438.95 155.25h2.4v2.4h-2.4zM475.85 155.25h2.4v2.4h-2.4zM500.45 155.25h2.4v2.4h-2.4zM426.65 157.30h2.4v2.4h-2.4zM428.70 157.30h2.4v2.4h-2.4zM422.55 159.35h2.4v2.4h-2.4zM424.60 159.35h2.4v2.4h-2.4zM426.65 159.35h2.4v2.4h-2.4zM432.80 159.35h2.4v2.4h-2.4zM438.95 159.35h2.4v2.4h-2.4zM469.70 159.35h2.4v2.4h-2.4zM473.80 159.35h2.4v2.4h-2.4zM508.65 159.35h2.4v2.4h-2.4zM420.50 161.40h2.4v2.4h-2.4zM426.65 161.40h2.4v2.4h-2.4zM434.85 161.40h2.4v2.4h-2.4zM508.65 161.40h2.4v2.4h-2.4zM422.55 163.45h2.4v2.4h-2.4zM430.75 163.45h2.4v2.4h-2.4zM434.85 163.45h2.4v2.4h-2.4zM459.45 163.45h2.4v2.4h-2.4zM434.85 165.50h2.4v2.4h-2.4zM506.60 165.50h2.4v2.4h-2.4zM430.75 167.55h2.4v2.4h-2.4zM428.70 169.60h2.4v2.4h-2.4zM504.55 169.60h2.4v2.4h-2.4zM424.60 171.65h2.4v2.4h-2.4zM426.65 171.65h2.4v2.4h-2.4zM467.65 175.75h2.4v2.4h-2.4zM457.40 190.10h2.4v2.4h-2.4zM400.00 194.20h2.4v2.4h-2.4zM430.75 194.20h2.4v2.4h-2.4zM514.80 204.45h2.4v2.4h-2.4zM564.00 210.60h2.4v2.4h-2.4zM457.40 224.95h2.4v2.4h-2.4zM422.50 101.80h2.4v2.4h-2.4zM428.65 101.80h2.4v2.4h-2.4zM430.70 103.85h2.4v2.4h-2.4zM422.50 105.90h2.4v2.4h-2.4zM424.55 107.95h2.4v2.4h-2.4zM428.65 107.95h2.4v2.4h-2.4zM426.60 110.00h2.4v2.4h-2.4zM428.60 114.30h2.4v2.4h-2.4z"/><path fill="#277f8e" d="M494.30 73.25h2.4v2.4h-2.4zM475.85 99.90h2.4v2.4h-2.4zM451.25 101.95h2.4v2.4h-2.4zM455.35 101.95h2.4v2.4h-2.4zM457.40 101.95h2.4v2.4h-2.4zM436.90 104.00h2.4v2.4h-2.4zM420.50 120.40h2.4v2.4h-2.4zM459.45 126.55h2.4v2.4h-2.4zM420.50 132.70h2.4v2.4h-2.4zM424.60 132.70h2.4v2.4h-2.4zM430.75 132.70h2.4v2.4h-2.4zM418.45 134.75h2.4v2.4h-2.4zM422.55 134.75h2.4v2.4h-2.4zM424.60 134.75h2.4v2.4h-2.4zM426.65 134.75h2.4v2.4h-2.4zM428.70 134.75h2.4v2.4h-2.4zM430.75 134.75h2.4v2.4h-2.4zM432.80 134.75h2.4v2.4h-2.4zM436.90 134.75h2.4v2.4h-2.4zM441.00 134.75h2.4v2.4h-2.4zM531.20 134.75h2.4v2.4h-2.4zM418.45 136.80h2.4v2.4h-2.4zM420.50 136.80h2.4v2.4h-2.4zM424.60 136.80h2.4v2.4h-2.4zM426.65 136.80h2.4v2.4h-2.4zM434.85 136.80h2.4v2.4h-2.4zM438.95 136.80h2.4v2.4h-2.4zM416.40 138.85h2.4v2.4h-2.4zM420.50 138.85h2.4v2.4h-2.4zM426.65 138.85h2.4v2.4h-2.4zM416.40 140.90h2.4v2.4h-2.4zM418.45 140.90h2.4v2.4h-2.4zM426.65 140.90h2.4v2.4h-2.4zM436.90 140.90h2.4v2.4h-2.4zM416.40 142.95h2.4v2.4h-2.4zM432.80 142.95h2.4v2.4h-2.4zM514.80 142.95h2.4v2.4h-2.4zM527.10 142.95h2.4v2.4h-2.4zM412.30 145.00h2.4v2.4h-2.4zM414.35 145.00h2.4v2.4h-2.4zM434.85 145.00h2.4v2.4h-2.4zM457.40 145.00h2.4v2.4h-2.4zM547.60 145.00h2.4v2.4h-2.4zM432.80 147.05h2.4v2.4h-2.4zM410.25 149.10h2.4v2.4h-2.4zM414.35 149.10h2.4v2.4h-2.4zM416.40 149.10h2.4v2.4h-2.4zM426.65 149.10h2.4v2.4h-2.4zM428.70 149.10h2.4v2.4h-2.4zM430.75 149.10h2.4v2.4h-2.4zM412.30 151.15h2.4v2.4h-2.4zM420.50 151.15h2.4v2.4h-2.4zM422.55 151.15h2.4v2.4h-2.4zM426.65 151.15h2.4v2.4h-2.4zM428.70 151.15h2.4v2.4h-2.4zM430.75 151.15h2.4v2.4h-2.4zM414.35 153.20h2.4v2.4h-2.4zM420.50 153.20h2.4v2.4h-2.4zM422.55 153.20h2.4v2.4h-2.4zM426.65 153.20h2.4v2.4h-2.4zM436.90 153.20h2.4v2.4h-2.4zM537.35 153.20h2.4v2.4h-2.4zM418.45 155.25h2.4v2.4h-2.4zM420.50 155.25h2.4v2.4h-2.4zM422.55 155.25h2.4v2.4h-2.4zM424.60 155.25h2.4v2.4h-2.4zM418.45 157.30h2.4v2.4h-2.4zM420.50 157.30h2.4v2.4h-2.4zM434.85 167.55h2.4v2.4h-2.4zM424.60 169.60h2.4v2.4h-2.4zM424.60 173.70h2.4v2.4h-2.4zM424.55 101.80h2.4v2.4h-2.4zM426.60 101.80h2.4v2.4h-2.4zM422.50 103.85h2.4v2.4h-2.4zM428.65 103.85h2.4v2.4h-2.4zM424.55 105.90h2.4v2.4h-2.4zM428.65 105.90h2.4v2.4h-2.4zM426.60 107.95h2.4v2.4h-2.4z"/><path fill="#1fa187" d="M428.70 132.70h2.4v2.4h-2.4zM420.50 134.75h2.4v2.4h-2.4zM422.55 136.80h2.4v2.4h-2.4zM428.70 136.80h2.4v2.4h-2.4zM432.80 136.80h2.4v2.4h-2.4zM418.45 138.85h2.4v2.4h-2.4zM422.55 138.85h2.4v2.4h-2.4zM424.60 138.85h2.4v2.4h-2.4zM428.70 138.85h2.4v2.4h-2.4zM430.75 138.85h2.4v2.4h-2.4zM434.85 138.85h2.4v2.4h-2.4zM436.90 138.85h2.4v2.4h-2.4zM420.50 140.90h2.4v2.4h-2.4zM418.45 142.95h2.4v2.4h-2.4zM420.50 142.95h2.4v2.4h-2.4zM430.75 142.95h2.4v2.4h-2.4zM434.85 142.95h2.4v2.4h-2.4zM436.90 142.95h2.4v2.4h-2.4zM420.50 145.00h2.4v2.4h-2.4zM426.65 145.00h2.4v2.4h-2.4zM430.75 145.00h2.4v2.4h-2.4zM428.70 147.05h2.4v2.4h-2.4zM430.75 147.05h2.4v2.4h-2.4zM412.30 149.10h2.4v2.4h-2.4zM418.45 149.10h2.4v2.4h-2.4zM420.50 149.10h2.4v2.4h-2.4zM414.35 151.15h2.4v2.4h-2.4zM424.60 151.15h2.4v2.4h-2.4zM416.40 155.25h2.4v2.4h-2.4zM424.55 103.85h2.4v2.4h-2.4zM426.60 103.85h2.4v2.4h-2.4zM426.60 105.90h2.4v2.4h-2.4z"/><path fill="#4ac16d" d="M430.75 136.80h2.4v2.4h-2.4zM432.80 138.85h2.4v2.4h-2.4zM424.60 140.90h2.4v2.4h-2.4zM430.75 140.90h2.4v2.4h-2.4zM432.80 140.90h2.4v2.4h-2.4zM434.85 140.90h2.4v2.4h-2.4zM422.55 142.95h2.4v2.4h-2.4zM424.60 142.95h2.4v2.4h-2.4zM422.55 145.00h2.4v2.4h-2.4zM428.70 145.00h2.4v2.4h-2.4zM414.35 147.05h2.4v2.4h-2.4zM416.40 147.05h2.4v2.4h-2.4zM418.45 147.05h2.4v2.4h-2.4zM420.50 147.05h2.4v2.4h-2.4zM422.55 147.05h2.4v2.4h-2.4zM424.60 147.05h2.4v2.4h-2.4zM422.55 149.10h2.4v2.4h-2.4zM424.60 149.10h2.4v2.4h-2.4zM416.40 151.15h2.4v2.4h-2.4zM416.40 153.20h2.4v2.4h-2.4zM426.60 112.20h2.4v2.4h-2.4z"/><path fill="#a0da39" d="M422.55 140.90h2.4v2.4h-2.4zM428.70 140.90h2.4v2.4h-2.4zM426.65 142.95h2.4v2.4h-2.4zM428.70 142.95h2.4v2.4h-2.4zM416.40 145.00h2.4v2.4h-2.4zM418.45 145.00h2.4v2.4h-2.4zM424.60 145.00h2.4v2.4h-2.4zM426.65 147.05h2.4v2.4h-2.4zM418.45 151.15h2.4v2.4h-2.4z"/></g></g>
<polygon points="443.0,31.3 446.2,30.2 452.4,28.6 463.3,28.1 468.0,26.6 475.0,24.2 480.0,25.8 483.6,28.1 486.2,30.5 490.0,33.6 492.5,36.7 495.6,41.4 498.7,50.8 506.5,58.6 517.4,67.9 531.5,76.5 544.0,85.1 551.8,90.0 554.9,94.7 558.0,104.0 561.1,110.3 562.7,113.4 560.3,125.9 558.0,143.0 554.2,150.0 551.1,157.8 546.4,170.3 541.8,182.8 537.1,192.1 529.3,196.8 519.9,203.8 516.8,203.8 499.6,203.0 488.7,206.2 486.0,207.1 479.4,209.6 472.8,213.7 466.5,214.6 466.2,217.9 461.2,221.2 452.9,224.5 444.6,227.0 436.4,227.8 431.4,225.3 428.1,221.2 424.8,209.6 421.5,199.7 416.5,188.1 411.5,178.1 407.2,170.0 404.8,161.8 403.7,152.4 402.5,148.0 401.8,146.2 402.5,145.0 404.0,144.6 404.8,136.8 405.6,125.9 406.4,116.5 407.9,105.6 410.3,97.8 416.5,85.1 424.3,69.5 430.6,63.2 436.8,55.4 439.9,46.1" fill="none" stroke="#000" stroke-width="0.9" stroke-linejoin="round"/>
<line x1="447.30" y1="18.30" x2="447.30" y2="116.50" stroke="#000" stroke-width="0.5" stroke-opacity="0.55"/>
<line x1="447.30" y1="38.40" x2="576.50" y2="38.40" stroke="#000" stroke-width="0.5" stroke-opacity="0.55"/>
<line x1="390.30" y1="116.50" x2="516.50" y2="116.50" stroke="#000" stroke-width="0.5" stroke-opacity="0.55"/>
<line x1="516.50" y1="116.50" x2="516.50" y2="234.40" stroke="#000" stroke-width="0.5" stroke-opacity="0.55"/>
<line x1="516.50" y1="155.80" x2="576.50" y2="155.80" stroke="#000" stroke-width="0.5" stroke-opacity="0.55"/>
<text x="413.40" y="66.20" font-size="8.0" text-anchor="middle" textLength="12.16" lengthAdjust="spacingAndGlyphs" fill="#1c1c1c">WY</text>
<text x="523.40" y="34.70" font-size="8.0" text-anchor="middle" textLength="10.68" lengthAdjust="spacingAndGlyphs" fill="#1c1c1c">SD</text>
<text x="535.80" y="66.20" font-size="8.0" text-anchor="middle" textLength="10.49" lengthAdjust="spacingAndGlyphs" fill="#1c1c1c">NE</text>
<text x="408.00" y="211.00" font-size="8.0" text-anchor="middle" textLength="11.29" lengthAdjust="spacingAndGlyphs" fill="#1c1c1c">CO</text>
<text x="550.80" y="211.50" font-size="8.0" text-anchor="middle" textLength="9.81" lengthAdjust="spacingAndGlyphs" fill="#1c1c1c">KS</text>
<rect x="390.30" y="18.30" width="186.20" height="216.10" fill="none" stroke="#6e6e6e" stroke-width="0.9"/>
<line x1="414.60" y1="234.40" x2="414.60" y2="237.00" stroke="#6e6e6e" stroke-width="0.8"/>
<text x="414.60" y="245.20" font-size="8.5" text-anchor="middle" textLength="22.66" lengthAdjust="spacingAndGlyphs" fill="#1c1c1c">−105</text>
<line x1="449.08" y1="234.40" x2="449.08" y2="237.00" stroke="#6e6e6e" stroke-width="0.8"/>
<text x="449.08" y="245.20" font-size="8.5" text-anchor="middle" textLength="22.66" lengthAdjust="spacingAndGlyphs" fill="#1c1c1c">−104</text>
<line x1="483.56" y1="234.40" x2="483.56" y2="237.00" stroke="#6e6e6e" stroke-width="0.8"/>
<text x="483.56" y="245.20" font-size="8.5" text-anchor="middle" textLength="22.66" lengthAdjust="spacingAndGlyphs" fill="#1c1c1c">−103</text>
<line x1="518.04" y1="234.40" x2="518.04" y2="237.00" stroke="#6e6e6e" stroke-width="0.8"/>
<text x="518.04" y="245.20" font-size="8.5" text-anchor="middle" textLength="22.66" lengthAdjust="spacingAndGlyphs" fill="#1c1c1c">−102</text>
<line x1="552.52" y1="234.40" x2="552.52" y2="237.00" stroke="#6e6e6e" stroke-width="0.8"/>
<text x="552.52" y="245.20" font-size="8.5" text-anchor="middle" textLength="22.66" lengthAdjust="spacingAndGlyphs" fill="#1c1c1c">−101</text>
<line x1="387.70" y1="38.50" x2="390.30" y2="38.50" stroke="#6e6e6e" stroke-width="0.8"/>
<text x="385.50" y="41.80" font-size="8.5" text-anchor="end" textLength="10.50" lengthAdjust="spacingAndGlyphs" fill="#1c1c1c">43</text>
<line x1="387.70" y1="77.68" x2="390.30" y2="77.68" stroke="#6e6e6e" stroke-width="0.8"/>
<text x="385.50" y="80.98" font-size="8.5" text-anchor="end" textLength="10.50" lengthAdjust="spacingAndGlyphs" fill="#1c1c1c">42</text>
<line x1="387.70" y1="116.86" x2="390.30" y2="116.86" stroke="#6e6e6e" stroke-width="0.8"/>
<text x="385.50" y="120.16" font-size="8.5" text-anchor="end" textLength="10.50" lengthAdjust="spacingAndGlyphs" fill="#1c1c1c">41</text>
<line x1="387.70" y1="156.04" x2="390.30" y2="156.04" stroke="#6e6e6e" stroke-width="0.8"/>
<text x="385.50" y="159.34" font-size="8.5" text-anchor="end" textLength="10.50" lengthAdjust="spacingAndGlyphs" fill="#1c1c1c">40</text>
<line x1="387.70" y1="195.22" x2="390.30" y2="195.22" stroke="#6e6e6e" stroke-width="0.8"/>
<text x="385.50" y="198.52" font-size="8.5" text-anchor="end" textLength="10.50" lengthAdjust="spacingAndGlyphs" fill="#1c1c1c">39</text>
<line x1="387.70" y1="234.40" x2="390.30" y2="234.40" stroke="#6e6e6e" stroke-width="0.8"/>
<text x="385.50" y="237.70" font-size="8.5" text-anchor="end" textLength="10.50" lengthAdjust="spacingAndGlyphs" fill="#1c1c1c">38</text>
<polygon points="442.2,281.6 445.4,280.5 451.6,278.9 462.5,278.4 467.2,276.9 474.2,274.5 479.2,276.1 482.8,278.4 485.4,280.8 489.2,283.9 491.7,287.0 494.8,291.7 497.9,301.1 505.7,308.9 516.6,318.2 530.7,326.8 543.2,335.4 551.0,340.3 554.1,345.0 557.2,354.3 560.3,360.6 561.9,363.7 559.5,376.2 557.2,393.3 553.4,400.3 550.3,408.1 545.6,420.6 541.0,433.1 536.3,442.4 528.5,447.1 519.1,454.1 516.0,454.1 498.8,453.3 487.9,456.5 485.2,457.4 478.6,459.9 472.0,464.0 465.7,464.9 465.4,468.2 460.4,471.5 452.1,474.8 443.8,477.3 435.6,478.1 430.6,475.6 427.3,471.5 424.0,459.9 420.7,450.0 415.7,438.4 410.7,428.4 406.4,420.3 404.0,412.1 402.9,402.7 401.7,398.3 401.0,396.5 401.7,395.3 403.2,394.9 404.0,387.1 404.8,376.2 405.6,366.8 407.1,355.9 409.5,348.1 415.7,335.4 423.5,319.8 429.8,313.5 436.0,305.7 439.1,296.4" fill="#450257"/>
<polygon points="442.2,281.6 445.4,280.5 451.6,278.9 462.5,278.4 467.2,276.9 474.2,274.5 479.2,276.1 482.8,278.4 485.4,280.8 489.2,283.9 491.7,287.0 494.8,291.7 497.9,301.1 505.7,308.9 516.6,318.2 530.7,326.8 543.2,335.4 551.0,340.3 554.1,345.0 557.2,354.3 560.3,360.6 561.9,363.7 559.5,376.2 557.2,393.3 553.4,400.3 550.3,408.1 545.6,420.6 541.0,433.1 536.3,442.4 528.5,447.1 519.1,454.1 516.0,454.1 498.8,453.3 487.9,456.5 485.2,457.4 478.6,459.9 472.0,464.0 465.7,464.9 465.4,468.2 460.4,471.5 452.1,474.8 443.8,477.3 435.6,478.1 430.6,475.6 427.3,471.5 424.0,459.9 420.7,450.0 415.7,438.4 410.7,428.4 406.4,420.3 404.0,412.1 402.9,402.7 401.7,398.3 401.0,396.5 401.7,395.3 403.2,394.9 404.0,387.1 404.8,376.2 405.6,366.8 407.1,355.9 409.5,348.1 415.7,335.4 423.5,319.8 429.8,313.5 436.0,305.7 439.1,296.4" fill="url(#tex)"/>
<g clip-path="url(#clipd)"><g filter="url(#soft)"><path fill="#46327e" d="M416.40 380.65h2.4v2.4h-2.4zM418.45 380.65h2.4v2.4h-2.4zM416.40 382.70h2.4v2.4h-2.4zM418.45 382.70h2.4v2.4h-2.4zM414.35 384.75h2.4v2.4h-2.4zM416.40 384.75h2.4v2.4h-2.4zM418.45 384.75h2.4v2.4h-2.4zM420.50 384.75h2.4v2.4h-2.4zM428.70 386.80h2.4v2.4h-2.4zM430.75 386.80h2.4v2.4h-2.4zM432.80 386.80h2.4v2.4h-2.4zM436.90 386.80h2.4v2.4h-2.4zM438.95 386.80h2.4v2.4h-2.4zM436.90 388.85h2.4v2.4h-2.4zM438.95 388.85h2.4v2.4h-2.4zM438.95 390.90h2.4v2.4h-2.4zM410.25 392.95h2.4v2.4h-2.4zM414.35 392.95h2.4v2.4h-2.4zM416.40 392.95h2.4v2.4h-2.4zM436.90 392.95h2.4v2.4h-2.4zM408.20 395.00h2.4v2.4h-2.4zM436.90 395.00h2.4v2.4h-2.4zM438.95 395.00h2.4v2.4h-2.4zM408.20 397.05h2.4v2.4h-2.4zM424.60 401.15h2.4v2.4h-2.4zM426.65 401.15h2.4v2.4h-2.4zM428.70 401.15h2.4v2.4h-2.4zM426.65 403.20h2.4v2.4h-2.4zM426.65 405.25h2.4v2.4h-2.4zM408.20 407.30h2.4v2.4h-2.4zM426.65 407.30h2.4v2.4h-2.4zM410.25 409.35h2.4v2.4h-2.4zM422.55 409.35h2.4v2.4h-2.4zM424.60 409.35h2.4v2.4h-2.4zM408.20 411.40h2.4v2.4h-2.4zM416.40 411.40h2.4v2.4h-2.4zM418.45 411.40h2.4v2.4h-2.4zM420.50 411.40h2.4v2.4h-2.4zM452.90 377.00h2.4v2.4h-2.4zM431.50 349.80h2.4v2.4h-2.4zM429.50 352.00h2.4v2.4h-2.4zM425.00 359.00h2.4v2.4h-2.4zM425.00 361.10h2.4v2.4h-2.4zM425.00 364.00h2.4v2.4h-2.4z"/><path fill="#365c8d" d="M422.55 384.75h2.4v2.4h-2.4zM410.25 386.80h2.4v2.4h-2.4zM412.30 386.80h2.4v2.4h-2.4zM416.40 386.80h2.4v2.4h-2.4zM426.65 386.80h2.4v2.4h-2.4zM410.25 388.85h2.4v2.4h-2.4zM430.75 388.85h2.4v2.4h-2.4zM432.80 388.85h2.4v2.4h-2.4zM434.85 388.85h2.4v2.4h-2.4zM410.25 390.90h2.4v2.4h-2.4zM432.80 390.90h2.4v2.4h-2.4zM434.85 390.90h2.4v2.4h-2.4zM436.90 390.90h2.4v2.4h-2.4zM412.30 392.95h2.4v2.4h-2.4zM418.45 392.95h2.4v2.4h-2.4zM434.85 392.95h2.4v2.4h-2.4zM412.30 395.00h2.4v2.4h-2.4zM418.45 395.00h2.4v2.4h-2.4zM420.50 395.00h2.4v2.4h-2.4zM432.80 395.00h2.4v2.4h-2.4zM434.85 395.00h2.4v2.4h-2.4zM410.25 397.05h2.4v2.4h-2.4zM412.30 397.05h2.4v2.4h-2.4zM416.40 397.05h2.4v2.4h-2.4zM420.50 397.05h2.4v2.4h-2.4zM434.85 397.05h2.4v2.4h-2.4zM410.25 399.10h2.4v2.4h-2.4zM416.40 399.10h2.4v2.4h-2.4zM420.50 399.10h2.4v2.4h-2.4zM422.55 399.10h2.4v2.4h-2.4zM424.60 399.10h2.4v2.4h-2.4zM432.80 399.10h2.4v2.4h-2.4zM430.75 401.15h2.4v2.4h-2.4zM432.80 401.15h2.4v2.4h-2.4zM408.20 403.20h2.4v2.4h-2.4zM416.40 403.20h2.4v2.4h-2.4zM418.45 403.20h2.4v2.4h-2.4zM420.50 403.20h2.4v2.4h-2.4zM420.50 405.25h2.4v2.4h-2.4zM428.70 405.25h2.4v2.4h-2.4zM410.25 407.30h2.4v2.4h-2.4zM424.60 407.30h2.4v2.4h-2.4zM412.30 409.35h2.4v2.4h-2.4zM418.45 409.35h2.4v2.4h-2.4zM426.65 409.35h2.4v2.4h-2.4zM451.90 375.50h2.4v2.4h-2.4zM454.00 374.00h2.4v2.4h-2.4zM448.70 379.50h2.4v2.4h-2.4zM450.80 378.50h2.4v2.4h-2.4zM425.00 419.00h2.4v2.4h-2.4z"/><path fill="#277f8e" d="M418.45 386.80h2.4v2.4h-2.4zM420.50 386.80h2.4v2.4h-2.4zM424.60 386.80h2.4v2.4h-2.4zM434.85 386.80h2.4v2.4h-2.4zM416.40 388.85h2.4v2.4h-2.4zM428.70 388.85h2.4v2.4h-2.4zM412.30 390.90h2.4v2.4h-2.4zM416.40 390.90h2.4v2.4h-2.4zM418.45 390.90h2.4v2.4h-2.4zM424.60 390.90h2.4v2.4h-2.4zM420.50 392.95h2.4v2.4h-2.4zM424.60 392.95h2.4v2.4h-2.4zM432.80 392.95h2.4v2.4h-2.4zM441.00 392.95h2.4v2.4h-2.4zM416.40 395.00h2.4v2.4h-2.4zM422.55 395.00h2.4v2.4h-2.4zM424.60 395.00h2.4v2.4h-2.4zM414.35 397.05h2.4v2.4h-2.4zM418.45 397.05h2.4v2.4h-2.4zM422.55 397.05h2.4v2.4h-2.4zM424.60 397.05h2.4v2.4h-2.4zM432.80 397.05h2.4v2.4h-2.4zM408.20 399.10h2.4v2.4h-2.4zM412.30 399.10h2.4v2.4h-2.4zM414.35 399.10h2.4v2.4h-2.4zM418.45 399.10h2.4v2.4h-2.4zM426.65 399.10h2.4v2.4h-2.4zM430.75 399.10h2.4v2.4h-2.4zM408.20 401.15h2.4v2.4h-2.4zM410.25 401.15h2.4v2.4h-2.4zM416.40 401.15h2.4v2.4h-2.4zM418.45 401.15h2.4v2.4h-2.4zM420.50 401.15h2.4v2.4h-2.4zM422.55 401.15h2.4v2.4h-2.4zM422.55 403.20h2.4v2.4h-2.4zM424.60 403.20h2.4v2.4h-2.4zM416.40 405.25h2.4v2.4h-2.4zM422.55 405.25h2.4v2.4h-2.4zM424.60 405.25h2.4v2.4h-2.4zM412.30 407.30h2.4v2.4h-2.4zM416.40 407.30h2.4v2.4h-2.4zM418.45 407.30h2.4v2.4h-2.4zM422.55 407.30h2.4v2.4h-2.4zM414.35 409.35h2.4v2.4h-2.4zM416.40 409.35h2.4v2.4h-2.4zM445.60 378.50h2.4v2.4h-2.4zM447.70 377.50h2.4v2.4h-2.4zM449.80 376.50h2.4v2.4h-2.4zM444.50 381.60h2.4v2.4h-2.4zM446.60 380.50h2.4v2.4h-2.4zM425.00 415.00h2.4v2.4h-2.4z"/><path fill="#1fa187" d="M414.35 386.80h2.4v2.4h-2.4zM422.55 386.80h2.4v2.4h-2.4zM418.45 388.85h2.4v2.4h-2.4zM414.35 390.90h2.4v2.4h-2.4zM422.55 390.90h2.4v2.4h-2.4zM430.75 390.90h2.4v2.4h-2.4zM422.55 392.95h2.4v2.4h-2.4zM426.65 395.00h2.4v2.4h-2.4zM410.25 403.20h2.4v2.4h-2.4zM408.20 405.25h2.4v2.4h-2.4zM410.25 405.25h2.4v2.4h-2.4zM414.35 405.25h2.4v2.4h-2.4zM418.45 405.25h2.4v2.4h-2.4zM414.35 407.30h2.4v2.4h-2.4zM420.50 407.30h2.4v2.4h-2.4zM420.50 409.35h2.4v2.4h-2.4zM443.50 379.50h2.4v2.4h-2.4z"/><path fill="#4ac16d" d="M414.35 388.85h2.4v2.4h-2.4zM422.55 388.85h2.4v2.4h-2.4zM424.60 388.85h2.4v2.4h-2.4zM426.65 388.85h2.4v2.4h-2.4zM428.70 390.90h2.4v2.4h-2.4zM426.65 392.95h2.4v2.4h-2.4zM430.75 392.95h2.4v2.4h-2.4zM426.65 397.05h2.4v2.4h-2.4zM428.70 397.05h2.4v2.4h-2.4zM430.75 397.05h2.4v2.4h-2.4zM428.70 399.10h2.4v2.4h-2.4zM412.30 401.15h2.4v2.4h-2.4zM414.35 401.15h2.4v2.4h-2.4zM412.30 403.20h2.4v2.4h-2.4zM414.35 403.20h2.4v2.4h-2.4zM412.30 405.25h2.4v2.4h-2.4z"/><path fill="#a0da39" d="M412.30 388.85h2.4v2.4h-2.4zM420.50 388.85h2.4v2.4h-2.4zM420.50 390.90h2.4v2.4h-2.4zM426.65 390.90h2.4v2.4h-2.4zM430.75 395.00h2.4v2.4h-2.4z"/><path fill="#fde725" d="M428.70 392.95h2.4v2.4h-2.4zM428.70 395.00h2.4v2.4h-2.4z"/></g></g>
<polygon points="442.2,281.6 445.4,280.5 451.6,278.9 462.5,278.4 467.2,276.9 474.2,274.5 479.2,276.1 482.8,278.4 485.4,280.8 489.2,283.9 491.7,287.0 494.8,291.7 497.9,301.1 505.7,308.9 516.6,318.2 530.7,326.8 543.2,335.4 551.0,340.3 554.1,345.0 557.2,354.3 560.3,360.6 561.9,363.7 559.5,376.2 557.2,393.3 553.4,400.3 550.3,408.1 545.6,420.6 541.0,433.1 536.3,442.4 528.5,447.1 519.1,454.1 516.0,454.1 498.8,453.3 487.9,456.5 485.2,457.4 478.6,459.9 472.0,464.0 465.7,464.9 465.4,468.2 460.4,471.5 452.1,474.8 443.8,477.3 435.6,478.1 430.6,475.6 427.3,471.5 424.0,459.9 420.7,450.0 415.7,438.4 410.7,428.4 406.4,420.3 404.0,412.1 402.9,402.7 401.7,398.3 401.0,396.5 401.7,395.3 403.2,394.9 404.0,387.1 404.8,376.2 405.6,366.8 407.1,355.9 409.5,348.1 415.7,335.4 423.5,319.8 429.8,313.5 436.0,305.7 439.1,296.4" fill="none" stroke="#000" stroke-width="0.9" stroke-linejoin="round"/>
<line x1="446.50" y1="268.60" x2="446.50" y2="366.80" stroke="#000" stroke-width="0.5" stroke-opacity="0.55"/>
<line x1="446.50" y1="288.70" x2="576.30" y2="288.70" stroke="#000" stroke-width="0.5" stroke-opacity="0.55"/>
<line x1="389.90" y1="366.80" x2="515.70" y2="366.80" stroke="#000" stroke-width="0.5" stroke-opacity="0.55"/>
<line x1="515.70" y1="366.80" x2="515.70" y2="485.00" stroke="#000" stroke-width="0.5" stroke-opacity="0.55"/>
<line x1="515.70" y1="406.10" x2="576.30" y2="406.10" stroke="#000" stroke-width="0.5" stroke-opacity="0.55"/>
<text x="412.60" y="316.50" font-size="8.0" text-anchor="middle" textLength="12.16" lengthAdjust="spacingAndGlyphs" fill="#1c1c1c">WY</text>
<text x="522.60" y="285.00" font-size="8.0" text-anchor="middle" textLength="10.68" lengthAdjust="spacingAndGlyphs" fill="#1c1c1c">SD</text>
<text x="535.00" y="316.50" font-size="8.0" text-anchor="middle" textLength="10.49" lengthAdjust="spacingAndGlyphs" fill="#1c1c1c">NE</text>
<text x="407.20" y="461.30" font-size="8.0" text-anchor="middle" textLength="11.29" lengthAdjust="spacingAndGlyphs" fill="#1c1c1c">CO</text>
<text x="550.00" y="461.80" font-size="8.0" text-anchor="middle" textLength="9.81" lengthAdjust="spacingAndGlyphs" fill="#1c1c1c">KS</text>
<rect x="389.90" y="268.60" width="186.40" height="216.40" fill="none" stroke="#6e6e6e" stroke-width="0.9"/>
<line x1="413.50" y1="485.00" x2="413.50" y2="487.60" stroke="#6e6e6e" stroke-width="0.8"/>
<text x="413.50" y="495.80" font-size="8.5" text-anchor="middle" textLength="22.66" lengthAdjust="spacingAndGlyphs" fill="#1c1c1c">−105</text>
<line x1="448.05" y1="485.00" x2="448.05" y2="487.60" stroke="#6e6e6e" stroke-width="0.8"/>
<text x="448.05" y="495.80" font-size="8.5" text-anchor="middle" textLength="22.66" lengthAdjust="spacingAndGlyphs" fill="#1c1c1c">−104</text>
<line x1="482.60" y1="485.00" x2="482.60" y2="487.60" stroke="#6e6e6e" stroke-width="0.8"/>
<text x="482.60" y="495.80" font-size="8.5" text-anchor="middle" textLength="22.66" lengthAdjust="spacingAndGlyphs" fill="#1c1c1c">−103</text>
<line x1="517.15" y1="485.00" x2="517.15" y2="487.60" stroke="#6e6e6e" stroke-width="0.8"/>
<text x="517.15" y="495.80" font-size="8.5" text-anchor="middle" textLength="22.66" lengthAdjust="spacingAndGlyphs" fill="#1c1c1c">−102</text>
<line x1="551.70" y1="485.00" x2="551.70" y2="487.60" stroke="#6e6e6e" stroke-width="0.8"/>
<text x="551.70" y="495.80" font-size="8.5" text-anchor="middle" textLength="22.66" lengthAdjust="spacingAndGlyphs" fill="#1c1c1c">−101</text>
<line x1="387.30" y1="288.60" x2="389.90" y2="288.60" stroke="#6e6e6e" stroke-width="0.8"/>
<text x="385.10" y="291.90" font-size="8.5" text-anchor="end" textLength="10.50" lengthAdjust="spacingAndGlyphs" fill="#1c1c1c">43</text>
<line x1="387.30" y1="327.86" x2="389.90" y2="327.86" stroke="#6e6e6e" stroke-width="0.8"/>
<text x="385.10" y="331.16" font-size="8.5" text-anchor="end" textLength="10.50" lengthAdjust="spacingAndGlyphs" fill="#1c1c1c">42</text>
<line x1="387.30" y1="367.12" x2="389.90" y2="367.12" stroke="#6e6e6e" stroke-width="0.8"/>
<text x="385.10" y="370.42" font-size="8.5" text-anchor="end" textLength="10.50" lengthAdjust="spacingAndGlyphs" fill="#1c1c1c">41</text>
<line x1="387.30" y1="406.38" x2="389.90" y2="406.38" stroke="#6e6e6e" stroke-width="0.8"/>
<text x="385.10" y="409.68" font-size="8.5" text-anchor="end" textLength="10.50" lengthAdjust="spacingAndGlyphs" fill="#1c1c1c">40</text>
<line x1="387.30" y1="445.64" x2="389.90" y2="445.64" stroke="#6e6e6e" stroke-width="0.8"/>
<text x="385.10" y="448.94" font-size="8.5" text-anchor="end" textLength="10.50" lengthAdjust="spacingAndGlyphs" fill="#1c1c1c">39</text>
<line x1="387.30" y1="484.90" x2="389.90" y2="484.90" stroke="#6e6e6e" stroke-width="0.8"/>
<text x="385.10" y="488.20" font-size="8.5" text-anchor="end" textLength="10.50" lengthAdjust="spacingAndGlyphs" fill="#1c1c1c">38</text>
<text x="9.70" y="126.40" font-size="8.5" text-anchor="middle" textLength="33.96" lengthAdjust="spacingAndGlyphs" fill="#1c1c1c" transform="rotate(-90 9.70 126.40)">Latitude</text>
<text x="134.65" y="255.30" font-size="8.5" text-anchor="middle" textLength="41.03" lengthAdjust="spacingAndGlyphs" fill="#1c1c1c">Longitude</text>
<text x="9.70" y="381.00" font-size="8.5" text-anchor="middle" textLength="33.96" lengthAdjust="spacingAndGlyphs" fill="#1c1c1c" transform="rotate(-90 9.70 381.00)">Latitude</text>
<text x="134.65" y="509.80" font-size="8.5" text-anchor="middle" textLength="41.03" lengthAdjust="spacingAndGlyphs" fill="#1c1c1c">Longitude</text>
<text x="372.30" y="126.35" font-size="8.5" text-anchor="middle" textLength="33.96" lengthAdjust="spacingAndGlyphs" fill="#1c1c1c" transform="rotate(-90 372.30 126.35)">Latitude</text>
<text x="483.40" y="255.40" font-size="8.5" text-anchor="middle" textLength="41.03" lengthAdjust="spacingAndGlyphs" fill="#1c1c1c">Longitude</text>
<text x="370.70" y="376.80" font-size="8.5" text-anchor="middle" textLength="33.96" lengthAdjust="spacingAndGlyphs" fill="#1c1c1c" transform="rotate(-90 370.70 376.80)">Latitude</text>
<text x="483.10" y="511.10" font-size="8.5" text-anchor="middle" textLength="41.03" lengthAdjust="spacingAndGlyphs" fill="#1c1c1c">Longitude</text>
<text x="134.65" y="8.80" font-size="11.8" font-weight="bold" text-anchor="middle" textLength="89.22" lengthAdjust="spacingAndGlyphs" fill="#1c1c1c">Permian Basin</text>
<text x="483.60" y="8.80" font-size="11.8" font-weight="bold" text-anchor="middle" textLength="82.26" lengthAdjust="spacingAndGlyphs" fill="#1c1c1c">Denver Basin</text>
<text x="-0.30" y="27.90" font-size="14.5" font-weight="bold" text-anchor="start" fill="#1c1c1c">a</text>
<text x="360.60" y="29.90" font-size="14.5" font-weight="bold" text-anchor="start" fill="#1c1c1c">b</text>
<text x="-0.30" y="283.00" font-size="14.5" font-weight="bold" text-anchor="start" fill="#1c1c1c">c</text>
<text x="360.60" y="284.90" font-size="14.5" font-weight="bold" text-anchor="start" fill="#1c1c1c">d</text>
<rect x="258.50" y="37.80" width="85.30" height="111.80" rx="2" ry="2" fill="#fff" stroke="#dcdcdc" stroke-width="0.8"/>
<text x="301.15" y="47.80" font-size="8.5" text-anchor="middle" textLength="79.10" lengthAdjust="spacingAndGlyphs" fill="#1c1c1c">Storage tank count</text>
<circle cx="278.80" cy="57.00" r="3.15" fill="#440154"/>
<text x="294.10" y="59.80" font-size="8.5" text-anchor="start" textLength="18.72" lengthAdjust="spacingAndGlyphs" fill="#1c1c1c">0 - 7</text>
<circle cx="278.80" cy="69.10" r="3.15" fill="#46327e"/>
<text x="294.10" y="71.90" font-size="8.5" text-anchor="start" textLength="23.97" lengthAdjust="spacingAndGlyphs" fill="#1c1c1c">7 - 23</text>
<circle cx="278.80" cy="81.20" r="3.15" fill="#365c8d"/>
<text x="294.10" y="84.00" font-size="8.5" text-anchor="start" textLength="29.22" lengthAdjust="spacingAndGlyphs" fill="#1c1c1c">23 - 44</text>
<circle cx="278.80" cy="93.40" r="3.15" fill="#277f8e"/>
<text x="294.10" y="96.20" font-size="8.5" text-anchor="start" textLength="29.22" lengthAdjust="spacingAndGlyphs" fill="#1c1c1c">44 - 67</text>
<circle cx="278.80" cy="105.60" r="3.15" fill="#1fa187"/>
<text x="294.10" y="108.40" font-size="8.5" text-anchor="start" textLength="29.22" lengthAdjust="spacingAndGlyphs" fill="#1c1c1c">67 - 94</text>
<circle cx="278.80" cy="117.70" r="3.15" fill="#4ac16d"/>
<text x="294.10" y="120.50" font-size="8.5" text-anchor="start" textLength="34.47" lengthAdjust="spacingAndGlyphs" fill="#1c1c1c">94 - 130</text>
<circle cx="278.80" cy="129.90" r="3.15" fill="#a0da39"/>
<text x="294.10" y="132.70" font-size="8.5" text-anchor="start" textLength="39.71" lengthAdjust="spacingAndGlyphs" fill="#1c1c1c">130 - 187</text>
<circle cx="278.80" cy="142.10" r="3.15" fill="#fde725"/>
<text x="294.10" y="144.90" font-size="8.5" text-anchor="start" textLength="39.71" lengthAdjust="spacingAndGlyphs" fill="#1c1c1c">187 - 360</text>
<rect x="598.30" y="37.80" width="86.00" height="112.00" rx="2" ry="2" fill="#fff" stroke="#dcdcdc" stroke-width="0.8"/>
<text x="641.30" y="47.90" font-size="8.5" text-anchor="middle" textLength="79.10" lengthAdjust="spacingAndGlyphs" fill="#1c1c1c">Storage tank count</text>
<circle cx="618.20" cy="56.50" r="3.15" fill="#440154"/>
<text x="633.50" y="59.30" font-size="8.5" text-anchor="start" textLength="18.72" lengthAdjust="spacingAndGlyphs" fill="#1c1c1c">0 - 5</text>
<circle cx="618.20" cy="68.80" r="3.15" fill="#46327e"/>
<text x="633.50" y="71.60" font-size="8.5" text-anchor="start" textLength="23.97" lengthAdjust="spacingAndGlyphs" fill="#1c1c1c">5 - 22</text>
<circle cx="618.20" cy="81.00" r="3.15" fill="#365c8d"/>
<text x="633.50" y="83.80" font-size="8.5" text-anchor="start" textLength="29.22" lengthAdjust="spacingAndGlyphs" fill="#1c1c1c">22 - 52</text>
<circle cx="618.20" cy="93.30" r="3.15" fill="#277f8e"/>
<text x="633.50" y="96.10" font-size="8.5" text-anchor="start" textLength="29.22" lengthAdjust="spacingAndGlyphs" fill="#1c1c1c">52 - 94</text>
<circle cx="618.20" cy="105.50" r="3.15" fill="#1fa187"/>
<text x="633.50" y="108.30" font-size="8.5" text-anchor="start" textLength="34.47" lengthAdjust="spacingAndGlyphs" fill="#1c1c1c">94 - 140</text>
<circle cx="618.20" cy="117.70" r="3.15" fill="#4ac16d"/>
<text x="633.50" y="120.50" font-size="8.5" text-anchor="start" textLength="39.71" lengthAdjust="spacingAndGlyphs" fill="#1c1c1c">140 - 190</text>
<circle cx="618.20" cy="129.90" r="3.15" fill="#a0da39"/>
<text x="633.50" y="132.70" font-size="8.5" text-anchor="start" textLength="39.71" lengthAdjust="spacingAndGlyphs" fill="#1c1c1c">190 - 274</text>
<circle cx="618.20" cy="142.10" r="3.15" fill="#fde725"/>
<text x="633.50" y="144.90" font-size="8.5" text-anchor="start" textLength="39.71" lengthAdjust="spacingAndGlyphs" fill="#1c1c1c">274 - 352</text>
<rect x="254.50" y="292.20" width="90.80" height="121.40" rx="2" ry="2" fill="#fff" stroke="#dcdcdc" stroke-width="0.8"/>
<text x="299.90" y="301.80" font-size="8.5" text-anchor="middle" textLength="35.49" lengthAdjust="spacingAndGlyphs" fill="#1c1c1c">Well pad</text>
<text x="299.90" y="311.20" font-size="8.5" text-anchor="middle" textLength="83.38" lengthAdjust="spacingAndGlyphs" fill="#1c1c1c">production (kBOE/d)</text>
<circle cx="281.70" cy="320.90" r="3.15" fill="#440154"/>
<text x="297.00" y="323.70" font-size="8.5" text-anchor="start" textLength="18.72" lengthAdjust="spacingAndGlyphs" fill="#1c1c1c">0 - 1</text>
<circle cx="281.70" cy="333.00" r="3.15" fill="#46327e"/>
<text x="297.00" y="335.80" font-size="8.5" text-anchor="start" textLength="18.72" lengthAdjust="spacingAndGlyphs" fill="#1c1c1c">1 - 5</text>
<circle cx="281.70" cy="345.10" r="3.15" fill="#365c8d"/>
<text x="297.00" y="347.90" font-size="8.5" text-anchor="start" textLength="23.97" lengthAdjust="spacingAndGlyphs" fill="#1c1c1c">5 - 11</text>
<circle cx="281.70" cy="357.20" r="3.15" fill="#277f8e"/>
<text x="297.00" y="360.00" font-size="8.5" text-anchor="start" textLength="29.22" lengthAdjust="spacingAndGlyphs" fill="#1c1c1c">11 - 18</text>
<circle cx="281.70" cy="369.30" r="3.15" fill="#1fa187"/>
<text x="297.00" y="372.10" font-size="8.5" text-anchor="start" textLength="29.22" lengthAdjust="spacingAndGlyphs" fill="#1c1c1c">18 - 28</text>
<circle cx="281.70" cy="381.40" r="3.15" fill="#4ac16d"/>
<text x="297.00" y="384.20" font-size="8.5" text-anchor="start" textLength="29.22" lengthAdjust="spacingAndGlyphs" fill="#1c1c1c">28 - 44</text>
<circle cx="281.70" cy="393.60" r="3.15" fill="#a0da39"/>
<text x="297.00" y="396.40" font-size="8.5" text-anchor="start" textLength="29.22" lengthAdjust="spacingAndGlyphs" fill="#1c1c1c">44 - 63</text>
<circle cx="281.70" cy="405.70" r="3.15" fill="#fde725"/>
<text x="297.00" y="408.50" font-size="8.5" text-anchor="start" textLength="29.22" lengthAdjust="spacingAndGlyphs" fill="#1c1c1c">63 - 79</text>
<rect x="593.20" y="288.10" width="90.60" height="121.70" rx="2" ry="2" fill="#fff" stroke="#dcdcdc" stroke-width="0.8"/>
<text x="638.50" y="298.20" font-size="8.5" text-anchor="middle" textLength="35.49" lengthAdjust="spacingAndGlyphs" fill="#1c1c1c">Well pad</text>
<text x="638.50" y="307.60" font-size="8.5" text-anchor="middle" textLength="83.38" lengthAdjust="spacingAndGlyphs" fill="#1c1c1c">production (kBOE/d)</text>
<circle cx="620.40" cy="316.60" r="3.15" fill="#440154"/>
<text x="635.60" y="319.40" font-size="8.5" text-anchor="start" textLength="18.72" lengthAdjust="spacingAndGlyphs" fill="#1c1c1c">0 - 1</text>
<circle cx="620.40" cy="328.80" r="3.15" fill="#46327e"/>
<text x="635.60" y="331.60" font-size="8.5" text-anchor="start" textLength="18.72" lengthAdjust="spacingAndGlyphs" fill="#1c1c1c">1 - 3</text>
<circle cx="620.40" cy="341.00" r="3.15" fill="#365c8d"/>
<text x="635.60" y="343.80" font-size="8.5" text-anchor="start" textLength="18.72" lengthAdjust="spacingAndGlyphs" fill="#1c1c1c">3 - 6</text>
<circle cx="620.40" cy="353.20" r="3.15" fill="#277f8e"/>
<text x="635.60" y="356.00" font-size="8.5" text-anchor="start" textLength="23.97" lengthAdjust="spacingAndGlyphs" fill="#1c1c1c">6 - 10</text>
<circle cx="620.40" cy="365.40" r="3.15" fill="#1fa187"/>
<text x="635.60" y="368.20" font-size="8.5" text-anchor="start" textLength="29.22" lengthAdjust="spacingAndGlyphs" fill="#1c1c1c">10 - 14</text>
<circle cx="620.40" cy="377.60" r="3.15" fill="#4ac16d"/>
<text x="635.60" y="380.40" font-size="8.5" text-anchor="start" textLength="29.22" lengthAdjust="spacingAndGlyphs" fill="#1c1c1c">14 - 18</text>
<circle cx="620.40" cy="389.80" r="3.15" fill="#a0da39"/>
<text x="635.60" y="392.60" font-size="8.5" text-anchor="start" textLength="29.22" lengthAdjust="spacingAndGlyphs" fill="#1c1c1c">18 - 25</text>
<circle cx="620.40" cy="402.00" r="3.15" fill="#fde725"/>
<text x="635.60" y="404.80" font-size="8.5" text-anchor="start" textLength="29.22" lengthAdjust="spacingAndGlyphs" fill="#1c1c1c">25 - 33</text>
</svg>
</body></html>
